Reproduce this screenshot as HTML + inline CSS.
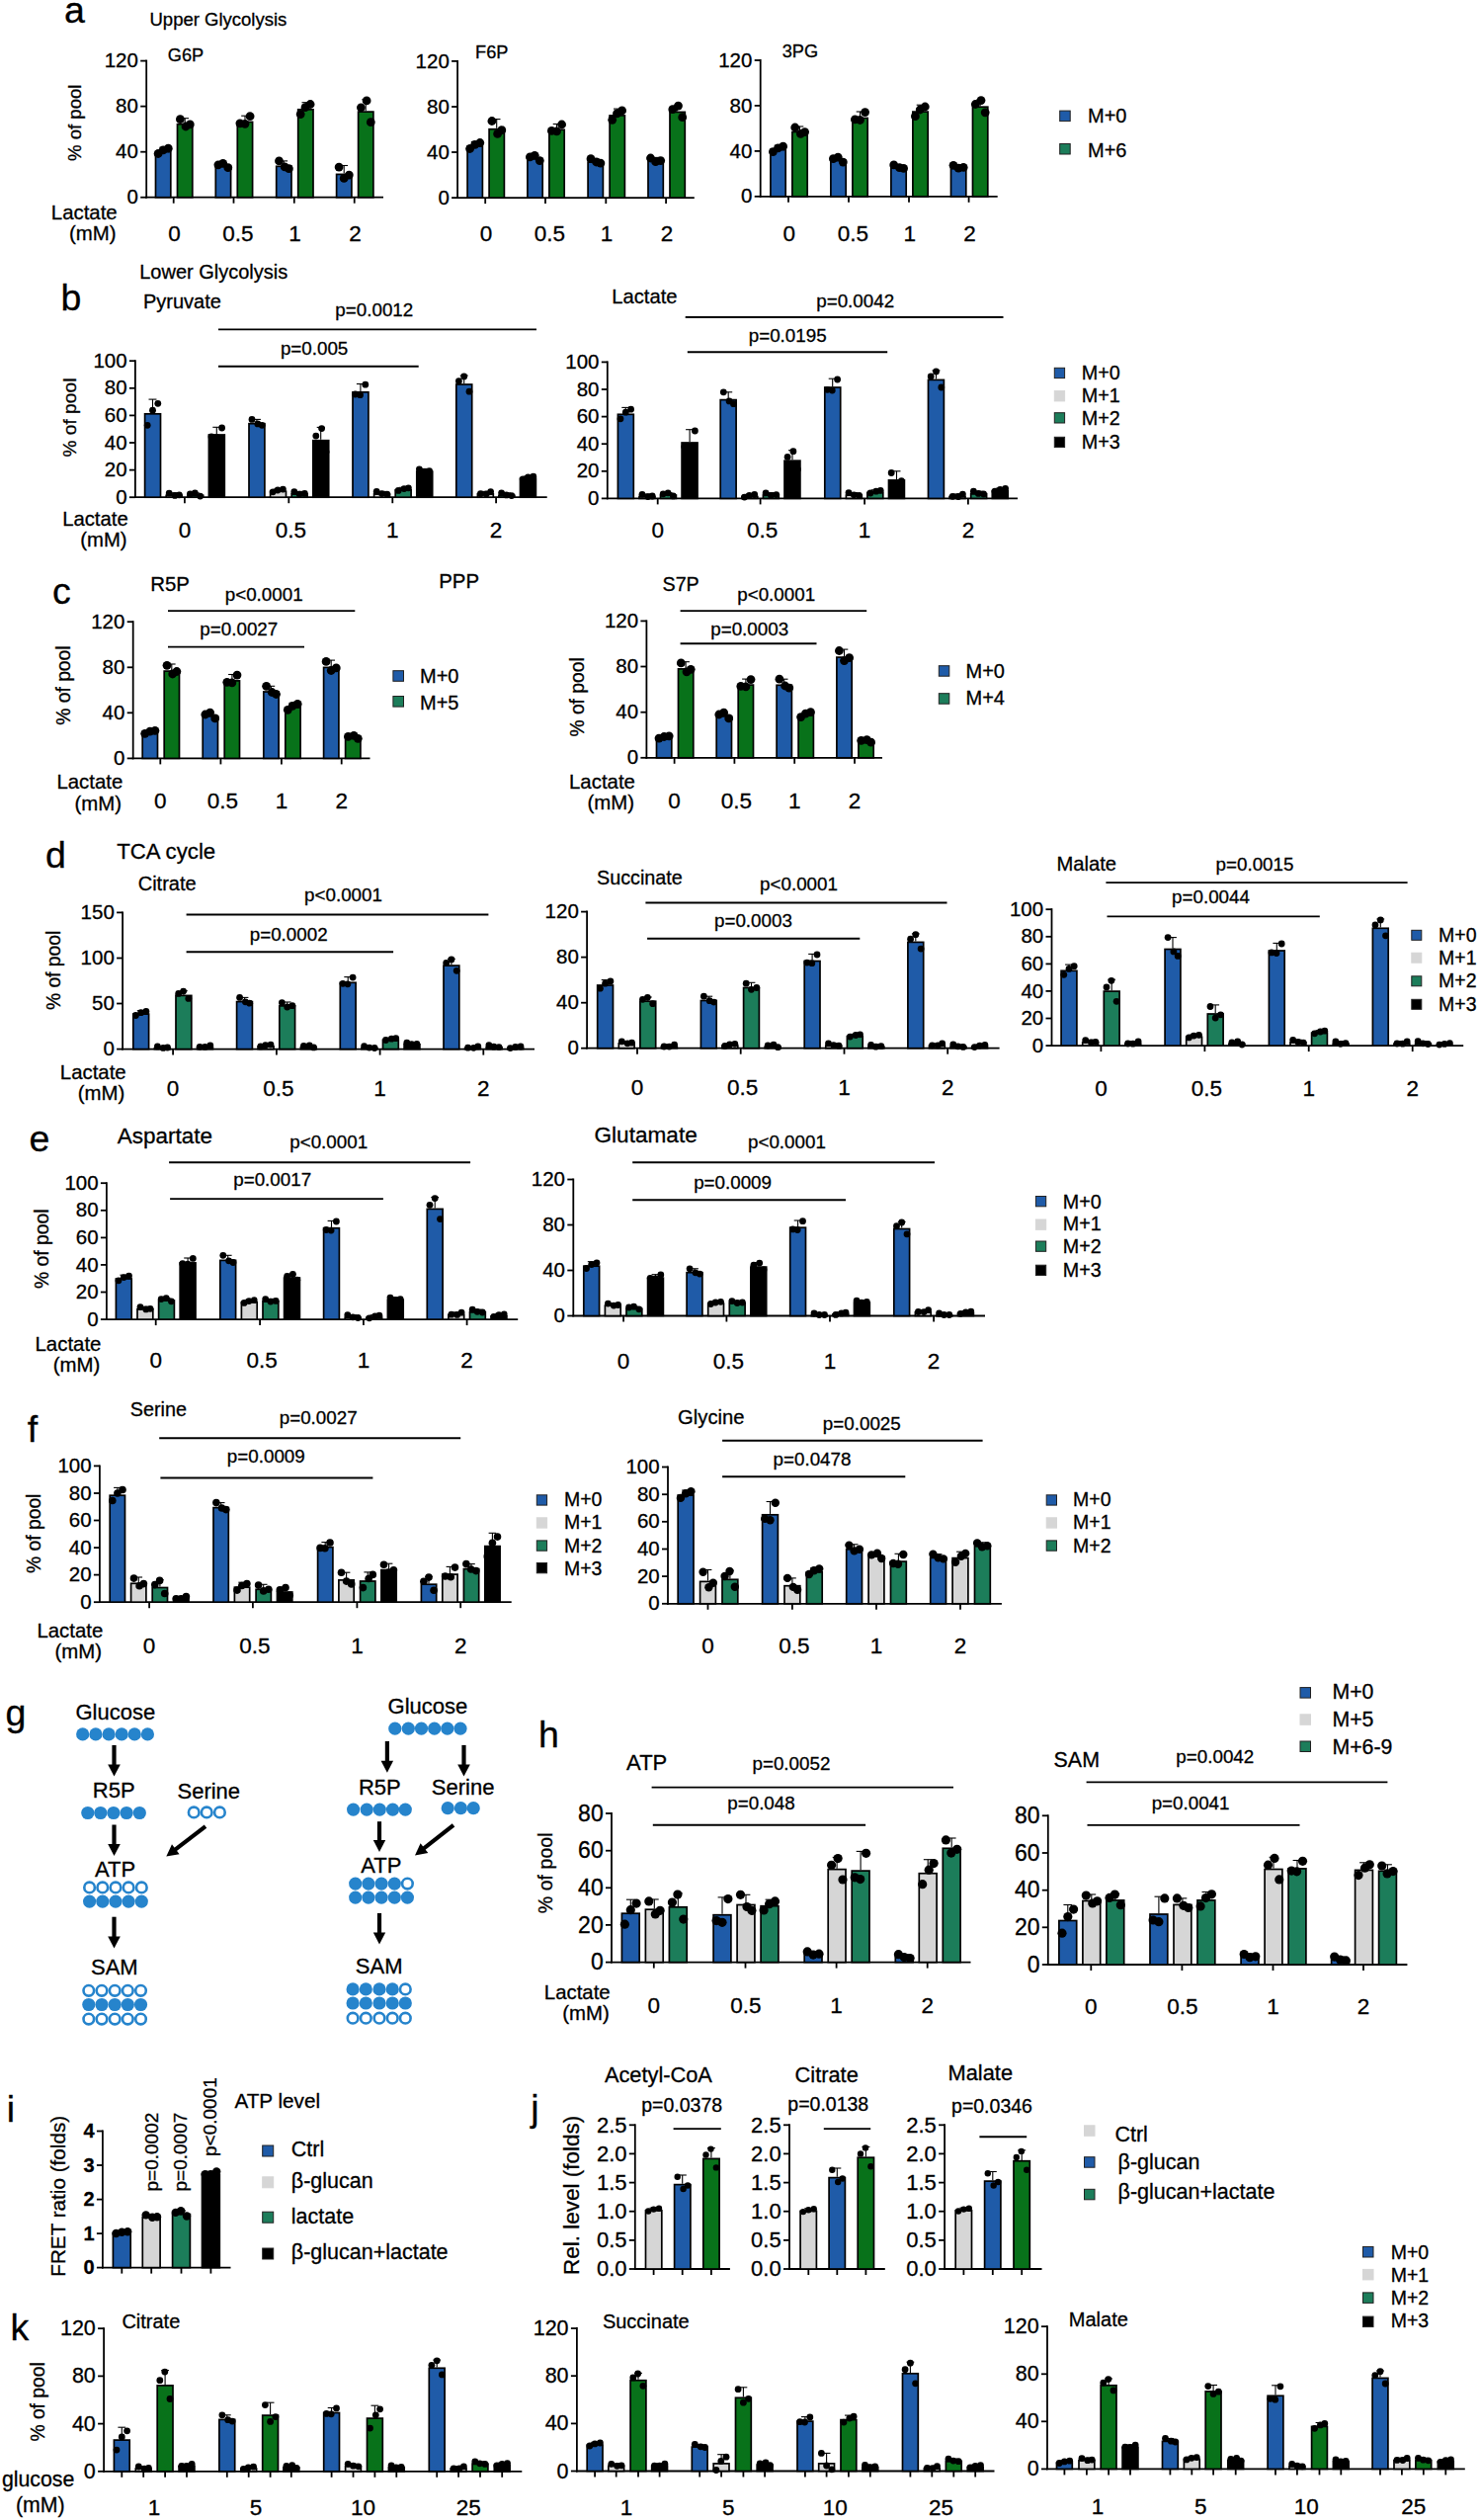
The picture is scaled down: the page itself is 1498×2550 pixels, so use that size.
<!DOCTYPE html>
<html><head><meta charset="utf-8"><style>
html,body{margin:0;padding:0;background:#fff;}
svg{display:block;}
text{font-family:"Liberation Sans", sans-serif;stroke:#000;stroke-width:0.3px;}
</style></head><body>
<svg width="1498" height="2550" viewBox="0 0 1498 2550" font-family='"Liberation Sans", sans-serif'>
<rect width="1498" height="2550" fill="#fff"/>
<text x="64.90" y="22.70" font-size="37.5" text-anchor="start" fill="#000">a</text>
<text x="151.50" y="25.50" font-size="18.5" text-anchor="start" fill="#000">Upper Glycolysis</text>
<line x1="148.2" y1="60.6" x2="148.2" y2="200.6" stroke="#000" stroke-width="1.8"/>
<line x1="142.2" y1="199.7" x2="148.2" y2="199.7" stroke="#000" stroke-width="1.8"/>
<text x="139.90" y="206.38" font-size="20.5" text-anchor="end" fill="#000">0</text>
<line x1="142.2" y1="153.7" x2="148.2" y2="153.7" stroke="#000" stroke-width="1.8"/>
<text x="139.90" y="160.34" font-size="20.5" text-anchor="end" fill="#000">40</text>
<line x1="142.2" y1="107.6" x2="148.2" y2="107.6" stroke="#000" stroke-width="1.8"/>
<text x="139.90" y="114.31" font-size="20.5" text-anchor="end" fill="#000">80</text>
<line x1="142.2" y1="61.6" x2="148.2" y2="61.6" stroke="#000" stroke-width="1.8"/>
<text x="139.90" y="68.27" font-size="20.5" text-anchor="end" fill="#000">120</text>
<line x1="147.3" y1="199.7" x2="388.0" y2="199.7" stroke="#000" stroke-width="1.8"/>
<rect x="157.5" y="153.4" width="15.3" height="46.3" fill="#1f5ba8" stroke="#000" stroke-width="1.7"/>
<line x1="165.2" y1="152.5" x2="165.2" y2="149.2" stroke="#000" stroke-width="1.1"/>
<line x1="161.4" y1="149.2" x2="169.0" y2="149.2" stroke="#000" stroke-width="1.1"/>
<circle cx="160.1" cy="155.5" r="4.4" fill="#000"/>
<circle cx="165.2" cy="151.9" r="4.4" fill="#000"/>
<circle cx="170.3" cy="150.2" r="4.4" fill="#000"/>
<rect x="179.5" y="125.7" width="15.3" height="74.0" fill="#08721a" stroke="#000" stroke-width="1.7"/>
<line x1="187.2" y1="124.9" x2="187.2" y2="119.7" stroke="#000" stroke-width="1.1"/>
<line x1="183.4" y1="119.7" x2="191.0" y2="119.7" stroke="#000" stroke-width="1.1"/>
<circle cx="182.4" cy="120.7" r="4.4" fill="#000"/>
<circle cx="188.0" cy="128.0" r="4.4" fill="#000"/>
<circle cx="192.3" cy="125.9" r="4.4" fill="#000"/>
<rect x="218.3" y="168.3" width="15.3" height="31.4" fill="#1f5ba8" stroke="#000" stroke-width="1.7"/>
<line x1="226.0" y1="167.5" x2="226.0" y2="165.2" stroke="#000" stroke-width="1.1"/>
<line x1="222.2" y1="165.2" x2="229.8" y2="165.2" stroke="#000" stroke-width="1.1"/>
<circle cx="220.9" cy="166.8" r="4.4" fill="#000"/>
<circle cx="225.7" cy="165.4" r="4.4" fill="#000"/>
<circle cx="230.8" cy="169.7" r="4.4" fill="#000"/>
<rect x="240.3" y="123.4" width="15.3" height="76.3" fill="#08721a" stroke="#000" stroke-width="1.7"/>
<line x1="248.0" y1="122.6" x2="248.0" y2="117.2" stroke="#000" stroke-width="1.1"/>
<line x1="244.2" y1="117.2" x2="251.8" y2="117.2" stroke="#000" stroke-width="1.1"/>
<circle cx="242.9" cy="124.8" r="4.4" fill="#000"/>
<circle cx="248.0" cy="125.3" r="4.4" fill="#000"/>
<circle cx="253.1" cy="117.7" r="4.4" fill="#000"/>
<rect x="279.7" y="168.3" width="15.3" height="31.4" fill="#1f5ba8" stroke="#000" stroke-width="1.7"/>
<line x1="287.3" y1="167.5" x2="287.3" y2="162.9" stroke="#000" stroke-width="1.1"/>
<line x1="283.5" y1="162.9" x2="291.1" y2="162.9" stroke="#000" stroke-width="1.1"/>
<circle cx="282.5" cy="162.9" r="4.4" fill="#000"/>
<circle cx="288.2" cy="168.9" r="4.4" fill="#000"/>
<circle cx="292.4" cy="170.7" r="4.4" fill="#000"/>
<rect x="301.7" y="110.8" width="15.3" height="88.9" fill="#08721a" stroke="#000" stroke-width="1.7"/>
<line x1="309.3" y1="109.9" x2="309.3" y2="103.7" stroke="#000" stroke-width="1.1"/>
<line x1="305.5" y1="103.7" x2="313.1" y2="103.7" stroke="#000" stroke-width="1.1"/>
<circle cx="304.2" cy="115.6" r="4.4" fill="#000"/>
<circle cx="309.0" cy="108.7" r="4.4" fill="#000"/>
<circle cx="314.1" cy="105.5" r="4.4" fill="#000"/>
<rect x="340.6" y="176.4" width="15.3" height="23.3" fill="#1f5ba8" stroke="#000" stroke-width="1.7"/>
<line x1="348.2" y1="175.5" x2="348.2" y2="167.5" stroke="#000" stroke-width="1.1"/>
<line x1="344.4" y1="167.5" x2="352.0" y2="167.5" stroke="#000" stroke-width="1.1"/>
<circle cx="343.1" cy="169.1" r="4.4" fill="#000"/>
<circle cx="348.2" cy="180.4" r="4.4" fill="#000"/>
<circle cx="353.3" cy="177.1" r="4.4" fill="#000"/>
<rect x="362.6" y="113.1" width="15.3" height="86.6" fill="#08721a" stroke="#000" stroke-width="1.7"/>
<line x1="370.2" y1="112.2" x2="370.2" y2="100.7" stroke="#000" stroke-width="1.1"/>
<line x1="366.4" y1="100.7" x2="374.0" y2="100.7" stroke="#000" stroke-width="1.1"/>
<circle cx="365.4" cy="108.8" r="4.4" fill="#000"/>
<circle cx="371.1" cy="101.9" r="4.4" fill="#000"/>
<circle cx="375.3" cy="123.7" r="4.4" fill="#000"/>
<line x1="175.7" y1="199.7" x2="175.7" y2="205.7" stroke="#000" stroke-width="1.8"/>
<line x1="236.5" y1="199.7" x2="236.5" y2="205.7" stroke="#000" stroke-width="1.8"/>
<line x1="297.8" y1="199.7" x2="297.8" y2="205.7" stroke="#000" stroke-width="1.8"/>
<line x1="358.7" y1="199.7" x2="358.7" y2="205.7" stroke="#000" stroke-width="1.8"/>
<text x="176.50" y="243.50" font-size="22.5" text-anchor="middle" fill="#000">0</text>
<text x="241.00" y="243.50" font-size="22.5" text-anchor="middle" fill="#000">0.5</text>
<text x="298.60" y="243.50" font-size="22.5" text-anchor="middle" fill="#000">1</text>
<text x="359.50" y="243.50" font-size="22.5" text-anchor="middle" fill="#000">2</text>
<text x="169.80" y="61.80" font-size="18.2" text-anchor="start" fill="#000">G6P</text>
<line x1="463.1" y1="60.9" x2="463.1" y2="201.0" stroke="#000" stroke-width="1.8"/>
<line x1="457.1" y1="200.1" x2="463.1" y2="200.1" stroke="#000" stroke-width="1.8"/>
<text x="454.80" y="206.78" font-size="20.5" text-anchor="end" fill="#000">0</text>
<line x1="457.1" y1="154.0" x2="463.1" y2="154.0" stroke="#000" stroke-width="1.8"/>
<text x="454.80" y="160.71" font-size="20.5" text-anchor="end" fill="#000">40</text>
<line x1="457.1" y1="108.0" x2="463.1" y2="108.0" stroke="#000" stroke-width="1.8"/>
<text x="454.80" y="114.64" font-size="20.5" text-anchor="end" fill="#000">80</text>
<line x1="457.1" y1="61.9" x2="463.1" y2="61.9" stroke="#000" stroke-width="1.8"/>
<text x="454.80" y="68.58" font-size="20.5" text-anchor="end" fill="#000">120</text>
<line x1="462.2" y1="200.1" x2="702.8" y2="200.1" stroke="#000" stroke-width="1.8"/>
<rect x="473.1" y="148.0" width="15.3" height="52.1" fill="#1f5ba8" stroke="#000" stroke-width="1.7"/>
<line x1="480.7" y1="147.1" x2="480.7" y2="143.4" stroke="#000" stroke-width="1.1"/>
<line x1="476.9" y1="143.4" x2="484.5" y2="143.4" stroke="#000" stroke-width="1.1"/>
<circle cx="475.6" cy="150.5" r="4.4" fill="#000"/>
<circle cx="480.7" cy="146.4" r="4.4" fill="#000"/>
<circle cx="485.8" cy="144.5" r="4.4" fill="#000"/>
<rect x="495.1" y="130.7" width="15.3" height="69.4" fill="#08721a" stroke="#000" stroke-width="1.7"/>
<line x1="502.7" y1="129.8" x2="502.7" y2="120.6" stroke="#000" stroke-width="1.1"/>
<line x1="498.9" y1="120.6" x2="506.5" y2="120.6" stroke="#000" stroke-width="1.1"/>
<circle cx="497.9" cy="122.5" r="4.4" fill="#000"/>
<circle cx="503.6" cy="135.4" r="4.4" fill="#000"/>
<circle cx="507.8" cy="131.7" r="4.4" fill="#000"/>
<rect x="533.9" y="160.6" width="15.3" height="39.5" fill="#1f5ba8" stroke="#000" stroke-width="1.7"/>
<line x1="541.5" y1="159.8" x2="541.5" y2="157.0" stroke="#000" stroke-width="1.1"/>
<line x1="537.7" y1="157.0" x2="545.3" y2="157.0" stroke="#000" stroke-width="1.1"/>
<circle cx="536.4" cy="158.9" r="4.4" fill="#000"/>
<circle cx="541.2" cy="157.3" r="4.4" fill="#000"/>
<circle cx="546.3" cy="162.6" r="4.4" fill="#000"/>
<rect x="555.9" y="131.3" width="15.3" height="68.8" fill="#08721a" stroke="#000" stroke-width="1.7"/>
<line x1="563.5" y1="130.4" x2="563.5" y2="125.5" stroke="#000" stroke-width="1.1"/>
<line x1="559.7" y1="125.5" x2="567.3" y2="125.5" stroke="#000" stroke-width="1.1"/>
<circle cx="558.4" cy="132.4" r="4.4" fill="#000"/>
<circle cx="563.5" cy="132.9" r="4.4" fill="#000"/>
<circle cx="568.6" cy="126.0" r="4.4" fill="#000"/>
<rect x="595.1" y="164.1" width="15.3" height="36.0" fill="#1f5ba8" stroke="#000" stroke-width="1.7"/>
<line x1="602.8" y1="163.2" x2="602.8" y2="160.7" stroke="#000" stroke-width="1.1"/>
<line x1="599.0" y1="160.7" x2="606.6" y2="160.7" stroke="#000" stroke-width="1.1"/>
<circle cx="598.0" cy="160.7" r="4.4" fill="#000"/>
<circle cx="603.6" cy="164.0" r="4.4" fill="#000"/>
<circle cx="607.9" cy="165.1" r="4.4" fill="#000"/>
<rect x="617.1" y="116.9" width="15.3" height="83.2" fill="#08721a" stroke="#000" stroke-width="1.7"/>
<line x1="624.8" y1="116.0" x2="624.8" y2="110.1" stroke="#000" stroke-width="1.1"/>
<line x1="621.0" y1="110.1" x2="628.6" y2="110.1" stroke="#000" stroke-width="1.1"/>
<circle cx="619.7" cy="121.3" r="4.4" fill="#000"/>
<circle cx="624.5" cy="114.9" r="4.4" fill="#000"/>
<circle cx="629.6" cy="111.9" r="4.4" fill="#000"/>
<rect x="656.0" y="162.9" width="15.3" height="37.2" fill="#1f5ba8" stroke="#000" stroke-width="1.7"/>
<line x1="663.6" y1="162.1" x2="663.6" y2="159.4" stroke="#000" stroke-width="1.1"/>
<line x1="659.8" y1="159.4" x2="667.4" y2="159.4" stroke="#000" stroke-width="1.1"/>
<circle cx="658.5" cy="160.0" r="4.4" fill="#000"/>
<circle cx="663.6" cy="163.7" r="4.4" fill="#000"/>
<circle cx="668.7" cy="162.6" r="4.4" fill="#000"/>
<rect x="678.0" y="113.4" width="15.3" height="86.7" fill="#08721a" stroke="#000" stroke-width="1.7"/>
<line x1="685.6" y1="112.6" x2="685.6" y2="106.4" stroke="#000" stroke-width="1.1"/>
<line x1="681.8" y1="106.4" x2="689.4" y2="106.4" stroke="#000" stroke-width="1.1"/>
<circle cx="680.8" cy="110.7" r="4.4" fill="#000"/>
<circle cx="686.5" cy="107.1" r="4.4" fill="#000"/>
<circle cx="690.7" cy="118.7" r="4.4" fill="#000"/>
<line x1="491.2" y1="200.1" x2="491.2" y2="206.1" stroke="#000" stroke-width="1.8"/>
<line x1="552.0" y1="200.1" x2="552.0" y2="206.1" stroke="#000" stroke-width="1.8"/>
<line x1="613.3" y1="200.1" x2="613.3" y2="206.1" stroke="#000" stroke-width="1.8"/>
<line x1="674.1" y1="200.1" x2="674.1" y2="206.1" stroke="#000" stroke-width="1.8"/>
<text x="492.00" y="243.50" font-size="22.5" text-anchor="middle" fill="#000">0</text>
<text x="556.50" y="243.50" font-size="22.5" text-anchor="middle" fill="#000">0.5</text>
<text x="614.10" y="243.50" font-size="22.5" text-anchor="middle" fill="#000">1</text>
<text x="674.90" y="243.50" font-size="22.5" text-anchor="middle" fill="#000">2</text>
<text x="481.10" y="58.90" font-size="18.2" text-anchor="start" fill="#000">F6P</text>
<line x1="769.7" y1="60.0" x2="769.7" y2="199.7" stroke="#000" stroke-width="1.8"/>
<line x1="763.7" y1="198.8" x2="769.7" y2="198.8" stroke="#000" stroke-width="1.8"/>
<text x="761.40" y="205.48" font-size="20.5" text-anchor="end" fill="#000">0</text>
<line x1="763.7" y1="152.9" x2="769.7" y2="152.9" stroke="#000" stroke-width="1.8"/>
<text x="761.40" y="159.54" font-size="20.5" text-anchor="end" fill="#000">40</text>
<line x1="763.7" y1="106.9" x2="769.7" y2="106.9" stroke="#000" stroke-width="1.8"/>
<text x="761.40" y="113.61" font-size="20.5" text-anchor="end" fill="#000">80</text>
<line x1="763.7" y1="61.0" x2="769.7" y2="61.0" stroke="#000" stroke-width="1.8"/>
<text x="761.40" y="67.67" font-size="20.5" text-anchor="end" fill="#000">120</text>
<line x1="768.8" y1="198.8" x2="1009.7" y2="198.8" stroke="#000" stroke-width="1.8"/>
<rect x="779.9" y="151.4" width="15.3" height="47.4" fill="#1f5ba8" stroke="#000" stroke-width="1.7"/>
<line x1="787.5" y1="150.6" x2="787.5" y2="147.2" stroke="#000" stroke-width="1.1"/>
<line x1="783.7" y1="147.2" x2="791.3" y2="147.2" stroke="#000" stroke-width="1.1"/>
<circle cx="782.4" cy="153.6" r="4.4" fill="#000"/>
<circle cx="787.5" cy="149.9" r="4.4" fill="#000"/>
<circle cx="792.6" cy="148.2" r="4.4" fill="#000"/>
<rect x="801.9" y="133.5" width="15.3" height="65.3" fill="#08721a" stroke="#000" stroke-width="1.7"/>
<line x1="809.5" y1="132.7" x2="809.5" y2="128.0" stroke="#000" stroke-width="1.1"/>
<line x1="805.7" y1="128.0" x2="813.3" y2="128.0" stroke="#000" stroke-width="1.1"/>
<circle cx="804.7" cy="129.0" r="4.4" fill="#000"/>
<circle cx="810.4" cy="135.4" r="4.4" fill="#000"/>
<circle cx="814.6" cy="133.6" r="4.4" fill="#000"/>
<rect x="840.9" y="162.3" width="15.3" height="36.5" fill="#1f5ba8" stroke="#000" stroke-width="1.7"/>
<line x1="848.5" y1="161.5" x2="848.5" y2="158.9" stroke="#000" stroke-width="1.1"/>
<line x1="844.7" y1="158.9" x2="852.3" y2="158.9" stroke="#000" stroke-width="1.1"/>
<circle cx="843.4" cy="160.7" r="4.4" fill="#000"/>
<circle cx="848.2" cy="159.1" r="4.4" fill="#000"/>
<circle cx="853.3" cy="164.1" r="4.4" fill="#000"/>
<rect x="862.9" y="119.5" width="15.3" height="79.3" fill="#08721a" stroke="#000" stroke-width="1.7"/>
<line x1="870.5" y1="118.6" x2="870.5" y2="113.0" stroke="#000" stroke-width="1.1"/>
<line x1="866.7" y1="113.0" x2="874.3" y2="113.0" stroke="#000" stroke-width="1.1"/>
<circle cx="865.4" cy="120.9" r="4.4" fill="#000"/>
<circle cx="870.5" cy="121.5" r="4.4" fill="#000"/>
<circle cx="875.6" cy="113.6" r="4.4" fill="#000"/>
<rect x="901.9" y="169.8" width="15.3" height="29.0" fill="#1f5ba8" stroke="#000" stroke-width="1.7"/>
<line x1="909.5" y1="168.9" x2="909.5" y2="166.9" stroke="#000" stroke-width="1.1"/>
<line x1="905.7" y1="166.9" x2="913.3" y2="166.9" stroke="#000" stroke-width="1.1"/>
<circle cx="904.7" cy="166.9" r="4.4" fill="#000"/>
<circle cx="910.4" cy="169.6" r="4.4" fill="#000"/>
<circle cx="914.6" cy="170.4" r="4.4" fill="#000"/>
<rect x="923.9" y="113.1" width="15.3" height="85.7" fill="#08721a" stroke="#000" stroke-width="1.7"/>
<line x1="931.5" y1="112.2" x2="931.5" y2="106.2" stroke="#000" stroke-width="1.1"/>
<line x1="927.7" y1="106.2" x2="935.3" y2="106.2" stroke="#000" stroke-width="1.1"/>
<circle cx="926.4" cy="117.7" r="4.4" fill="#000"/>
<circle cx="931.2" cy="111.0" r="4.4" fill="#000"/>
<circle cx="936.3" cy="108.0" r="4.4" fill="#000"/>
<rect x="962.5" y="169.8" width="15.3" height="29.0" fill="#1f5ba8" stroke="#000" stroke-width="1.7"/>
<line x1="970.1" y1="168.9" x2="970.1" y2="166.9" stroke="#000" stroke-width="1.1"/>
<line x1="966.3" y1="166.9" x2="973.9" y2="166.9" stroke="#000" stroke-width="1.1"/>
<circle cx="965.0" cy="167.3" r="4.4" fill="#000"/>
<circle cx="970.1" cy="170.2" r="4.4" fill="#000"/>
<circle cx="975.2" cy="169.4" r="4.4" fill="#000"/>
<rect x="984.5" y="108.2" width="15.3" height="90.6" fill="#08721a" stroke="#000" stroke-width="1.7"/>
<line x1="992.1" y1="107.4" x2="992.1" y2="101.0" stroke="#000" stroke-width="1.1"/>
<line x1="988.3" y1="101.0" x2="995.9" y2="101.0" stroke="#000" stroke-width="1.1"/>
<circle cx="987.3" cy="105.5" r="4.4" fill="#000"/>
<circle cx="993.0" cy="101.6" r="4.4" fill="#000"/>
<circle cx="997.2" cy="113.8" r="4.4" fill="#000"/>
<line x1="798.0" y1="198.8" x2="798.0" y2="204.8" stroke="#000" stroke-width="1.8"/>
<line x1="859.0" y1="198.8" x2="859.0" y2="204.8" stroke="#000" stroke-width="1.8"/>
<line x1="920.0" y1="198.8" x2="920.0" y2="204.8" stroke="#000" stroke-width="1.8"/>
<line x1="980.6" y1="198.8" x2="980.6" y2="204.8" stroke="#000" stroke-width="1.8"/>
<text x="798.80" y="243.50" font-size="22.5" text-anchor="middle" fill="#000">0</text>
<text x="863.50" y="243.50" font-size="22.5" text-anchor="middle" fill="#000">0.5</text>
<text x="920.80" y="243.50" font-size="22.5" text-anchor="middle" fill="#000">1</text>
<text x="981.40" y="243.50" font-size="22.5" text-anchor="middle" fill="#000">2</text>
<text x="791.70" y="58.30" font-size="18.2" text-anchor="start" fill="#000">3PG</text>
<text x="0" y="0" font-size="18.6" text-anchor="middle" dominant-baseline="central" transform="translate(75.2 124.3) rotate(-90)">% of pool</text>
<text x="118.70" y="221.50" font-size="20.4" text-anchor="end" fill="#000">Lactate</text>
<text x="117.50" y="242.90" font-size="20.4" text-anchor="end" fill="#000">(mM)</text>
<rect x="1072.7" y="112.1" width="10.5" height="10.5" fill="#1f5ba8" stroke="#222" stroke-width="1"/>
<rect x="1072.7" y="145.5" width="10.5" height="10.5" fill="#1c7d5a" stroke="#222" stroke-width="1"/>
<text x="1101.00" y="124.30" font-size="20" text-anchor="start" fill="#000">M+0</text>
<text x="1101.00" y="158.50" font-size="20" text-anchor="start" fill="#000">M+6</text>
<text x="141.20" y="281.90" font-size="20" text-anchor="start" fill="#000">Lower Glycolysis</text>
<text x="61.40" y="314.40" font-size="37.5" text-anchor="start" fill="#000">b</text>
<line x1="136.9" y1="364.2" x2="136.9" y2="504.1" stroke="#000" stroke-width="1.8"/>
<line x1="130.9" y1="503.2" x2="136.9" y2="503.2" stroke="#000" stroke-width="1.8"/>
<text x="128.60" y="509.88" font-size="20.5" text-anchor="end" fill="#000">0</text>
<line x1="130.9" y1="475.6" x2="136.9" y2="475.6" stroke="#000" stroke-width="1.8"/>
<text x="128.60" y="482.27" font-size="20.5" text-anchor="end" fill="#000">20</text>
<line x1="130.9" y1="448.0" x2="136.9" y2="448.0" stroke="#000" stroke-width="1.8"/>
<text x="128.60" y="454.68" font-size="20.5" text-anchor="end" fill="#000">40</text>
<line x1="130.9" y1="420.4" x2="136.9" y2="420.4" stroke="#000" stroke-width="1.8"/>
<text x="128.60" y="427.07" font-size="20.5" text-anchor="end" fill="#000">60</text>
<line x1="130.9" y1="392.8" x2="136.9" y2="392.8" stroke="#000" stroke-width="1.8"/>
<text x="128.60" y="399.48" font-size="20.5" text-anchor="end" fill="#000">80</text>
<line x1="130.9" y1="365.2" x2="136.9" y2="365.2" stroke="#000" stroke-width="1.8"/>
<text x="128.60" y="371.88" font-size="20.5" text-anchor="end" fill="#000">100</text>
<line x1="136.0" y1="503.2" x2="553.7" y2="503.2" stroke="#000" stroke-width="1.8"/>
<rect x="146.6" y="418.8" width="15.9" height="84.4" fill="#1f5ba8" stroke="#000" stroke-width="1.7"/>
<line x1="154.5" y1="417.9" x2="154.5" y2="404.1" stroke="#000" stroke-width="1.1"/>
<line x1="150.5" y1="404.1" x2="158.5" y2="404.1" stroke="#000" stroke-width="1.1"/>
<circle cx="149.2" cy="430.3" r="3.4" fill="#000"/>
<circle cx="154.5" cy="415.2" r="3.4" fill="#000"/>
<circle cx="159.8" cy="408.3" r="3.4" fill="#000"/>
<rect x="168.2" y="501.3" width="15.9" height="1.9" fill="#d6d6d6" stroke="#000" stroke-width="1.7"/>
<line x1="176.1" y1="500.4" x2="176.1" y2="498.8" stroke="#000" stroke-width="1.1"/>
<line x1="172.1" y1="498.8" x2="180.1" y2="498.8" stroke="#000" stroke-width="1.1"/>
<circle cx="171.2" cy="499.1" r="3.4" fill="#000"/>
<circle cx="177.0" cy="501.4" r="3.4" fill="#000"/>
<circle cx="181.4" cy="500.8" r="3.4" fill="#000"/>
<rect x="189.8" y="501.3" width="15.9" height="1.9" fill="#1c7d5a" stroke="#000" stroke-width="1.7"/>
<line x1="197.7" y1="500.4" x2="197.7" y2="498.8" stroke="#000" stroke-width="1.1"/>
<line x1="193.7" y1="498.8" x2="201.7" y2="498.8" stroke="#000" stroke-width="1.1"/>
<circle cx="192.4" cy="499.9" r="3.4" fill="#000"/>
<circle cx="197.3" cy="498.9" r="3.4" fill="#000"/>
<circle cx="202.6" cy="502.1" r="3.4" fill="#000"/>
<rect x="211.4" y="440.0" width="15.9" height="63.2" fill="#000" stroke="#000" stroke-width="1.7"/>
<line x1="219.3" y1="439.2" x2="219.3" y2="432.3" stroke="#000" stroke-width="1.1"/>
<line x1="215.3" y1="432.3" x2="223.3" y2="432.3" stroke="#000" stroke-width="1.1"/>
<circle cx="214.0" cy="441.9" r="3.4" fill="#000"/>
<circle cx="219.3" cy="442.6" r="3.4" fill="#000"/>
<circle cx="224.6" cy="433.0" r="3.4" fill="#000"/>
<rect x="252.0" y="428.7" width="15.9" height="74.5" fill="#1f5ba8" stroke="#000" stroke-width="1.7"/>
<line x1="259.9" y1="427.9" x2="259.9" y2="424.4" stroke="#000" stroke-width="1.1"/>
<line x1="255.9" y1="424.4" x2="263.9" y2="424.4" stroke="#000" stroke-width="1.1"/>
<circle cx="255.0" cy="424.4" r="3.4" fill="#000"/>
<circle cx="260.8" cy="428.9" r="3.4" fill="#000"/>
<circle cx="265.2" cy="430.3" r="3.4" fill="#000"/>
<rect x="273.6" y="497.2" width="15.9" height="6.0" fill="#d6d6d6" stroke="#000" stroke-width="1.7"/>
<line x1="281.5" y1="496.3" x2="281.5" y2="494.6" stroke="#000" stroke-width="1.1"/>
<line x1="277.5" y1="494.6" x2="285.5" y2="494.6" stroke="#000" stroke-width="1.1"/>
<circle cx="276.2" cy="497.8" r="3.4" fill="#000"/>
<circle cx="281.1" cy="496.0" r="3.4" fill="#000"/>
<circle cx="286.4" cy="495.1" r="3.4" fill="#000"/>
<rect x="295.2" y="499.9" width="15.9" height="3.3" fill="#1c7d5a" stroke="#000" stroke-width="1.7"/>
<line x1="303.1" y1="499.1" x2="303.1" y2="497.4" stroke="#000" stroke-width="1.1"/>
<line x1="299.1" y1="497.4" x2="307.1" y2="497.4" stroke="#000" stroke-width="1.1"/>
<circle cx="297.8" cy="497.7" r="3.4" fill="#000"/>
<circle cx="303.1" cy="500.1" r="3.4" fill="#000"/>
<circle cx="308.4" cy="499.4" r="3.4" fill="#000"/>
<rect x="316.8" y="445.7" width="15.9" height="57.5" fill="#000" stroke="#000" stroke-width="1.7"/>
<line x1="324.7" y1="444.8" x2="324.7" y2="432.4" stroke="#000" stroke-width="1.1"/>
<line x1="320.7" y1="432.4" x2="328.7" y2="432.4" stroke="#000" stroke-width="1.1"/>
<circle cx="319.8" cy="441.1" r="3.4" fill="#000"/>
<circle cx="325.6" cy="433.6" r="3.4" fill="#000"/>
<circle cx="330.0" cy="457.2" r="3.4" fill="#000"/>
<rect x="357.0" y="396.8" width="15.9" height="106.4" fill="#1f5ba8" stroke="#000" stroke-width="1.7"/>
<line x1="364.9" y1="396.0" x2="364.9" y2="388.5" stroke="#000" stroke-width="1.1"/>
<line x1="360.9" y1="388.5" x2="368.9" y2="388.5" stroke="#000" stroke-width="1.1"/>
<circle cx="359.6" cy="399.0" r="3.4" fill="#000"/>
<circle cx="364.5" cy="399.7" r="3.4" fill="#000"/>
<circle cx="369.8" cy="389.2" r="3.4" fill="#000"/>
<rect x="378.6" y="499.9" width="15.9" height="3.3" fill="#d6d6d6" stroke="#000" stroke-width="1.7"/>
<line x1="386.5" y1="499.1" x2="386.5" y2="497.4" stroke="#000" stroke-width="1.1"/>
<line x1="382.5" y1="497.4" x2="390.5" y2="497.4" stroke="#000" stroke-width="1.1"/>
<circle cx="381.2" cy="497.4" r="3.4" fill="#000"/>
<circle cx="386.5" cy="499.6" r="3.4" fill="#000"/>
<circle cx="391.8" cy="500.2" r="3.4" fill="#000"/>
<rect x="400.2" y="495.8" width="15.9" height="7.4" fill="#1c7d5a" stroke="#000" stroke-width="1.7"/>
<line x1="408.1" y1="494.9" x2="408.1" y2="493.3" stroke="#000" stroke-width="1.1"/>
<line x1="404.1" y1="493.3" x2="412.1" y2="493.3" stroke="#000" stroke-width="1.1"/>
<circle cx="403.2" cy="496.4" r="3.4" fill="#000"/>
<circle cx="409.0" cy="494.6" r="3.4" fill="#000"/>
<circle cx="413.4" cy="493.8" r="3.4" fill="#000"/>
<rect x="421.8" y="477.1" width="15.9" height="26.1" fill="#000" stroke="#000" stroke-width="1.7"/>
<line x1="429.7" y1="476.3" x2="429.7" y2="474.4" stroke="#000" stroke-width="1.1"/>
<line x1="425.7" y1="474.4" x2="433.7" y2="474.4" stroke="#000" stroke-width="1.1"/>
<circle cx="424.4" cy="474.8" r="3.4" fill="#000"/>
<circle cx="429.3" cy="477.4" r="3.4" fill="#000"/>
<circle cx="434.6" cy="476.7" r="3.4" fill="#000"/>
<rect x="461.8" y="389.0" width="15.9" height="114.2" fill="#1f5ba8" stroke="#000" stroke-width="1.7"/>
<line x1="469.7" y1="388.1" x2="469.7" y2="380.1" stroke="#000" stroke-width="1.1"/>
<line x1="465.7" y1="380.1" x2="473.7" y2="380.1" stroke="#000" stroke-width="1.1"/>
<circle cx="464.4" cy="385.7" r="3.4" fill="#000"/>
<circle cx="469.7" cy="380.9" r="3.4" fill="#000"/>
<circle cx="475.0" cy="396.2" r="3.4" fill="#000"/>
<rect x="483.4" y="499.9" width="15.9" height="3.3" fill="#d6d6d6" stroke="#000" stroke-width="1.7"/>
<line x1="491.3" y1="499.1" x2="491.3" y2="497.4" stroke="#000" stroke-width="1.1"/>
<line x1="487.3" y1="497.4" x2="495.3" y2="497.4" stroke="#000" stroke-width="1.1"/>
<circle cx="486.4" cy="499.7" r="3.4" fill="#000"/>
<circle cx="492.2" cy="499.9" r="3.4" fill="#000"/>
<circle cx="496.6" cy="497.6" r="3.4" fill="#000"/>
<rect x="504.9" y="501.3" width="15.9" height="1.9" fill="#1c7d5a" stroke="#000" stroke-width="1.7"/>
<line x1="512.9" y1="500.4" x2="512.9" y2="498.8" stroke="#000" stroke-width="1.1"/>
<line x1="508.9" y1="498.8" x2="516.9" y2="498.8" stroke="#000" stroke-width="1.1"/>
<circle cx="507.6" cy="498.8" r="3.4" fill="#000"/>
<circle cx="512.5" cy="500.9" r="3.4" fill="#000"/>
<circle cx="517.8" cy="501.6" r="3.4" fill="#000"/>
<rect x="526.5" y="484.2" width="15.9" height="19.0" fill="#000" stroke="#000" stroke-width="1.7"/>
<line x1="534.5" y1="483.3" x2="534.5" y2="481.7" stroke="#000" stroke-width="1.1"/>
<line x1="530.5" y1="481.7" x2="538.5" y2="481.7" stroke="#000" stroke-width="1.1"/>
<circle cx="529.2" cy="484.8" r="3.4" fill="#000"/>
<circle cx="534.5" cy="483.0" r="3.4" fill="#000"/>
<circle cx="539.8" cy="482.2" r="3.4" fill="#000"/>
<line x1="186.9" y1="503.2" x2="186.9" y2="509.2" stroke="#000" stroke-width="1.8"/>
<line x1="292.3" y1="503.2" x2="292.3" y2="509.2" stroke="#000" stroke-width="1.8"/>
<line x1="397.3" y1="503.2" x2="397.3" y2="509.2" stroke="#000" stroke-width="1.8"/>
<line x1="502.1" y1="503.2" x2="502.1" y2="509.2" stroke="#000" stroke-width="1.8"/>
<text x="186.90" y="544.20" font-size="22.5" text-anchor="middle" fill="#000">0</text>
<text x="294.30" y="544.20" font-size="22.5" text-anchor="middle" fill="#000">0.5</text>
<text x="397.30" y="544.20" font-size="22.5" text-anchor="middle" fill="#000">1</text>
<text x="502.10" y="544.20" font-size="22.5" text-anchor="middle" fill="#000">2</text>
<line x1="221.0" y1="333.4" x2="543.0" y2="333.4" stroke="#000" stroke-width="1.9"/>
<text x="378.80" y="319.70" font-size="18.8" text-anchor="middle" fill="#000">p=0.0012</text>
<line x1="221.0" y1="370.7" x2="423.7" y2="370.7" stroke="#000" stroke-width="1.9"/>
<text x="318.10" y="359.00" font-size="18.8" text-anchor="middle" fill="#000">p=0.005</text>
<text x="144.90" y="311.90" font-size="20" text-anchor="start" fill="#000">Pyruvate</text>
<text x="0" y="0" font-size="19.2" text-anchor="middle" dominant-baseline="central" transform="translate(70.7 422.6) rotate(-90)">% of pool</text>
<text x="129.70" y="531.70" font-size="20.3" text-anchor="end" fill="#000">Lactate</text>
<text x="128.60" y="552.90" font-size="20.3" text-anchor="end" fill="#000">(mM)</text>
<line x1="614.8" y1="365.4" x2="614.8" y2="505.3" stroke="#000" stroke-width="1.8"/>
<line x1="608.8" y1="504.4" x2="614.8" y2="504.4" stroke="#000" stroke-width="1.8"/>
<text x="606.50" y="511.07" font-size="20.5" text-anchor="end" fill="#000">0</text>
<line x1="608.8" y1="476.8" x2="614.8" y2="476.8" stroke="#000" stroke-width="1.8"/>
<text x="606.50" y="483.47" font-size="20.5" text-anchor="end" fill="#000">20</text>
<line x1="608.8" y1="449.2" x2="614.8" y2="449.2" stroke="#000" stroke-width="1.8"/>
<text x="606.50" y="455.88" font-size="20.5" text-anchor="end" fill="#000">40</text>
<line x1="608.8" y1="421.6" x2="614.8" y2="421.6" stroke="#000" stroke-width="1.8"/>
<text x="606.50" y="428.27" font-size="20.5" text-anchor="end" fill="#000">60</text>
<line x1="608.8" y1="394.0" x2="614.8" y2="394.0" stroke="#000" stroke-width="1.8"/>
<text x="606.50" y="400.68" font-size="20.5" text-anchor="end" fill="#000">80</text>
<line x1="608.8" y1="366.4" x2="614.8" y2="366.4" stroke="#000" stroke-width="1.8"/>
<text x="606.50" y="373.07" font-size="20.5" text-anchor="end" fill="#000">100</text>
<line x1="613.9" y1="504.4" x2="1030.0" y2="504.4" stroke="#000" stroke-width="1.8"/>
<rect x="625.4" y="419.3" width="15.9" height="85.1" fill="#1f5ba8" stroke="#000" stroke-width="1.7"/>
<line x1="633.3" y1="418.4" x2="633.3" y2="412.4" stroke="#000" stroke-width="1.1"/>
<line x1="629.3" y1="412.4" x2="637.3" y2="412.4" stroke="#000" stroke-width="1.1"/>
<circle cx="628.0" cy="423.8" r="3.4" fill="#000"/>
<circle cx="633.3" cy="417.2" r="3.4" fill="#000"/>
<circle cx="638.6" cy="414.2" r="3.4" fill="#000"/>
<rect x="647.0" y="502.5" width="15.9" height="1.9" fill="#d6d6d6" stroke="#000" stroke-width="1.7"/>
<line x1="654.9" y1="501.6" x2="654.9" y2="500.0" stroke="#000" stroke-width="1.1"/>
<line x1="650.9" y1="500.0" x2="658.9" y2="500.0" stroke="#000" stroke-width="1.1"/>
<circle cx="650.0" cy="500.3" r="3.4" fill="#000"/>
<circle cx="655.8" cy="502.6" r="3.4" fill="#000"/>
<circle cx="660.2" cy="502.0" r="3.4" fill="#000"/>
<rect x="668.5" y="501.1" width="15.9" height="3.3" fill="#1c7d5a" stroke="#000" stroke-width="1.7"/>
<line x1="676.5" y1="500.3" x2="676.5" y2="498.6" stroke="#000" stroke-width="1.1"/>
<line x1="672.5" y1="498.6" x2="680.5" y2="498.6" stroke="#000" stroke-width="1.1"/>
<circle cx="671.2" cy="499.8" r="3.4" fill="#000"/>
<circle cx="676.1" cy="498.8" r="3.4" fill="#000"/>
<circle cx="681.4" cy="501.9" r="3.4" fill="#000"/>
<rect x="690.1" y="448.0" width="15.9" height="56.4" fill="#000" stroke="#000" stroke-width="1.7"/>
<line x1="698.1" y1="447.1" x2="698.1" y2="434.7" stroke="#000" stroke-width="1.1"/>
<line x1="694.1" y1="434.7" x2="702.1" y2="434.7" stroke="#000" stroke-width="1.1"/>
<circle cx="692.8" cy="452.1" r="3.4" fill="#000"/>
<circle cx="698.1" cy="453.3" r="3.4" fill="#000"/>
<circle cx="703.4" cy="436.0" r="3.4" fill="#000"/>
<rect x="729.2" y="404.6" width="15.9" height="99.8" fill="#1f5ba8" stroke="#000" stroke-width="1.7"/>
<line x1="737.2" y1="403.8" x2="737.2" y2="396.8" stroke="#000" stroke-width="1.1"/>
<line x1="733.2" y1="396.8" x2="741.2" y2="396.8" stroke="#000" stroke-width="1.1"/>
<circle cx="732.3" cy="396.8" r="3.4" fill="#000"/>
<circle cx="738.1" cy="405.9" r="3.4" fill="#000"/>
<circle cx="742.5" cy="408.7" r="3.4" fill="#000"/>
<rect x="750.9" y="502.5" width="15.9" height="1.9" fill="#d6d6d6" stroke="#000" stroke-width="1.7"/>
<line x1="758.8" y1="501.6" x2="758.8" y2="500.0" stroke="#000" stroke-width="1.1"/>
<line x1="754.8" y1="500.0" x2="762.8" y2="500.0" stroke="#000" stroke-width="1.1"/>
<circle cx="753.5" cy="503.1" r="3.4" fill="#000"/>
<circle cx="758.4" cy="501.3" r="3.4" fill="#000"/>
<circle cx="763.7" cy="500.5" r="3.4" fill="#000"/>
<rect x="772.4" y="501.1" width="15.9" height="3.3" fill="#1c7d5a" stroke="#000" stroke-width="1.7"/>
<line x1="780.4" y1="500.3" x2="780.4" y2="498.6" stroke="#000" stroke-width="1.1"/>
<line x1="776.4" y1="498.6" x2="784.4" y2="498.6" stroke="#000" stroke-width="1.1"/>
<circle cx="775.1" cy="498.9" r="3.4" fill="#000"/>
<circle cx="780.4" cy="501.3" r="3.4" fill="#000"/>
<circle cx="785.7" cy="500.6" r="3.4" fill="#000"/>
<rect x="794.0" y="466.2" width="15.9" height="38.2" fill="#000" stroke="#000" stroke-width="1.7"/>
<line x1="802.0" y1="465.3" x2="802.0" y2="455.7" stroke="#000" stroke-width="1.1"/>
<line x1="798.0" y1="455.7" x2="806.0" y2="455.7" stroke="#000" stroke-width="1.1"/>
<circle cx="797.1" cy="462.4" r="3.4" fill="#000"/>
<circle cx="802.9" cy="456.7" r="3.4" fill="#000"/>
<circle cx="807.3" cy="475.0" r="3.4" fill="#000"/>
<rect x="834.8" y="392.0" width="15.9" height="112.4" fill="#1f5ba8" stroke="#000" stroke-width="1.7"/>
<line x1="842.7" y1="391.1" x2="842.7" y2="383.2" stroke="#000" stroke-width="1.1"/>
<line x1="838.7" y1="383.2" x2="846.7" y2="383.2" stroke="#000" stroke-width="1.1"/>
<circle cx="837.4" cy="394.3" r="3.4" fill="#000"/>
<circle cx="842.3" cy="395.1" r="3.4" fill="#000"/>
<circle cx="847.6" cy="384.0" r="3.4" fill="#000"/>
<rect x="856.4" y="501.1" width="15.9" height="3.3" fill="#d6d6d6" stroke="#000" stroke-width="1.7"/>
<line x1="864.3" y1="500.3" x2="864.3" y2="498.6" stroke="#000" stroke-width="1.1"/>
<line x1="860.3" y1="498.6" x2="868.3" y2="498.6" stroke="#000" stroke-width="1.1"/>
<circle cx="859.0" cy="498.6" r="3.4" fill="#000"/>
<circle cx="864.3" cy="500.8" r="3.4" fill="#000"/>
<circle cx="869.6" cy="501.4" r="3.4" fill="#000"/>
<rect x="877.9" y="498.4" width="15.9" height="6.0" fill="#1c7d5a" stroke="#000" stroke-width="1.7"/>
<line x1="885.9" y1="497.5" x2="885.9" y2="495.8" stroke="#000" stroke-width="1.1"/>
<line x1="881.9" y1="495.8" x2="889.9" y2="495.8" stroke="#000" stroke-width="1.1"/>
<circle cx="881.0" cy="499.0" r="3.4" fill="#000"/>
<circle cx="886.8" cy="497.2" r="3.4" fill="#000"/>
<circle cx="891.2" cy="496.3" r="3.4" fill="#000"/>
<rect x="899.5" y="485.9" width="15.9" height="18.5" fill="#000" stroke="#000" stroke-width="1.7"/>
<line x1="907.5" y1="485.1" x2="907.5" y2="476.8" stroke="#000" stroke-width="1.1"/>
<line x1="903.5" y1="476.8" x2="911.5" y2="476.8" stroke="#000" stroke-width="1.1"/>
<circle cx="902.2" cy="478.5" r="3.4" fill="#000"/>
<circle cx="907.1" cy="490.0" r="3.4" fill="#000"/>
<circle cx="912.4" cy="486.7" r="3.4" fill="#000"/>
<rect x="939.5" y="384.4" width="15.9" height="120.0" fill="#1f5ba8" stroke="#000" stroke-width="1.7"/>
<line x1="947.5" y1="383.5" x2="947.5" y2="375.0" stroke="#000" stroke-width="1.1"/>
<line x1="943.5" y1="375.0" x2="951.5" y2="375.0" stroke="#000" stroke-width="1.1"/>
<circle cx="942.2" cy="381.0" r="3.4" fill="#000"/>
<circle cx="947.5" cy="375.9" r="3.4" fill="#000"/>
<circle cx="952.8" cy="392.0" r="3.4" fill="#000"/>
<rect x="961.1" y="502.5" width="15.9" height="1.9" fill="#d6d6d6" stroke="#000" stroke-width="1.7"/>
<line x1="969.1" y1="501.6" x2="969.1" y2="500.0" stroke="#000" stroke-width="1.1"/>
<line x1="965.1" y1="500.0" x2="973.1" y2="500.0" stroke="#000" stroke-width="1.1"/>
<circle cx="964.2" cy="502.3" r="3.4" fill="#000"/>
<circle cx="970.0" cy="502.5" r="3.4" fill="#000"/>
<circle cx="974.4" cy="500.1" r="3.4" fill="#000"/>
<rect x="982.7" y="499.7" width="15.9" height="4.7" fill="#1c7d5a" stroke="#000" stroke-width="1.7"/>
<line x1="990.7" y1="498.9" x2="990.7" y2="497.2" stroke="#000" stroke-width="1.1"/>
<line x1="986.7" y1="497.2" x2="994.7" y2="497.2" stroke="#000" stroke-width="1.1"/>
<circle cx="985.4" cy="497.2" r="3.4" fill="#000"/>
<circle cx="990.3" cy="499.4" r="3.4" fill="#000"/>
<circle cx="995.6" cy="500.0" r="3.4" fill="#000"/>
<rect x="1004.3" y="496.6" width="15.9" height="7.8" fill="#000" stroke="#000" stroke-width="1.7"/>
<line x1="1012.3" y1="495.7" x2="1012.3" y2="494.0" stroke="#000" stroke-width="1.1"/>
<line x1="1008.3" y1="494.0" x2="1016.3" y2="494.0" stroke="#000" stroke-width="1.1"/>
<circle cx="1007.0" cy="497.2" r="3.4" fill="#000"/>
<circle cx="1012.3" cy="495.4" r="3.4" fill="#000"/>
<circle cx="1017.6" cy="494.5" r="3.4" fill="#000"/>
<line x1="665.7" y1="504.4" x2="665.7" y2="510.4" stroke="#000" stroke-width="1.8"/>
<line x1="769.6" y1="504.4" x2="769.6" y2="510.4" stroke="#000" stroke-width="1.8"/>
<line x1="875.1" y1="504.4" x2="875.1" y2="510.4" stroke="#000" stroke-width="1.8"/>
<line x1="979.9" y1="504.4" x2="979.9" y2="510.4" stroke="#000" stroke-width="1.8"/>
<text x="665.70" y="544.00" font-size="22.5" text-anchor="middle" fill="#000">0</text>
<text x="771.60" y="544.00" font-size="22.5" text-anchor="middle" fill="#000">0.5</text>
<text x="875.10" y="544.00" font-size="22.5" text-anchor="middle" fill="#000">1</text>
<text x="979.90" y="544.00" font-size="22.5" text-anchor="middle" fill="#000">2</text>
<line x1="693.7" y1="321.0" x2="1015.5" y2="321.0" stroke="#000" stroke-width="1.9"/>
<text x="865.70" y="310.60" font-size="18.8" text-anchor="middle" fill="#000">p=0.0042</text>
<line x1="695.8" y1="356.2" x2="898.2" y2="356.2" stroke="#000" stroke-width="1.9"/>
<text x="797.20" y="345.80" font-size="18.8" text-anchor="middle" fill="#000">p=0.0195</text>
<text x="619.30" y="306.50" font-size="20.2" text-anchor="start" fill="#000">Lactate</text>
<rect x="1067.3" y="372.3" width="10.3" height="10.3" fill="#1f5ba8" stroke="#222" stroke-width="1"/>
<rect x="1067.3" y="395.6" width="10.3" height="10.3" fill="#d6d6d6" stroke="#d6d6d6" stroke-width="1"/>
<rect x="1067.3" y="417.7" width="10.3" height="10.3" fill="#1c7d5a" stroke="#222" stroke-width="1"/>
<rect x="1067.3" y="442.3" width="10.3" height="10.3" fill="#000" stroke="#222" stroke-width="1"/>
<text x="1094.70" y="384.40" font-size="19.8" text-anchor="start" fill="#000">M+0</text>
<text x="1094.70" y="406.60" font-size="19.8" text-anchor="start" fill="#000">M+1</text>
<text x="1094.70" y="430.30" font-size="19.8" text-anchor="start" fill="#000">M+2</text>
<text x="1094.70" y="454.00" font-size="19.8" text-anchor="start" fill="#000">M+3</text>
<text x="53.10" y="611.40" font-size="37.5" text-anchor="start" fill="#000">c</text>
<line x1="134.7" y1="628.2" x2="134.7" y2="768.3" stroke="#000" stroke-width="1.8"/>
<line x1="128.7" y1="767.4" x2="134.7" y2="767.4" stroke="#000" stroke-width="1.8"/>
<text x="126.40" y="774.07" font-size="20.5" text-anchor="end" fill="#000">0</text>
<line x1="128.7" y1="721.3" x2="134.7" y2="721.3" stroke="#000" stroke-width="1.8"/>
<text x="126.40" y="728.01" font-size="20.5" text-anchor="end" fill="#000">40</text>
<line x1="128.7" y1="675.3" x2="134.7" y2="675.3" stroke="#000" stroke-width="1.8"/>
<text x="126.40" y="681.94" font-size="20.5" text-anchor="end" fill="#000">80</text>
<line x1="128.7" y1="629.2" x2="134.7" y2="629.2" stroke="#000" stroke-width="1.8"/>
<text x="126.40" y="635.88" font-size="20.5" text-anchor="end" fill="#000">120</text>
<line x1="133.8" y1="767.4" x2="374.5" y2="767.4" stroke="#000" stroke-width="1.8"/>
<rect x="144.2" y="741.4" width="15.3" height="26.0" fill="#1f5ba8" stroke="#000" stroke-width="1.7"/>
<line x1="151.8" y1="740.6" x2="151.8" y2="738.7" stroke="#000" stroke-width="1.1"/>
<line x1="148.0" y1="738.7" x2="155.6" y2="738.7" stroke="#000" stroke-width="1.1"/>
<circle cx="146.7" cy="742.3" r="4.4" fill="#000"/>
<circle cx="151.8" cy="740.2" r="4.4" fill="#000"/>
<circle cx="156.9" cy="739.3" r="4.4" fill="#000"/>
<rect x="166.2" y="679.1" width="15.3" height="88.3" fill="#08721a" stroke="#000" stroke-width="1.7"/>
<line x1="173.8" y1="678.3" x2="173.8" y2="672.0" stroke="#000" stroke-width="1.1"/>
<line x1="170.0" y1="672.0" x2="177.6" y2="672.0" stroke="#000" stroke-width="1.1"/>
<circle cx="169.0" cy="673.3" r="4.4" fill="#000"/>
<circle cx="174.7" cy="682.0" r="4.4" fill="#000"/>
<circle cx="178.9" cy="679.5" r="4.4" fill="#000"/>
<rect x="205.2" y="724.7" width="15.3" height="42.7" fill="#1f5ba8" stroke="#000" stroke-width="1.7"/>
<line x1="212.9" y1="723.9" x2="212.9" y2="720.8" stroke="#000" stroke-width="1.1"/>
<line x1="209.1" y1="720.8" x2="216.7" y2="720.8" stroke="#000" stroke-width="1.1"/>
<circle cx="207.8" cy="723.0" r="4.4" fill="#000"/>
<circle cx="212.6" cy="721.1" r="4.4" fill="#000"/>
<circle cx="217.7" cy="726.9" r="4.4" fill="#000"/>
<rect x="227.2" y="688.9" width="15.3" height="78.5" fill="#08721a" stroke="#000" stroke-width="1.7"/>
<line x1="234.9" y1="688.1" x2="234.9" y2="682.5" stroke="#000" stroke-width="1.1"/>
<line x1="231.1" y1="682.5" x2="238.7" y2="682.5" stroke="#000" stroke-width="1.1"/>
<circle cx="229.8" cy="690.3" r="4.4" fill="#000"/>
<circle cx="234.9" cy="690.8" r="4.4" fill="#000"/>
<circle cx="240.0" cy="683.1" r="4.4" fill="#000"/>
<rect x="266.8" y="700.0" width="15.3" height="67.4" fill="#1f5ba8" stroke="#000" stroke-width="1.7"/>
<line x1="274.4" y1="699.1" x2="274.4" y2="694.3" stroke="#000" stroke-width="1.1"/>
<line x1="270.6" y1="694.3" x2="278.2" y2="694.3" stroke="#000" stroke-width="1.1"/>
<circle cx="269.6" cy="694.3" r="4.4" fill="#000"/>
<circle cx="275.2" cy="700.5" r="4.4" fill="#000"/>
<circle cx="279.5" cy="702.5" r="4.4" fill="#000"/>
<rect x="288.8" y="715.8" width="15.3" height="51.6" fill="#08721a" stroke="#000" stroke-width="1.7"/>
<line x1="296.4" y1="715.0" x2="296.4" y2="711.3" stroke="#000" stroke-width="1.1"/>
<line x1="292.6" y1="711.3" x2="300.2" y2="711.3" stroke="#000" stroke-width="1.1"/>
<circle cx="291.3" cy="718.3" r="4.4" fill="#000"/>
<circle cx="296.1" cy="714.3" r="4.4" fill="#000"/>
<circle cx="301.2" cy="712.4" r="4.4" fill="#000"/>
<rect x="327.6" y="675.4" width="15.3" height="92.0" fill="#1f5ba8" stroke="#000" stroke-width="1.7"/>
<line x1="335.2" y1="674.6" x2="335.2" y2="668.1" stroke="#000" stroke-width="1.1"/>
<line x1="331.4" y1="668.1" x2="339.0" y2="668.1" stroke="#000" stroke-width="1.1"/>
<circle cx="330.1" cy="669.4" r="4.4" fill="#000"/>
<circle cx="335.2" cy="678.5" r="4.4" fill="#000"/>
<circle cx="340.3" cy="675.9" r="4.4" fill="#000"/>
<rect x="349.6" y="746.6" width="15.3" height="20.8" fill="#08721a" stroke="#000" stroke-width="1.7"/>
<line x1="357.2" y1="745.7" x2="357.2" y2="744.2" stroke="#000" stroke-width="1.1"/>
<line x1="353.4" y1="744.2" x2="361.0" y2="744.2" stroke="#000" stroke-width="1.1"/>
<circle cx="352.4" cy="745.3" r="4.4" fill="#000"/>
<circle cx="358.1" cy="744.4" r="4.4" fill="#000"/>
<circle cx="362.3" cy="747.3" r="4.4" fill="#000"/>
<line x1="162.3" y1="767.4" x2="162.3" y2="773.4" stroke="#000" stroke-width="1.8"/>
<line x1="223.4" y1="767.4" x2="223.4" y2="773.4" stroke="#000" stroke-width="1.8"/>
<line x1="284.9" y1="767.4" x2="284.9" y2="773.4" stroke="#000" stroke-width="1.8"/>
<line x1="345.7" y1="767.4" x2="345.7" y2="773.4" stroke="#000" stroke-width="1.8"/>
<text x="162.30" y="818.40" font-size="22.5" text-anchor="middle" fill="#000">0</text>
<text x="225.40" y="818.40" font-size="22.5" text-anchor="middle" fill="#000">0.5</text>
<text x="284.90" y="818.40" font-size="22.5" text-anchor="middle" fill="#000">1</text>
<text x="345.70" y="818.40" font-size="22.5" text-anchor="middle" fill="#000">2</text>
<line x1="170.0" y1="618.1" x2="359.3" y2="618.1" stroke="#000" stroke-width="1.9"/>
<text x="267.20" y="608.30" font-size="18.8" text-anchor="middle" fill="#000">p&lt;0.0001</text>
<line x1="170.0" y1="654.6" x2="308.0" y2="654.6" stroke="#000" stroke-width="1.9"/>
<text x="241.80" y="642.80" font-size="18.8" text-anchor="middle" fill="#000">p=0.0027</text>
<text x="152.30" y="597.90" font-size="20.4" text-anchor="start" fill="#000">R5P</text>
<text x="444.20" y="594.80" font-size="20.4" text-anchor="start" fill="#000">PPP</text>
<rect x="397.9" y="678.7" width="10.6" height="10.6" fill="#1f5ba8" stroke="#222" stroke-width="1"/>
<rect x="397.9" y="704.5" width="10.6" height="10.6" fill="#1c7d5a" stroke="#222" stroke-width="1"/>
<text x="425.00" y="691.00" font-size="20" text-anchor="start" fill="#000">M+0</text>
<text x="425.00" y="718.00" font-size="20" text-anchor="start" fill="#000">M+5</text>
<text x="124.30" y="797.80" font-size="20.4" text-anchor="end" fill="#000">Lactate</text>
<text x="123.10" y="819.50" font-size="20.4" text-anchor="end" fill="#000">(mM)</text>
<text x="0" y="0" font-size="19.3" text-anchor="middle" dominant-baseline="central" transform="translate(64.8 693.6) rotate(-90)">% of pool</text>
<line x1="654.4" y1="627.4" x2="654.4" y2="767.7" stroke="#000" stroke-width="1.8"/>
<line x1="648.4" y1="766.8" x2="654.4" y2="766.8" stroke="#000" stroke-width="1.8"/>
<text x="646.10" y="773.47" font-size="20.5" text-anchor="end" fill="#000">0</text>
<line x1="648.4" y1="720.7" x2="654.4" y2="720.7" stroke="#000" stroke-width="1.8"/>
<text x="646.10" y="727.34" font-size="20.5" text-anchor="end" fill="#000">40</text>
<line x1="648.4" y1="674.5" x2="654.4" y2="674.5" stroke="#000" stroke-width="1.8"/>
<text x="646.10" y="681.21" font-size="20.5" text-anchor="end" fill="#000">80</text>
<line x1="648.4" y1="628.4" x2="654.4" y2="628.4" stroke="#000" stroke-width="1.8"/>
<text x="646.10" y="635.07" font-size="20.5" text-anchor="end" fill="#000">120</text>
<line x1="653.5" y1="766.8" x2="893.0" y2="766.8" stroke="#000" stroke-width="1.8"/>
<rect x="664.5" y="746.7" width="15.3" height="20.1" fill="#1f5ba8" stroke="#000" stroke-width="1.7"/>
<line x1="672.1" y1="745.8" x2="672.1" y2="744.3" stroke="#000" stroke-width="1.1"/>
<line x1="668.3" y1="744.3" x2="675.9" y2="744.3" stroke="#000" stroke-width="1.1"/>
<circle cx="667.0" cy="747.1" r="4.4" fill="#000"/>
<circle cx="672.1" cy="745.5" r="4.4" fill="#000"/>
<circle cx="677.2" cy="744.8" r="4.4" fill="#000"/>
<rect x="686.5" y="676.9" width="15.3" height="89.9" fill="#08721a" stroke="#000" stroke-width="1.7"/>
<line x1="694.1" y1="676.0" x2="694.1" y2="669.7" stroke="#000" stroke-width="1.1"/>
<line x1="690.3" y1="669.7" x2="697.9" y2="669.7" stroke="#000" stroke-width="1.1"/>
<circle cx="689.3" cy="670.9" r="4.4" fill="#000"/>
<circle cx="695.0" cy="679.8" r="4.4" fill="#000"/>
<circle cx="699.2" cy="677.3" r="4.4" fill="#000"/>
<rect x="725.2" y="724.7" width="15.3" height="42.1" fill="#1f5ba8" stroke="#000" stroke-width="1.7"/>
<line x1="732.9" y1="723.9" x2="732.9" y2="720.9" stroke="#000" stroke-width="1.1"/>
<line x1="729.1" y1="720.9" x2="736.7" y2="720.9" stroke="#000" stroke-width="1.1"/>
<circle cx="727.8" cy="723.0" r="4.4" fill="#000"/>
<circle cx="732.6" cy="721.2" r="4.4" fill="#000"/>
<circle cx="737.7" cy="726.9" r="4.4" fill="#000"/>
<rect x="747.2" y="693.1" width="15.3" height="73.7" fill="#08721a" stroke="#000" stroke-width="1.7"/>
<line x1="754.9" y1="692.3" x2="754.9" y2="687.1" stroke="#000" stroke-width="1.1"/>
<line x1="751.1" y1="687.1" x2="758.7" y2="687.1" stroke="#000" stroke-width="1.1"/>
<circle cx="749.8" cy="694.4" r="4.4" fill="#000"/>
<circle cx="754.9" cy="694.9" r="4.4" fill="#000"/>
<circle cx="760.0" cy="687.6" r="4.4" fill="#000"/>
<rect x="786.1" y="693.3" width="15.3" height="73.5" fill="#1f5ba8" stroke="#000" stroke-width="1.7"/>
<line x1="793.7" y1="692.4" x2="793.7" y2="687.2" stroke="#000" stroke-width="1.1"/>
<line x1="789.9" y1="687.2" x2="797.5" y2="687.2" stroke="#000" stroke-width="1.1"/>
<circle cx="788.9" cy="687.2" r="4.4" fill="#000"/>
<circle cx="794.6" cy="694.0" r="4.4" fill="#000"/>
<circle cx="798.8" cy="696.1" r="4.4" fill="#000"/>
<rect x="808.1" y="723.7" width="15.3" height="43.1" fill="#08721a" stroke="#000" stroke-width="1.7"/>
<line x1="815.7" y1="722.9" x2="815.7" y2="719.8" stroke="#000" stroke-width="1.1"/>
<line x1="811.9" y1="719.8" x2="819.5" y2="719.8" stroke="#000" stroke-width="1.1"/>
<circle cx="810.6" cy="725.6" r="4.4" fill="#000"/>
<circle cx="815.4" cy="722.2" r="4.4" fill="#000"/>
<circle cx="820.5" cy="720.7" r="4.4" fill="#000"/>
<rect x="846.9" y="665.1" width="15.3" height="101.7" fill="#1f5ba8" stroke="#000" stroke-width="1.7"/>
<line x1="854.5" y1="664.3" x2="854.5" y2="657.1" stroke="#000" stroke-width="1.1"/>
<line x1="850.7" y1="657.1" x2="858.3" y2="657.1" stroke="#000" stroke-width="1.1"/>
<circle cx="849.4" cy="658.5" r="4.4" fill="#000"/>
<circle cx="854.5" cy="668.6" r="4.4" fill="#000"/>
<circle cx="859.6" cy="665.7" r="4.4" fill="#000"/>
<rect x="868.9" y="750.7" width="15.3" height="16.1" fill="#08721a" stroke="#000" stroke-width="1.7"/>
<line x1="876.5" y1="749.8" x2="876.5" y2="748.5" stroke="#000" stroke-width="1.1"/>
<line x1="872.7" y1="748.5" x2="880.3" y2="748.5" stroke="#000" stroke-width="1.1"/>
<circle cx="871.7" cy="749.4" r="4.4" fill="#000"/>
<circle cx="877.4" cy="748.6" r="4.4" fill="#000"/>
<circle cx="881.6" cy="751.2" r="4.4" fill="#000"/>
<line x1="682.6" y1="766.8" x2="682.6" y2="772.8" stroke="#000" stroke-width="1.8"/>
<line x1="743.4" y1="766.8" x2="743.4" y2="772.8" stroke="#000" stroke-width="1.8"/>
<line x1="804.2" y1="766.8" x2="804.2" y2="772.8" stroke="#000" stroke-width="1.8"/>
<line x1="865.0" y1="766.8" x2="865.0" y2="772.8" stroke="#000" stroke-width="1.8"/>
<text x="682.60" y="817.80" font-size="22.5" text-anchor="middle" fill="#000">0</text>
<text x="745.40" y="817.80" font-size="22.5" text-anchor="middle" fill="#000">0.5</text>
<text x="804.20" y="817.80" font-size="22.5" text-anchor="middle" fill="#000">1</text>
<text x="865.00" y="817.80" font-size="22.5" text-anchor="middle" fill="#000">2</text>
<line x1="688.6" y1="618.1" x2="877.2" y2="618.1" stroke="#000" stroke-width="1.9"/>
<text x="785.70" y="608.30" font-size="18.8" text-anchor="middle" fill="#000">p&lt;0.0001</text>
<line x1="688.6" y1="651.2" x2="826.5" y2="651.2" stroke="#000" stroke-width="1.9"/>
<text x="758.70" y="642.80" font-size="18.8" text-anchor="middle" fill="#000">p=0.0003</text>
<text x="670.50" y="598.20" font-size="19.7" text-anchor="start" fill="#000">S7P</text>
<rect x="950.3" y="673.7" width="10.5" height="10.5" fill="#1f5ba8" stroke="#222" stroke-width="1"/>
<rect x="950.3" y="701.7" width="10.5" height="10.5" fill="#1c7d5a" stroke="#222" stroke-width="1"/>
<text x="977.50" y="685.70" font-size="20" text-anchor="start" fill="#000">M+0</text>
<text x="977.50" y="712.70" font-size="20" text-anchor="start" fill="#000">M+4</text>
<text x="642.90" y="797.80" font-size="20.4" text-anchor="end" fill="#000">Lactate</text>
<text x="642.00" y="819.40" font-size="20.4" text-anchor="end" fill="#000">(mM)</text>
<text x="0" y="0" font-size="19.3" text-anchor="middle" dominant-baseline="central" transform="translate(584.5 705.4) rotate(-90)">% of pool</text>
<text x="46.10" y="878.00" font-size="37.5" text-anchor="start" fill="#000">d</text>
<text x="118.30" y="868.70" font-size="22.2" text-anchor="start" fill="#000">TCA cycle</text>
<line x1="124.1" y1="922.4" x2="124.1" y2="1062.5" stroke="#000" stroke-width="1.8"/>
<line x1="118.1" y1="1061.6" x2="124.1" y2="1061.6" stroke="#000" stroke-width="1.8"/>
<text x="115.80" y="1068.27" font-size="20.5" text-anchor="end" fill="#000">0</text>
<line x1="118.1" y1="1015.5" x2="124.1" y2="1015.5" stroke="#000" stroke-width="1.8"/>
<text x="115.80" y="1022.21" font-size="20.5" text-anchor="end" fill="#000">50</text>
<line x1="118.1" y1="969.5" x2="124.1" y2="969.5" stroke="#000" stroke-width="1.8"/>
<text x="115.80" y="976.14" font-size="20.5" text-anchor="end" fill="#000">100</text>
<line x1="118.1" y1="923.4" x2="124.1" y2="923.4" stroke="#000" stroke-width="1.8"/>
<text x="115.80" y="930.07" font-size="20.5" text-anchor="end" fill="#000">150</text>
<line x1="123.2" y1="1061.6" x2="541.0" y2="1061.6" stroke="#000" stroke-width="1.8"/>
<rect x="134.8" y="1026.1" width="15.8" height="35.5" fill="#1f5ba8" stroke="#000" stroke-width="1.7"/>
<line x1="142.7" y1="1025.2" x2="142.7" y2="1022.7" stroke="#000" stroke-width="1.1"/>
<line x1="138.8" y1="1022.7" x2="146.6" y2="1022.7" stroke="#000" stroke-width="1.1"/>
<circle cx="137.4" cy="1027.5" r="3.4" fill="#000"/>
<circle cx="142.7" cy="1024.7" r="3.4" fill="#000"/>
<circle cx="147.9" cy="1023.4" r="3.4" fill="#000"/>
<rect x="156.4" y="1060.6" width="15.8" height="1.0" fill="#d6d6d6" stroke="#000" stroke-width="1.7"/>
<line x1="164.3" y1="1059.8" x2="164.3" y2="1058.7" stroke="#000" stroke-width="1.1"/>
<line x1="160.4" y1="1058.7" x2="168.2" y2="1058.7" stroke="#000" stroke-width="1.1"/>
<circle cx="159.4" cy="1058.9" r="3.4" fill="#000"/>
<circle cx="165.2" cy="1060.4" r="3.4" fill="#000"/>
<circle cx="169.5" cy="1060.0" r="3.4" fill="#000"/>
<rect x="178.0" y="1007.4" width="15.8" height="54.2" fill="#1c7d5a" stroke="#000" stroke-width="1.7"/>
<line x1="185.9" y1="1006.6" x2="185.9" y2="1002.7" stroke="#000" stroke-width="1.1"/>
<line x1="182.0" y1="1002.7" x2="189.8" y2="1002.7" stroke="#000" stroke-width="1.1"/>
<circle cx="180.7" cy="1005.4" r="3.4" fill="#000"/>
<circle cx="185.6" cy="1003.1" r="3.4" fill="#000"/>
<circle cx="190.8" cy="1010.4" r="3.4" fill="#000"/>
<rect x="199.6" y="1059.7" width="15.8" height="1.9" fill="#000" stroke="#000" stroke-width="1.7"/>
<line x1="207.5" y1="1058.8" x2="207.5" y2="1057.7" stroke="#000" stroke-width="1.1"/>
<line x1="203.6" y1="1057.7" x2="211.4" y2="1057.7" stroke="#000" stroke-width="1.1"/>
<circle cx="202.2" cy="1059.3" r="3.4" fill="#000"/>
<circle cx="207.5" cy="1059.4" r="3.4" fill="#000"/>
<circle cx="212.8" cy="1057.8" r="3.4" fill="#000"/>
<rect x="239.6" y="1013.6" width="15.8" height="48.0" fill="#1f5ba8" stroke="#000" stroke-width="1.7"/>
<line x1="247.5" y1="1012.8" x2="247.5" y2="1009.4" stroke="#000" stroke-width="1.1"/>
<line x1="243.6" y1="1009.4" x2="251.4" y2="1009.4" stroke="#000" stroke-width="1.1"/>
<circle cx="242.6" cy="1009.4" r="3.4" fill="#000"/>
<circle cx="248.4" cy="1013.8" r="3.4" fill="#000"/>
<circle cx="252.7" cy="1015.2" r="3.4" fill="#000"/>
<rect x="261.2" y="1058.8" width="15.8" height="2.8" fill="#d6d6d6" stroke="#000" stroke-width="1.7"/>
<line x1="269.1" y1="1057.9" x2="269.1" y2="1056.8" stroke="#000" stroke-width="1.1"/>
<line x1="265.2" y1="1056.8" x2="273.0" y2="1056.8" stroke="#000" stroke-width="1.1"/>
<circle cx="263.8" cy="1058.9" r="3.4" fill="#000"/>
<circle cx="268.7" cy="1057.7" r="3.4" fill="#000"/>
<circle cx="274.0" cy="1057.1" r="3.4" fill="#000"/>
<rect x="282.8" y="1017.9" width="15.8" height="43.7" fill="#1c7d5a" stroke="#000" stroke-width="1.7"/>
<line x1="290.7" y1="1017.1" x2="290.7" y2="1014.0" stroke="#000" stroke-width="1.1"/>
<line x1="286.8" y1="1014.0" x2="294.6" y2="1014.0" stroke="#000" stroke-width="1.1"/>
<circle cx="285.4" cy="1014.6" r="3.4" fill="#000"/>
<circle cx="290.7" cy="1019.0" r="3.4" fill="#000"/>
<circle cx="295.9" cy="1017.7" r="3.4" fill="#000"/>
<rect x="304.4" y="1059.7" width="15.8" height="1.9" fill="#000" stroke="#000" stroke-width="1.7"/>
<line x1="312.3" y1="1058.8" x2="312.3" y2="1057.7" stroke="#000" stroke-width="1.1"/>
<line x1="308.4" y1="1057.7" x2="316.2" y2="1057.7" stroke="#000" stroke-width="1.1"/>
<circle cx="307.4" cy="1058.5" r="3.4" fill="#000"/>
<circle cx="313.2" cy="1057.8" r="3.4" fill="#000"/>
<circle cx="317.5" cy="1059.9" r="3.4" fill="#000"/>
<rect x="344.3" y="994.3" width="15.8" height="67.3" fill="#1f5ba8" stroke="#000" stroke-width="1.7"/>
<line x1="352.2" y1="993.4" x2="352.2" y2="988.6" stroke="#000" stroke-width="1.1"/>
<line x1="348.3" y1="988.6" x2="356.1" y2="988.6" stroke="#000" stroke-width="1.1"/>
<circle cx="347.0" cy="995.3" r="3.4" fill="#000"/>
<circle cx="351.9" cy="995.8" r="3.4" fill="#000"/>
<circle cx="357.1" cy="989.1" r="3.4" fill="#000"/>
<rect x="365.9" y="1060.6" width="15.8" height="1.0" fill="#d6d6d6" stroke="#000" stroke-width="1.7"/>
<line x1="373.8" y1="1059.8" x2="373.8" y2="1058.7" stroke="#000" stroke-width="1.1"/>
<line x1="369.9" y1="1058.7" x2="377.7" y2="1058.7" stroke="#000" stroke-width="1.1"/>
<circle cx="368.6" cy="1058.7" r="3.4" fill="#000"/>
<circle cx="373.8" cy="1060.1" r="3.4" fill="#000"/>
<circle cx="379.1" cy="1060.5" r="3.4" fill="#000"/>
<rect x="387.5" y="1052.3" width="15.8" height="9.3" fill="#1c7d5a" stroke="#000" stroke-width="1.7"/>
<line x1="395.4" y1="1051.5" x2="395.4" y2="1050.4" stroke="#000" stroke-width="1.1"/>
<line x1="391.5" y1="1050.4" x2="399.3" y2="1050.4" stroke="#000" stroke-width="1.1"/>
<circle cx="390.5" cy="1052.5" r="3.4" fill="#000"/>
<circle cx="396.3" cy="1051.2" r="3.4" fill="#000"/>
<circle cx="400.7" cy="1050.7" r="3.4" fill="#000"/>
<rect x="409.1" y="1056.9" width="15.8" height="4.7" fill="#000" stroke="#000" stroke-width="1.7"/>
<line x1="417.0" y1="1056.1" x2="417.0" y2="1055.0" stroke="#000" stroke-width="1.1"/>
<line x1="413.1" y1="1055.0" x2="420.9" y2="1055.0" stroke="#000" stroke-width="1.1"/>
<circle cx="411.8" cy="1055.2" r="3.4" fill="#000"/>
<circle cx="416.6" cy="1056.7" r="3.4" fill="#000"/>
<circle cx="421.9" cy="1056.3" r="3.4" fill="#000"/>
<rect x="449.0" y="977.1" width="15.8" height="84.5" fill="#1f5ba8" stroke="#000" stroke-width="1.7"/>
<line x1="456.9" y1="976.3" x2="456.9" y2="970.3" stroke="#000" stroke-width="1.1"/>
<line x1="453.0" y1="970.3" x2="460.8" y2="970.3" stroke="#000" stroke-width="1.1"/>
<circle cx="451.7" cy="974.5" r="3.4" fill="#000"/>
<circle cx="456.9" cy="970.9" r="3.4" fill="#000"/>
<circle cx="462.2" cy="982.3" r="3.4" fill="#000"/>
<rect x="470.6" y="1060.6" width="15.8" height="1.0" fill="#d6d6d6" stroke="#000" stroke-width="1.7"/>
<line x1="478.5" y1="1059.8" x2="478.5" y2="1058.7" stroke="#000" stroke-width="1.1"/>
<line x1="474.6" y1="1058.7" x2="482.4" y2="1058.7" stroke="#000" stroke-width="1.1"/>
<circle cx="473.6" cy="1060.2" r="3.4" fill="#000"/>
<circle cx="479.4" cy="1060.3" r="3.4" fill="#000"/>
<circle cx="483.8" cy="1058.8" r="3.4" fill="#000"/>
<rect x="492.2" y="1059.7" width="15.8" height="1.9" fill="#1c7d5a" stroke="#000" stroke-width="1.7"/>
<line x1="500.1" y1="1058.8" x2="500.1" y2="1057.7" stroke="#000" stroke-width="1.1"/>
<line x1="496.2" y1="1057.7" x2="504.0" y2="1057.7" stroke="#000" stroke-width="1.1"/>
<circle cx="494.9" cy="1057.7" r="3.4" fill="#000"/>
<circle cx="499.8" cy="1059.2" r="3.4" fill="#000"/>
<circle cx="505.0" cy="1059.6" r="3.4" fill="#000"/>
<rect x="513.8" y="1060.6" width="15.8" height="1.0" fill="#000" stroke="#000" stroke-width="1.7"/>
<line x1="521.7" y1="1059.8" x2="521.7" y2="1058.7" stroke="#000" stroke-width="1.1"/>
<line x1="517.8" y1="1058.7" x2="525.6" y2="1058.7" stroke="#000" stroke-width="1.1"/>
<circle cx="516.5" cy="1060.6" r="3.4" fill="#000"/>
<circle cx="521.7" cy="1059.5" r="3.4" fill="#000"/>
<circle cx="527.0" cy="1059.0" r="3.4" fill="#000"/>
<line x1="175.1" y1="1061.6" x2="175.1" y2="1067.6" stroke="#000" stroke-width="1.8"/>
<line x1="279.9" y1="1061.6" x2="279.9" y2="1067.6" stroke="#000" stroke-width="1.8"/>
<line x1="384.6" y1="1061.6" x2="384.6" y2="1067.6" stroke="#000" stroke-width="1.8"/>
<line x1="489.3" y1="1061.6" x2="489.3" y2="1067.6" stroke="#000" stroke-width="1.8"/>
<text x="175.10" y="1108.60" font-size="22.5" text-anchor="middle" fill="#000">0</text>
<text x="281.90" y="1108.60" font-size="22.5" text-anchor="middle" fill="#000">0.5</text>
<text x="384.60" y="1108.60" font-size="22.5" text-anchor="middle" fill="#000">1</text>
<text x="489.30" y="1108.60" font-size="22.5" text-anchor="middle" fill="#000">2</text>
<line x1="188.6" y1="925.5" x2="494.4" y2="925.5" stroke="#000" stroke-width="1.9"/>
<text x="347.50" y="911.60" font-size="18.8" text-anchor="middle" fill="#000">p&lt;0.0001</text>
<line x1="188.6" y1="963.3" x2="398.1" y2="963.3" stroke="#000" stroke-width="1.9"/>
<text x="292.20" y="951.50" font-size="18.8" text-anchor="middle" fill="#000">p=0.0002</text>
<text x="139.70" y="900.80" font-size="20" text-anchor="start" fill="#000">Citrate</text>
<text x="127.70" y="1091.80" font-size="20.4" text-anchor="end" fill="#000">Lactate</text>
<text x="126.40" y="1113.30" font-size="20.4" text-anchor="end" fill="#000">(mM)</text>
<text x="0" y="0" font-size="19.3" text-anchor="middle" dominant-baseline="central" transform="translate(54.3 981.9) rotate(-90)">% of pool</text>
<line x1="594.1" y1="921.6" x2="594.1" y2="1061.6" stroke="#000" stroke-width="1.8"/>
<line x1="588.1" y1="1060.7" x2="594.1" y2="1060.7" stroke="#000" stroke-width="1.8"/>
<text x="585.80" y="1067.38" font-size="20.5" text-anchor="end" fill="#000">0</text>
<line x1="588.1" y1="1014.7" x2="594.1" y2="1014.7" stroke="#000" stroke-width="1.8"/>
<text x="585.80" y="1021.34" font-size="20.5" text-anchor="end" fill="#000">40</text>
<line x1="588.1" y1="968.6" x2="594.1" y2="968.6" stroke="#000" stroke-width="1.8"/>
<text x="585.80" y="975.31" font-size="20.5" text-anchor="end" fill="#000">80</text>
<line x1="588.1" y1="922.6" x2="594.1" y2="922.6" stroke="#000" stroke-width="1.8"/>
<text x="585.80" y="929.27" font-size="20.5" text-anchor="end" fill="#000">120</text>
<line x1="593.2" y1="1060.7" x2="1011.6" y2="1060.7" stroke="#000" stroke-width="1.8"/>
<rect x="604.7" y="997.0" width="15.8" height="63.7" fill="#1f5ba8" stroke="#000" stroke-width="1.7"/>
<line x1="612.6" y1="996.1" x2="612.6" y2="991.6" stroke="#000" stroke-width="1.1"/>
<line x1="608.7" y1="991.6" x2="616.5" y2="991.6" stroke="#000" stroke-width="1.1"/>
<circle cx="607.4" cy="1000.2" r="3.4" fill="#000"/>
<circle cx="612.6" cy="995.2" r="3.4" fill="#000"/>
<circle cx="617.9" cy="993.0" r="3.4" fill="#000"/>
<rect x="626.3" y="1055.8" width="15.8" height="4.9" fill="#d6d6d6" stroke="#000" stroke-width="1.7"/>
<line x1="634.2" y1="1054.9" x2="634.2" y2="1053.6" stroke="#000" stroke-width="1.1"/>
<line x1="630.3" y1="1053.6" x2="638.1" y2="1053.6" stroke="#000" stroke-width="1.1"/>
<circle cx="629.3" cy="1053.8" r="3.4" fill="#000"/>
<circle cx="635.1" cy="1055.8" r="3.4" fill="#000"/>
<circle cx="639.5" cy="1055.2" r="3.4" fill="#000"/>
<rect x="647.9" y="1013.2" width="15.8" height="47.5" fill="#1c7d5a" stroke="#000" stroke-width="1.7"/>
<line x1="655.8" y1="1012.4" x2="655.8" y2="1009.0" stroke="#000" stroke-width="1.1"/>
<line x1="651.9" y1="1009.0" x2="659.7" y2="1009.0" stroke="#000" stroke-width="1.1"/>
<circle cx="650.5" cy="1011.3" r="3.4" fill="#000"/>
<circle cx="655.4" cy="1009.3" r="3.4" fill="#000"/>
<circle cx="660.7" cy="1015.7" r="3.4" fill="#000"/>
<rect x="669.5" y="1059.2" width="15.8" height="1.5" fill="#000" stroke="#000" stroke-width="1.7"/>
<line x1="677.4" y1="1058.4" x2="677.4" y2="1057.0" stroke="#000" stroke-width="1.1"/>
<line x1="673.5" y1="1057.0" x2="681.3" y2="1057.0" stroke="#000" stroke-width="1.1"/>
<circle cx="672.1" cy="1059.0" r="3.4" fill="#000"/>
<circle cx="677.4" cy="1059.1" r="3.4" fill="#000"/>
<circle cx="682.6" cy="1057.2" r="3.4" fill="#000"/>
<rect x="709.4" y="1012.5" width="15.8" height="48.2" fill="#1f5ba8" stroke="#000" stroke-width="1.7"/>
<line x1="717.3" y1="1011.7" x2="717.3" y2="1008.2" stroke="#000" stroke-width="1.1"/>
<line x1="713.4" y1="1008.2" x2="721.2" y2="1008.2" stroke="#000" stroke-width="1.1"/>
<circle cx="712.4" cy="1008.2" r="3.4" fill="#000"/>
<circle cx="718.2" cy="1012.7" r="3.4" fill="#000"/>
<circle cx="722.6" cy="1014.1" r="3.4" fill="#000"/>
<rect x="731.0" y="1058.1" width="15.8" height="2.6" fill="#d6d6d6" stroke="#000" stroke-width="1.7"/>
<line x1="738.9" y1="1057.2" x2="738.9" y2="1055.9" stroke="#000" stroke-width="1.1"/>
<line x1="735.0" y1="1055.9" x2="742.8" y2="1055.9" stroke="#000" stroke-width="1.1"/>
<circle cx="733.7" cy="1058.5" r="3.4" fill="#000"/>
<circle cx="738.6" cy="1057.0" r="3.4" fill="#000"/>
<circle cx="743.8" cy="1056.3" r="3.4" fill="#000"/>
<rect x="752.6" y="999.5" width="15.8" height="61.2" fill="#1c7d5a" stroke="#000" stroke-width="1.7"/>
<line x1="760.5" y1="998.7" x2="760.5" y2="994.3" stroke="#000" stroke-width="1.1"/>
<line x1="756.6" y1="994.3" x2="764.4" y2="994.3" stroke="#000" stroke-width="1.1"/>
<circle cx="755.2" cy="995.2" r="3.4" fill="#000"/>
<circle cx="760.5" cy="1001.3" r="3.4" fill="#000"/>
<circle cx="765.8" cy="999.5" r="3.4" fill="#000"/>
<rect x="774.2" y="1059.2" width="15.8" height="1.5" fill="#000" stroke="#000" stroke-width="1.7"/>
<line x1="782.1" y1="1058.4" x2="782.1" y2="1057.0" stroke="#000" stroke-width="1.1"/>
<line x1="778.2" y1="1057.0" x2="786.0" y2="1057.0" stroke="#000" stroke-width="1.1"/>
<circle cx="777.2" cy="1058.0" r="3.4" fill="#000"/>
<circle cx="783.0" cy="1057.2" r="3.4" fill="#000"/>
<circle cx="787.4" cy="1059.7" r="3.4" fill="#000"/>
<rect x="814.2" y="972.5" width="15.8" height="88.2" fill="#1f5ba8" stroke="#000" stroke-width="1.7"/>
<line x1="822.1" y1="971.6" x2="822.1" y2="965.4" stroke="#000" stroke-width="1.1"/>
<line x1="818.2" y1="965.4" x2="826.0" y2="965.4" stroke="#000" stroke-width="1.1"/>
<circle cx="816.9" cy="974.1" r="3.4" fill="#000"/>
<circle cx="821.8" cy="974.7" r="3.4" fill="#000"/>
<circle cx="827.0" cy="966.0" r="3.4" fill="#000"/>
<rect x="835.8" y="1058.1" width="15.8" height="2.6" fill="#d6d6d6" stroke="#000" stroke-width="1.7"/>
<line x1="843.7" y1="1057.2" x2="843.7" y2="1055.9" stroke="#000" stroke-width="1.1"/>
<line x1="839.8" y1="1055.9" x2="847.6" y2="1055.9" stroke="#000" stroke-width="1.1"/>
<circle cx="838.5" cy="1055.9" r="3.4" fill="#000"/>
<circle cx="843.7" cy="1057.7" r="3.4" fill="#000"/>
<circle cx="849.0" cy="1058.2" r="3.4" fill="#000"/>
<rect x="857.4" y="1048.7" width="15.8" height="12.0" fill="#1c7d5a" stroke="#000" stroke-width="1.7"/>
<line x1="865.3" y1="1047.8" x2="865.3" y2="1046.4" stroke="#000" stroke-width="1.1"/>
<line x1="861.4" y1="1046.4" x2="869.2" y2="1046.4" stroke="#000" stroke-width="1.1"/>
<circle cx="860.4" cy="1049.1" r="3.4" fill="#000"/>
<circle cx="866.2" cy="1047.5" r="3.4" fill="#000"/>
<circle cx="870.5" cy="1046.8" r="3.4" fill="#000"/>
<rect x="879.0" y="1059.2" width="15.8" height="1.5" fill="#000" stroke="#000" stroke-width="1.7"/>
<line x1="886.9" y1="1058.4" x2="886.9" y2="1057.0" stroke="#000" stroke-width="1.1"/>
<line x1="883.0" y1="1057.0" x2="890.8" y2="1057.0" stroke="#000" stroke-width="1.1"/>
<circle cx="881.6" cy="1057.3" r="3.4" fill="#000"/>
<circle cx="886.5" cy="1059.2" r="3.4" fill="#000"/>
<circle cx="891.8" cy="1058.7" r="3.4" fill="#000"/>
<rect x="918.9" y="953.4" width="15.8" height="107.3" fill="#1f5ba8" stroke="#000" stroke-width="1.7"/>
<line x1="926.8" y1="952.5" x2="926.8" y2="944.9" stroke="#000" stroke-width="1.1"/>
<line x1="922.9" y1="944.9" x2="930.7" y2="944.9" stroke="#000" stroke-width="1.1"/>
<circle cx="921.6" cy="950.2" r="3.4" fill="#000"/>
<circle cx="926.8" cy="945.7" r="3.4" fill="#000"/>
<circle cx="932.1" cy="960.1" r="3.4" fill="#000"/>
<rect x="940.5" y="1058.1" width="15.8" height="2.6" fill="#d6d6d6" stroke="#000" stroke-width="1.7"/>
<line x1="948.4" y1="1057.2" x2="948.4" y2="1055.9" stroke="#000" stroke-width="1.1"/>
<line x1="944.5" y1="1055.9" x2="952.3" y2="1055.9" stroke="#000" stroke-width="1.1"/>
<circle cx="943.5" cy="1057.8" r="3.4" fill="#000"/>
<circle cx="949.3" cy="1057.9" r="3.4" fill="#000"/>
<circle cx="953.7" cy="1056.0" r="3.4" fill="#000"/>
<rect x="962.1" y="1059.2" width="15.8" height="1.5" fill="#1c7d5a" stroke="#000" stroke-width="1.7"/>
<line x1="970.0" y1="1058.4" x2="970.0" y2="1057.0" stroke="#000" stroke-width="1.1"/>
<line x1="966.1" y1="1057.0" x2="973.9" y2="1057.0" stroke="#000" stroke-width="1.1"/>
<circle cx="964.8" cy="1057.0" r="3.4" fill="#000"/>
<circle cx="969.6" cy="1058.8" r="3.4" fill="#000"/>
<circle cx="974.9" cy="1059.4" r="3.4" fill="#000"/>
<rect x="983.7" y="1059.2" width="15.8" height="1.5" fill="#000" stroke="#000" stroke-width="1.7"/>
<line x1="991.6" y1="1058.4" x2="991.6" y2="1057.0" stroke="#000" stroke-width="1.1"/>
<line x1="987.7" y1="1057.0" x2="995.5" y2="1057.0" stroke="#000" stroke-width="1.1"/>
<circle cx="986.4" cy="1059.6" r="3.4" fill="#000"/>
<circle cx="991.6" cy="1058.1" r="3.4" fill="#000"/>
<circle cx="996.9" cy="1057.4" r="3.4" fill="#000"/>
<line x1="645.0" y1="1060.7" x2="645.0" y2="1066.7" stroke="#000" stroke-width="1.8"/>
<line x1="749.7" y1="1060.7" x2="749.7" y2="1066.7" stroke="#000" stroke-width="1.8"/>
<line x1="854.5" y1="1060.7" x2="854.5" y2="1066.7" stroke="#000" stroke-width="1.8"/>
<line x1="959.2" y1="1060.7" x2="959.2" y2="1066.7" stroke="#000" stroke-width="1.8"/>
<text x="645.00" y="1108.40" font-size="22.5" text-anchor="middle" fill="#000">0</text>
<text x="751.70" y="1108.40" font-size="22.5" text-anchor="middle" fill="#000">0.5</text>
<text x="854.50" y="1108.40" font-size="22.5" text-anchor="middle" fill="#000">1</text>
<text x="959.20" y="1108.40" font-size="22.5" text-anchor="middle" fill="#000">2</text>
<line x1="653.4" y1="913.5" x2="958.5" y2="913.5" stroke="#000" stroke-width="1.9"/>
<text x="808.50" y="900.70" font-size="18.8" text-anchor="middle" fill="#000">p&lt;0.0001</text>
<line x1="655.1" y1="949.7" x2="870.3" y2="949.7" stroke="#000" stroke-width="1.9"/>
<text x="762.40" y="937.80" font-size="18.8" text-anchor="middle" fill="#000">p=0.0003</text>
<text x="604.00" y="894.60" font-size="19.8" text-anchor="start" fill="#000">Succinate</text>
<line x1="1064.5" y1="919.2" x2="1064.5" y2="1059.0" stroke="#000" stroke-width="1.8"/>
<line x1="1058.5" y1="1058.1" x2="1064.5" y2="1058.1" stroke="#000" stroke-width="1.8"/>
<text x="1056.20" y="1064.77" font-size="20.5" text-anchor="end" fill="#000">0</text>
<line x1="1058.5" y1="1030.5" x2="1064.5" y2="1030.5" stroke="#000" stroke-width="1.8"/>
<text x="1056.20" y="1037.19" font-size="20.5" text-anchor="end" fill="#000">20</text>
<line x1="1058.5" y1="1002.9" x2="1064.5" y2="1002.9" stroke="#000" stroke-width="1.8"/>
<text x="1056.20" y="1009.61" font-size="20.5" text-anchor="end" fill="#000">40</text>
<line x1="1058.5" y1="975.4" x2="1064.5" y2="975.4" stroke="#000" stroke-width="1.8"/>
<text x="1056.20" y="982.03" font-size="20.5" text-anchor="end" fill="#000">60</text>
<line x1="1058.5" y1="947.8" x2="1064.5" y2="947.8" stroke="#000" stroke-width="1.8"/>
<text x="1056.20" y="954.45" font-size="20.5" text-anchor="end" fill="#000">80</text>
<line x1="1058.5" y1="920.2" x2="1064.5" y2="920.2" stroke="#000" stroke-width="1.8"/>
<text x="1056.20" y="926.88" font-size="20.5" text-anchor="end" fill="#000">100</text>
<line x1="1063.6" y1="1058.1" x2="1481.2" y2="1058.1" stroke="#000" stroke-width="1.8"/>
<rect x="1074.1" y="982.3" width="15.8" height="75.8" fill="#1f5ba8" stroke="#000" stroke-width="1.7"/>
<line x1="1082.0" y1="981.4" x2="1082.0" y2="976.1" stroke="#000" stroke-width="1.1"/>
<line x1="1078.1" y1="976.1" x2="1085.9" y2="976.1" stroke="#000" stroke-width="1.1"/>
<circle cx="1076.8" cy="986.3" r="3.4" fill="#000"/>
<circle cx="1082.0" cy="980.4" r="3.4" fill="#000"/>
<circle cx="1087.2" cy="977.7" r="3.4" fill="#000"/>
<rect x="1095.7" y="1054.8" width="15.8" height="3.3" fill="#d6d6d6" stroke="#000" stroke-width="1.7"/>
<line x1="1103.6" y1="1054.0" x2="1103.6" y2="1052.3" stroke="#000" stroke-width="1.1"/>
<line x1="1099.7" y1="1052.3" x2="1107.5" y2="1052.3" stroke="#000" stroke-width="1.1"/>
<circle cx="1098.7" cy="1052.6" r="3.4" fill="#000"/>
<circle cx="1104.5" cy="1055.0" r="3.4" fill="#000"/>
<circle cx="1108.9" cy="1054.3" r="3.4" fill="#000"/>
<rect x="1117.3" y="1003.1" width="15.8" height="55.0" fill="#1c7d5a" stroke="#000" stroke-width="1.7"/>
<line x1="1125.2" y1="1002.3" x2="1125.2" y2="991.2" stroke="#000" stroke-width="1.1"/>
<line x1="1121.3" y1="991.2" x2="1129.1" y2="991.2" stroke="#000" stroke-width="1.1"/>
<circle cx="1120.0" cy="998.9" r="3.4" fill="#000"/>
<circle cx="1124.9" cy="992.3" r="3.4" fill="#000"/>
<circle cx="1130.1" cy="1013.3" r="3.4" fill="#000"/>
<rect x="1138.9" y="1056.2" width="15.8" height="1.9" fill="#000" stroke="#000" stroke-width="1.7"/>
<line x1="1146.8" y1="1055.3" x2="1146.8" y2="1053.7" stroke="#000" stroke-width="1.1"/>
<line x1="1142.9" y1="1053.7" x2="1150.7" y2="1053.7" stroke="#000" stroke-width="1.1"/>
<circle cx="1141.6" cy="1056.0" r="3.4" fill="#000"/>
<circle cx="1146.8" cy="1056.2" r="3.4" fill="#000"/>
<circle cx="1152.1" cy="1053.9" r="3.4" fill="#000"/>
<rect x="1179.1" y="960.5" width="15.8" height="97.6" fill="#1f5ba8" stroke="#000" stroke-width="1.7"/>
<line x1="1187.0" y1="959.6" x2="1187.0" y2="948.6" stroke="#000" stroke-width="1.1"/>
<line x1="1183.1" y1="948.6" x2="1190.9" y2="948.6" stroke="#000" stroke-width="1.1"/>
<circle cx="1182.1" cy="948.6" r="3.4" fill="#000"/>
<circle cx="1187.9" cy="962.9" r="3.4" fill="#000"/>
<circle cx="1192.2" cy="967.4" r="3.4" fill="#000"/>
<rect x="1200.7" y="1049.3" width="15.8" height="8.8" fill="#d6d6d6" stroke="#000" stroke-width="1.7"/>
<line x1="1208.6" y1="1048.4" x2="1208.6" y2="1046.8" stroke="#000" stroke-width="1.1"/>
<line x1="1204.7" y1="1046.8" x2="1212.5" y2="1046.8" stroke="#000" stroke-width="1.1"/>
<circle cx="1203.4" cy="1049.9" r="3.4" fill="#000"/>
<circle cx="1208.3" cy="1048.1" r="3.4" fill="#000"/>
<circle cx="1213.5" cy="1047.3" r="3.4" fill="#000"/>
<rect x="1222.3" y="1026.0" width="15.8" height="32.1" fill="#1c7d5a" stroke="#000" stroke-width="1.7"/>
<line x1="1230.2" y1="1025.1" x2="1230.2" y2="1016.9" stroke="#000" stroke-width="1.1"/>
<line x1="1226.3" y1="1016.9" x2="1234.1" y2="1016.9" stroke="#000" stroke-width="1.1"/>
<circle cx="1225.0" cy="1018.5" r="3.4" fill="#000"/>
<circle cx="1230.2" cy="1030.1" r="3.4" fill="#000"/>
<circle cx="1235.5" cy="1026.8" r="3.4" fill="#000"/>
<rect x="1243.9" y="1056.2" width="15.8" height="1.9" fill="#000" stroke="#000" stroke-width="1.7"/>
<line x1="1251.8" y1="1055.3" x2="1251.8" y2="1053.7" stroke="#000" stroke-width="1.1"/>
<line x1="1247.9" y1="1053.7" x2="1255.7" y2="1053.7" stroke="#000" stroke-width="1.1"/>
<circle cx="1246.9" cy="1054.8" r="3.4" fill="#000"/>
<circle cx="1252.7" cy="1053.9" r="3.4" fill="#000"/>
<circle cx="1257.1" cy="1057.0" r="3.4" fill="#000"/>
<rect x="1284.4" y="962.0" width="15.8" height="96.1" fill="#1f5ba8" stroke="#000" stroke-width="1.7"/>
<line x1="1292.3" y1="961.2" x2="1292.3" y2="954.4" stroke="#000" stroke-width="1.1"/>
<line x1="1288.4" y1="954.4" x2="1296.2" y2="954.4" stroke="#000" stroke-width="1.1"/>
<circle cx="1287.0" cy="963.9" r="3.4" fill="#000"/>
<circle cx="1292.0" cy="964.5" r="3.4" fill="#000"/>
<circle cx="1297.2" cy="955.0" r="3.4" fill="#000"/>
<rect x="1306.0" y="1054.8" width="15.8" height="3.3" fill="#d6d6d6" stroke="#000" stroke-width="1.7"/>
<line x1="1313.9" y1="1054.0" x2="1313.9" y2="1052.3" stroke="#000" stroke-width="1.1"/>
<line x1="1310.0" y1="1052.3" x2="1317.8" y2="1052.3" stroke="#000" stroke-width="1.1"/>
<circle cx="1308.7" cy="1052.3" r="3.4" fill="#000"/>
<circle cx="1313.9" cy="1054.5" r="3.4" fill="#000"/>
<circle cx="1319.2" cy="1055.1" r="3.4" fill="#000"/>
<rect x="1327.6" y="1045.2" width="15.8" height="12.9" fill="#1c7d5a" stroke="#000" stroke-width="1.7"/>
<line x1="1335.5" y1="1044.3" x2="1335.5" y2="1042.7" stroke="#000" stroke-width="1.1"/>
<line x1="1331.6" y1="1042.7" x2="1339.4" y2="1042.7" stroke="#000" stroke-width="1.1"/>
<circle cx="1330.6" cy="1045.8" r="3.4" fill="#000"/>
<circle cx="1336.4" cy="1044.0" r="3.4" fill="#000"/>
<circle cx="1340.8" cy="1043.2" r="3.4" fill="#000"/>
<rect x="1349.2" y="1056.2" width="15.8" height="1.9" fill="#000" stroke="#000" stroke-width="1.7"/>
<line x1="1357.1" y1="1055.3" x2="1357.1" y2="1053.7" stroke="#000" stroke-width="1.1"/>
<line x1="1353.2" y1="1053.7" x2="1361.0" y2="1053.7" stroke="#000" stroke-width="1.1"/>
<circle cx="1351.9" cy="1054.0" r="3.4" fill="#000"/>
<circle cx="1356.8" cy="1056.3" r="3.4" fill="#000"/>
<circle cx="1362.0" cy="1055.7" r="3.4" fill="#000"/>
<rect x="1389.4" y="939.3" width="15.8" height="118.8" fill="#1f5ba8" stroke="#000" stroke-width="1.7"/>
<line x1="1397.3" y1="938.4" x2="1397.3" y2="930.0" stroke="#000" stroke-width="1.1"/>
<line x1="1393.4" y1="930.0" x2="1401.2" y2="930.0" stroke="#000" stroke-width="1.1"/>
<circle cx="1392.0" cy="935.9" r="3.4" fill="#000"/>
<circle cx="1397.3" cy="930.9" r="3.4" fill="#000"/>
<circle cx="1402.5" cy="946.8" r="3.4" fill="#000"/>
<rect x="1411.0" y="1056.2" width="15.8" height="1.9" fill="#d6d6d6" stroke="#000" stroke-width="1.7"/>
<line x1="1418.9" y1="1055.3" x2="1418.9" y2="1053.7" stroke="#000" stroke-width="1.1"/>
<line x1="1415.0" y1="1053.7" x2="1422.8" y2="1053.7" stroke="#000" stroke-width="1.1"/>
<circle cx="1414.0" cy="1056.0" r="3.4" fill="#000"/>
<circle cx="1419.8" cy="1056.2" r="3.4" fill="#000"/>
<circle cx="1424.2" cy="1053.9" r="3.4" fill="#000"/>
<rect x="1432.6" y="1056.2" width="15.8" height="1.9" fill="#1c7d5a" stroke="#000" stroke-width="1.7"/>
<line x1="1440.5" y1="1055.3" x2="1440.5" y2="1053.7" stroke="#000" stroke-width="1.1"/>
<line x1="1436.6" y1="1053.7" x2="1444.4" y2="1053.7" stroke="#000" stroke-width="1.1"/>
<circle cx="1435.2" cy="1053.7" r="3.4" fill="#000"/>
<circle cx="1440.2" cy="1055.8" r="3.4" fill="#000"/>
<circle cx="1445.4" cy="1056.5" r="3.4" fill="#000"/>
<rect x="1454.2" y="1057.6" width="15.8" height="0.5" fill="#000" stroke="#000" stroke-width="1.7"/>
<line x1="1462.1" y1="1056.7" x2="1462.1" y2="1055.1" stroke="#000" stroke-width="1.1"/>
<line x1="1458.2" y1="1055.1" x2="1466.0" y2="1055.1" stroke="#000" stroke-width="1.1"/>
<circle cx="1456.9" cy="1057.1" r="3.4" fill="#000"/>
<circle cx="1462.1" cy="1056.4" r="3.4" fill="#000"/>
<circle cx="1467.4" cy="1055.6" r="3.4" fill="#000"/>
<line x1="1114.4" y1="1058.1" x2="1114.4" y2="1064.1" stroke="#000" stroke-width="1.8"/>
<line x1="1219.4" y1="1058.1" x2="1219.4" y2="1064.1" stroke="#000" stroke-width="1.8"/>
<line x1="1324.7" y1="1058.1" x2="1324.7" y2="1064.1" stroke="#000" stroke-width="1.8"/>
<line x1="1429.7" y1="1058.1" x2="1429.7" y2="1064.1" stroke="#000" stroke-width="1.8"/>
<text x="1114.40" y="1109.00" font-size="22.5" text-anchor="middle" fill="#000">0</text>
<text x="1221.40" y="1109.00" font-size="22.5" text-anchor="middle" fill="#000">0.5</text>
<text x="1324.70" y="1109.00" font-size="22.5" text-anchor="middle" fill="#000">1</text>
<text x="1429.70" y="1109.00" font-size="22.5" text-anchor="middle" fill="#000">2</text>
<line x1="1119.4" y1="893.1" x2="1424.6" y2="893.1" stroke="#000" stroke-width="1.9"/>
<text x="1270.00" y="881.30" font-size="18.8" text-anchor="middle" fill="#000">p=0.0015</text>
<line x1="1120.5" y1="927.4" x2="1335.8" y2="927.4" stroke="#000" stroke-width="1.9"/>
<text x="1225.50" y="913.90" font-size="18.8" text-anchor="middle" fill="#000">p=0.0044</text>
<text x="1069.50" y="881.00" font-size="20.2" text-anchor="start" fill="#000">Malate</text>
<rect x="1428.8" y="941.3" width="10.0" height="10.0" fill="#1f5ba8" stroke="#222" stroke-width="1"/>
<rect x="1428.8" y="964.2" width="10.0" height="10.0" fill="#d6d6d6" stroke="#d6d6d6" stroke-width="1"/>
<rect x="1428.8" y="987.8" width="10.0" height="10.0" fill="#1c7d5a" stroke="#222" stroke-width="1"/>
<rect x="1428.8" y="1011.3" width="10.0" height="10.0" fill="#000" stroke="#222" stroke-width="1"/>
<text x="1456.00" y="952.60" font-size="19.5" text-anchor="start" fill="#000">M+0</text>
<text x="1456.00" y="975.90" font-size="19.5" text-anchor="start" fill="#000">M+1</text>
<text x="1456.00" y="999.30" font-size="19.5" text-anchor="start" fill="#000">M+2</text>
<text x="1456.00" y="1022.70" font-size="19.5" text-anchor="start" fill="#000">M+3</text>
<text x="29.60" y="1165.30" font-size="37.5" text-anchor="start" fill="#000">e</text>
<line x1="107.9" y1="1196.2" x2="107.9" y2="1336.0" stroke="#000" stroke-width="1.8"/>
<line x1="101.9" y1="1335.1" x2="107.9" y2="1335.1" stroke="#000" stroke-width="1.8"/>
<text x="99.60" y="1341.77" font-size="20.5" text-anchor="end" fill="#000">0</text>
<line x1="101.9" y1="1307.5" x2="107.9" y2="1307.5" stroke="#000" stroke-width="1.8"/>
<text x="99.60" y="1314.19" font-size="20.5" text-anchor="end" fill="#000">20</text>
<line x1="101.9" y1="1279.9" x2="107.9" y2="1279.9" stroke="#000" stroke-width="1.8"/>
<text x="99.60" y="1286.62" font-size="20.5" text-anchor="end" fill="#000">40</text>
<line x1="101.9" y1="1252.4" x2="107.9" y2="1252.4" stroke="#000" stroke-width="1.8"/>
<text x="99.60" y="1259.03" font-size="20.5" text-anchor="end" fill="#000">60</text>
<line x1="101.9" y1="1224.8" x2="107.9" y2="1224.8" stroke="#000" stroke-width="1.8"/>
<text x="99.60" y="1231.45" font-size="20.5" text-anchor="end" fill="#000">80</text>
<line x1="101.9" y1="1197.2" x2="107.9" y2="1197.2" stroke="#000" stroke-width="1.8"/>
<text x="99.60" y="1203.88" font-size="20.5" text-anchor="end" fill="#000">100</text>
<line x1="107.0" y1="1335.1" x2="524.2" y2="1335.1" stroke="#000" stroke-width="1.8"/>
<rect x="117.4" y="1294.0" width="15.8" height="41.1" fill="#1f5ba8" stroke="#000" stroke-width="1.7"/>
<line x1="125.3" y1="1293.2" x2="125.3" y2="1290.2" stroke="#000" stroke-width="1.1"/>
<line x1="121.4" y1="1290.2" x2="129.2" y2="1290.2" stroke="#000" stroke-width="1.1"/>
<circle cx="120.0" cy="1295.8" r="3.4" fill="#000"/>
<circle cx="125.3" cy="1292.6" r="3.4" fill="#000"/>
<circle cx="130.5" cy="1291.1" r="3.4" fill="#000"/>
<rect x="139.0" y="1324.8" width="15.8" height="10.3" fill="#d6d6d6" stroke="#000" stroke-width="1.7"/>
<line x1="146.9" y1="1323.9" x2="146.9" y2="1322.3" stroke="#000" stroke-width="1.1"/>
<line x1="143.0" y1="1322.3" x2="150.8" y2="1322.3" stroke="#000" stroke-width="1.1"/>
<circle cx="142.0" cy="1322.6" r="3.4" fill="#000"/>
<circle cx="147.8" cy="1324.9" r="3.4" fill="#000"/>
<circle cx="152.1" cy="1324.3" r="3.4" fill="#000"/>
<rect x="160.6" y="1316.0" width="15.8" height="19.1" fill="#1c7d5a" stroke="#000" stroke-width="1.7"/>
<line x1="168.5" y1="1315.1" x2="168.5" y2="1313.4" stroke="#000" stroke-width="1.1"/>
<line x1="164.6" y1="1313.4" x2="172.4" y2="1313.4" stroke="#000" stroke-width="1.1"/>
<circle cx="163.2" cy="1314.6" r="3.4" fill="#000"/>
<circle cx="168.2" cy="1313.6" r="3.4" fill="#000"/>
<circle cx="173.4" cy="1316.8" r="3.4" fill="#000"/>
<rect x="182.2" y="1277.9" width="15.8" height="57.2" fill="#000" stroke="#000" stroke-width="1.7"/>
<line x1="190.1" y1="1277.0" x2="190.1" y2="1273.0" stroke="#000" stroke-width="1.1"/>
<line x1="186.2" y1="1273.0" x2="194.0" y2="1273.0" stroke="#000" stroke-width="1.1"/>
<circle cx="184.8" cy="1278.7" r="3.4" fill="#000"/>
<circle cx="190.1" cy="1279.1" r="3.4" fill="#000"/>
<circle cx="195.3" cy="1273.4" r="3.4" fill="#000"/>
<rect x="222.8" y="1275.4" width="15.8" height="59.7" fill="#1f5ba8" stroke="#000" stroke-width="1.7"/>
<line x1="230.7" y1="1274.6" x2="230.7" y2="1270.3" stroke="#000" stroke-width="1.1"/>
<line x1="226.8" y1="1270.3" x2="234.6" y2="1270.3" stroke="#000" stroke-width="1.1"/>
<circle cx="225.8" cy="1270.3" r="3.4" fill="#000"/>
<circle cx="231.6" cy="1275.8" r="3.4" fill="#000"/>
<circle cx="236.0" cy="1277.5" r="3.4" fill="#000"/>
<rect x="244.4" y="1317.7" width="15.8" height="17.4" fill="#d6d6d6" stroke="#000" stroke-width="1.7"/>
<line x1="252.3" y1="1316.9" x2="252.3" y2="1315.2" stroke="#000" stroke-width="1.1"/>
<line x1="248.4" y1="1315.2" x2="256.2" y2="1315.2" stroke="#000" stroke-width="1.1"/>
<circle cx="247.1" cy="1318.4" r="3.4" fill="#000"/>
<circle cx="252.0" cy="1316.6" r="3.4" fill="#000"/>
<circle cx="257.2" cy="1315.7" r="3.4" fill="#000"/>
<rect x="266.0" y="1316.9" width="15.8" height="18.2" fill="#1c7d5a" stroke="#000" stroke-width="1.7"/>
<line x1="273.9" y1="1316.1" x2="273.9" y2="1314.4" stroke="#000" stroke-width="1.1"/>
<line x1="270.0" y1="1314.4" x2="277.8" y2="1314.4" stroke="#000" stroke-width="1.1"/>
<circle cx="268.7" cy="1314.7" r="3.4" fill="#000"/>
<circle cx="273.9" cy="1317.1" r="3.4" fill="#000"/>
<circle cx="279.2" cy="1316.4" r="3.4" fill="#000"/>
<rect x="287.6" y="1293.1" width="15.8" height="42.0" fill="#000" stroke="#000" stroke-width="1.7"/>
<line x1="295.5" y1="1292.2" x2="295.5" y2="1289.2" stroke="#000" stroke-width="1.1"/>
<line x1="291.6" y1="1289.2" x2="299.4" y2="1289.2" stroke="#000" stroke-width="1.1"/>
<circle cx="290.6" cy="1291.3" r="3.4" fill="#000"/>
<circle cx="296.4" cy="1289.5" r="3.4" fill="#000"/>
<circle cx="300.8" cy="1295.2" r="3.4" fill="#000"/>
<rect x="327.6" y="1242.7" width="15.8" height="92.4" fill="#1f5ba8" stroke="#000" stroke-width="1.7"/>
<line x1="335.5" y1="1241.9" x2="335.5" y2="1235.4" stroke="#000" stroke-width="1.1"/>
<line x1="331.6" y1="1235.4" x2="339.4" y2="1235.4" stroke="#000" stroke-width="1.1"/>
<circle cx="330.2" cy="1244.5" r="3.4" fill="#000"/>
<circle cx="335.1" cy="1245.1" r="3.4" fill="#000"/>
<circle cx="340.4" cy="1236.0" r="3.4" fill="#000"/>
<rect x="349.2" y="1333.2" width="15.8" height="1.9" fill="#d6d6d6" stroke="#000" stroke-width="1.7"/>
<line x1="357.1" y1="1332.3" x2="357.1" y2="1330.7" stroke="#000" stroke-width="1.1"/>
<line x1="353.2" y1="1330.7" x2="361.0" y2="1330.7" stroke="#000" stroke-width="1.1"/>
<circle cx="351.8" cy="1330.7" r="3.4" fill="#000"/>
<circle cx="357.1" cy="1332.8" r="3.4" fill="#000"/>
<circle cx="362.3" cy="1333.5" r="3.4" fill="#000"/>
<rect x="370.8" y="1333.2" width="15.8" height="1.9" fill="#1c7d5a" stroke="#000" stroke-width="1.7"/>
<line x1="378.7" y1="1332.3" x2="378.7" y2="1330.7" stroke="#000" stroke-width="1.1"/>
<line x1="374.8" y1="1330.7" x2="382.6" y2="1330.7" stroke="#000" stroke-width="1.1"/>
<circle cx="373.8" cy="1333.8" r="3.4" fill="#000"/>
<circle cx="379.6" cy="1332.0" r="3.4" fill="#000"/>
<circle cx="383.9" cy="1331.2" r="3.4" fill="#000"/>
<rect x="392.4" y="1315.3" width="15.8" height="19.8" fill="#000" stroke="#000" stroke-width="1.7"/>
<line x1="400.3" y1="1314.4" x2="400.3" y2="1312.8" stroke="#000" stroke-width="1.1"/>
<line x1="396.4" y1="1312.8" x2="404.2" y2="1312.8" stroke="#000" stroke-width="1.1"/>
<circle cx="395.0" cy="1313.1" r="3.4" fill="#000"/>
<circle cx="399.9" cy="1315.4" r="3.4" fill="#000"/>
<circle cx="405.2" cy="1314.7" r="3.4" fill="#000"/>
<rect x="432.3" y="1223.4" width="15.8" height="111.7" fill="#1f5ba8" stroke="#000" stroke-width="1.7"/>
<line x1="440.2" y1="1222.6" x2="440.2" y2="1211.5" stroke="#000" stroke-width="1.1"/>
<line x1="436.3" y1="1211.5" x2="444.1" y2="1211.5" stroke="#000" stroke-width="1.1"/>
<circle cx="435.0" cy="1219.3" r="3.4" fill="#000"/>
<circle cx="440.2" cy="1212.6" r="3.4" fill="#000"/>
<circle cx="445.5" cy="1233.6" r="3.4" fill="#000"/>
<rect x="453.9" y="1330.4" width="15.8" height="4.7" fill="#d6d6d6" stroke="#000" stroke-width="1.7"/>
<line x1="461.8" y1="1329.6" x2="461.8" y2="1327.9" stroke="#000" stroke-width="1.1"/>
<line x1="457.9" y1="1327.9" x2="465.7" y2="1327.9" stroke="#000" stroke-width="1.1"/>
<circle cx="456.9" cy="1330.2" r="3.4" fill="#000"/>
<circle cx="462.7" cy="1330.4" r="3.4" fill="#000"/>
<circle cx="467.1" cy="1328.1" r="3.4" fill="#000"/>
<rect x="475.5" y="1327.7" width="15.8" height="7.4" fill="#1c7d5a" stroke="#000" stroke-width="1.7"/>
<line x1="483.4" y1="1326.8" x2="483.4" y2="1325.2" stroke="#000" stroke-width="1.1"/>
<line x1="479.5" y1="1325.2" x2="487.3" y2="1325.2" stroke="#000" stroke-width="1.1"/>
<circle cx="478.2" cy="1325.2" r="3.4" fill="#000"/>
<circle cx="483.1" cy="1327.3" r="3.4" fill="#000"/>
<circle cx="488.3" cy="1328.0" r="3.4" fill="#000"/>
<rect x="497.1" y="1331.8" width="15.8" height="3.3" fill="#000" stroke="#000" stroke-width="1.7"/>
<line x1="505.0" y1="1331.0" x2="505.0" y2="1329.3" stroke="#000" stroke-width="1.1"/>
<line x1="501.1" y1="1329.3" x2="508.9" y2="1329.3" stroke="#000" stroke-width="1.1"/>
<circle cx="499.8" cy="1332.5" r="3.4" fill="#000"/>
<circle cx="505.0" cy="1330.6" r="3.4" fill="#000"/>
<circle cx="510.2" cy="1329.8" r="3.4" fill="#000"/>
<line x1="157.7" y1="1335.1" x2="157.7" y2="1341.1" stroke="#000" stroke-width="1.8"/>
<line x1="263.1" y1="1335.1" x2="263.1" y2="1341.1" stroke="#000" stroke-width="1.8"/>
<line x1="367.9" y1="1335.1" x2="367.9" y2="1341.1" stroke="#000" stroke-width="1.8"/>
<line x1="472.6" y1="1335.1" x2="472.6" y2="1341.1" stroke="#000" stroke-width="1.8"/>
<text x="157.70" y="1383.50" font-size="22.5" text-anchor="middle" fill="#000">0</text>
<text x="265.10" y="1383.50" font-size="22.5" text-anchor="middle" fill="#000">0.5</text>
<text x="367.90" y="1383.50" font-size="22.5" text-anchor="middle" fill="#000">1</text>
<text x="472.60" y="1383.50" font-size="22.5" text-anchor="middle" fill="#000">2</text>
<line x1="171.1" y1="1176.2" x2="476.1" y2="1176.2" stroke="#000" stroke-width="1.9"/>
<text x="332.70" y="1161.50" font-size="18.8" text-anchor="middle" fill="#000">p&lt;0.0001</text>
<line x1="172.1" y1="1213.1" x2="387.9" y2="1213.1" stroke="#000" stroke-width="1.9"/>
<text x="275.70" y="1200.10" font-size="18.8" text-anchor="middle" fill="#000">p=0.0017</text>
<text x="118.70" y="1156.90" font-size="22.5" text-anchor="start" fill="#000">Aspartate</text>
<text x="102.40" y="1366.80" font-size="20.4" text-anchor="end" fill="#000">Lactate</text>
<text x="101.20" y="1388.30" font-size="20.4" text-anchor="end" fill="#000">(mM)</text>
<text x="0" y="0" font-size="19.3" text-anchor="middle" dominant-baseline="central" transform="translate(42.1 1263.7) rotate(-90)">% of pool</text>
<line x1="580.3" y1="1192.5" x2="580.3" y2="1332.4" stroke="#000" stroke-width="1.8"/>
<line x1="574.3" y1="1331.5" x2="580.3" y2="1331.5" stroke="#000" stroke-width="1.8"/>
<text x="572.00" y="1338.17" font-size="20.5" text-anchor="end" fill="#000">0</text>
<line x1="574.3" y1="1285.5" x2="580.3" y2="1285.5" stroke="#000" stroke-width="1.8"/>
<text x="572.00" y="1292.17" font-size="20.5" text-anchor="end" fill="#000">40</text>
<line x1="574.3" y1="1239.5" x2="580.3" y2="1239.5" stroke="#000" stroke-width="1.8"/>
<text x="572.00" y="1246.17" font-size="20.5" text-anchor="end" fill="#000">80</text>
<line x1="574.3" y1="1193.5" x2="580.3" y2="1193.5" stroke="#000" stroke-width="1.8"/>
<text x="572.00" y="1200.17" font-size="20.5" text-anchor="end" fill="#000">120</text>
<line x1="579.4" y1="1331.5" x2="997.0" y2="1331.5" stroke="#000" stroke-width="1.8"/>
<rect x="590.8" y="1281.2" width="15.8" height="50.3" fill="#1f5ba8" stroke="#000" stroke-width="1.7"/>
<line x1="598.7" y1="1280.3" x2="598.7" y2="1276.7" stroke="#000" stroke-width="1.1"/>
<line x1="594.8" y1="1276.7" x2="602.6" y2="1276.7" stroke="#000" stroke-width="1.1"/>
<circle cx="593.5" cy="1283.5" r="3.4" fill="#000"/>
<circle cx="598.7" cy="1279.6" r="3.4" fill="#000"/>
<circle cx="604.0" cy="1277.8" r="3.4" fill="#000"/>
<rect x="612.4" y="1321.1" width="15.8" height="10.4" fill="#d6d6d6" stroke="#000" stroke-width="1.7"/>
<line x1="620.3" y1="1320.2" x2="620.3" y2="1318.8" stroke="#000" stroke-width="1.1"/>
<line x1="616.4" y1="1318.8" x2="624.2" y2="1318.8" stroke="#000" stroke-width="1.1"/>
<circle cx="615.4" cy="1319.1" r="3.4" fill="#000"/>
<circle cx="621.2" cy="1321.1" r="3.4" fill="#000"/>
<circle cx="625.6" cy="1320.5" r="3.4" fill="#000"/>
<rect x="634.0" y="1324.3" width="15.8" height="7.2" fill="#1c7d5a" stroke="#000" stroke-width="1.7"/>
<line x1="641.9" y1="1323.5" x2="641.9" y2="1322.1" stroke="#000" stroke-width="1.1"/>
<line x1="638.0" y1="1322.1" x2="645.8" y2="1322.1" stroke="#000" stroke-width="1.1"/>
<circle cx="636.6" cy="1323.0" r="3.4" fill="#000"/>
<circle cx="641.5" cy="1322.2" r="3.4" fill="#000"/>
<circle cx="646.8" cy="1324.8" r="3.4" fill="#000"/>
<rect x="655.6" y="1293.2" width="15.8" height="38.2" fill="#000" stroke="#000" stroke-width="1.7"/>
<line x1="663.5" y1="1292.4" x2="663.5" y2="1289.7" stroke="#000" stroke-width="1.1"/>
<line x1="659.6" y1="1289.7" x2="667.4" y2="1289.7" stroke="#000" stroke-width="1.1"/>
<circle cx="658.2" cy="1293.5" r="3.4" fill="#000"/>
<circle cx="663.5" cy="1293.8" r="3.4" fill="#000"/>
<circle cx="668.8" cy="1289.9" r="3.4" fill="#000"/>
<rect x="695.1" y="1287.7" width="15.8" height="43.8" fill="#1f5ba8" stroke="#000" stroke-width="1.7"/>
<line x1="703.0" y1="1286.9" x2="703.0" y2="1283.8" stroke="#000" stroke-width="1.1"/>
<line x1="699.1" y1="1283.8" x2="706.9" y2="1283.8" stroke="#000" stroke-width="1.1"/>
<circle cx="698.1" cy="1283.8" r="3.4" fill="#000"/>
<circle cx="703.9" cy="1287.8" r="3.4" fill="#000"/>
<circle cx="708.2" cy="1289.1" r="3.4" fill="#000"/>
<rect x="716.7" y="1319.1" width="15.8" height="12.4" fill="#d6d6d6" stroke="#000" stroke-width="1.7"/>
<line x1="724.6" y1="1318.3" x2="724.6" y2="1316.9" stroke="#000" stroke-width="1.1"/>
<line x1="720.7" y1="1316.9" x2="728.5" y2="1316.9" stroke="#000" stroke-width="1.1"/>
<circle cx="719.4" cy="1319.5" r="3.4" fill="#000"/>
<circle cx="724.2" cy="1318.0" r="3.4" fill="#000"/>
<circle cx="729.5" cy="1317.3" r="3.4" fill="#000"/>
<rect x="738.3" y="1318.5" width="15.8" height="12.9" fill="#1c7d5a" stroke="#000" stroke-width="1.7"/>
<line x1="746.2" y1="1317.7" x2="746.2" y2="1316.3" stroke="#000" stroke-width="1.1"/>
<line x1="742.3" y1="1316.3" x2="750.1" y2="1316.3" stroke="#000" stroke-width="1.1"/>
<circle cx="740.9" cy="1316.6" r="3.4" fill="#000"/>
<circle cx="746.2" cy="1318.5" r="3.4" fill="#000"/>
<circle cx="751.4" cy="1318.0" r="3.4" fill="#000"/>
<rect x="759.9" y="1282.1" width="15.8" height="49.4" fill="#000" stroke="#000" stroke-width="1.7"/>
<line x1="767.8" y1="1281.2" x2="767.8" y2="1277.7" stroke="#000" stroke-width="1.1"/>
<line x1="763.9" y1="1277.7" x2="771.7" y2="1277.7" stroke="#000" stroke-width="1.1"/>
<circle cx="762.9" cy="1280.2" r="3.4" fill="#000"/>
<circle cx="768.7" cy="1278.1" r="3.4" fill="#000"/>
<circle cx="773.0" cy="1284.8" r="3.4" fill="#000"/>
<rect x="799.7" y="1242.2" width="15.8" height="89.3" fill="#1f5ba8" stroke="#000" stroke-width="1.7"/>
<line x1="807.6" y1="1241.3" x2="807.6" y2="1235.0" stroke="#000" stroke-width="1.1"/>
<line x1="803.7" y1="1235.0" x2="811.5" y2="1235.0" stroke="#000" stroke-width="1.1"/>
<circle cx="802.4" cy="1243.9" r="3.4" fill="#000"/>
<circle cx="807.2" cy="1244.5" r="3.4" fill="#000"/>
<circle cx="812.5" cy="1235.7" r="3.4" fill="#000"/>
<rect x="821.3" y="1331.2" width="15.8" height="0.5" fill="#d6d6d6" stroke="#000" stroke-width="1.7"/>
<line x1="829.2" y1="1330.3" x2="829.2" y2="1329.0" stroke="#000" stroke-width="1.1"/>
<line x1="825.3" y1="1329.0" x2="833.1" y2="1329.0" stroke="#000" stroke-width="1.1"/>
<circle cx="824.0" cy="1329.0" r="3.4" fill="#000"/>
<circle cx="829.2" cy="1330.5" r="3.4" fill="#000"/>
<circle cx="834.5" cy="1330.5" r="3.4" fill="#000"/>
<rect x="842.9" y="1330.0" width="15.8" height="1.4" fill="#1c7d5a" stroke="#000" stroke-width="1.7"/>
<line x1="850.8" y1="1329.2" x2="850.8" y2="1327.8" stroke="#000" stroke-width="1.1"/>
<line x1="846.9" y1="1327.8" x2="854.7" y2="1327.8" stroke="#000" stroke-width="1.1"/>
<circle cx="845.9" cy="1330.4" r="3.4" fill="#000"/>
<circle cx="851.7" cy="1328.9" r="3.4" fill="#000"/>
<circle cx="856.0" cy="1328.2" r="3.4" fill="#000"/>
<rect x="864.5" y="1318.1" width="15.8" height="13.4" fill="#000" stroke="#000" stroke-width="1.7"/>
<line x1="872.4" y1="1317.2" x2="872.4" y2="1315.9" stroke="#000" stroke-width="1.1"/>
<line x1="868.5" y1="1315.9" x2="876.3" y2="1315.9" stroke="#000" stroke-width="1.1"/>
<circle cx="867.1" cy="1316.1" r="3.4" fill="#000"/>
<circle cx="872.0" cy="1318.1" r="3.4" fill="#000"/>
<circle cx="877.3" cy="1317.5" r="3.4" fill="#000"/>
<rect x="904.8" y="1243.5" width="15.8" height="88.0" fill="#1f5ba8" stroke="#000" stroke-width="1.7"/>
<line x1="912.7" y1="1242.6" x2="912.7" y2="1236.4" stroke="#000" stroke-width="1.1"/>
<line x1="908.8" y1="1236.4" x2="916.6" y2="1236.4" stroke="#000" stroke-width="1.1"/>
<circle cx="907.5" cy="1240.7" r="3.4" fill="#000"/>
<circle cx="912.7" cy="1237.0" r="3.4" fill="#000"/>
<circle cx="918.0" cy="1248.8" r="3.4" fill="#000"/>
<rect x="926.4" y="1327.8" width="15.8" height="3.7" fill="#d6d6d6" stroke="#000" stroke-width="1.7"/>
<line x1="934.3" y1="1326.9" x2="934.3" y2="1325.5" stroke="#000" stroke-width="1.1"/>
<line x1="930.4" y1="1325.5" x2="938.2" y2="1325.5" stroke="#000" stroke-width="1.1"/>
<circle cx="929.4" cy="1327.5" r="3.4" fill="#000"/>
<circle cx="935.2" cy="1327.6" r="3.4" fill="#000"/>
<circle cx="939.6" cy="1325.7" r="3.4" fill="#000"/>
<rect x="948.0" y="1331.2" width="15.8" height="0.5" fill="#1c7d5a" stroke="#000" stroke-width="1.7"/>
<line x1="955.9" y1="1330.3" x2="955.9" y2="1329.0" stroke="#000" stroke-width="1.1"/>
<line x1="952.0" y1="1329.0" x2="959.8" y2="1329.0" stroke="#000" stroke-width="1.1"/>
<circle cx="950.6" cy="1329.0" r="3.4" fill="#000"/>
<circle cx="955.5" cy="1330.5" r="3.4" fill="#000"/>
<circle cx="960.8" cy="1330.5" r="3.4" fill="#000"/>
<rect x="969.6" y="1328.9" width="15.8" height="2.6" fill="#000" stroke="#000" stroke-width="1.7"/>
<line x1="977.5" y1="1328.0" x2="977.5" y2="1326.7" stroke="#000" stroke-width="1.1"/>
<line x1="973.6" y1="1326.7" x2="981.4" y2="1326.7" stroke="#000" stroke-width="1.1"/>
<circle cx="972.2" cy="1329.3" r="3.4" fill="#000"/>
<circle cx="977.5" cy="1327.8" r="3.4" fill="#000"/>
<circle cx="982.8" cy="1327.1" r="3.4" fill="#000"/>
<line x1="631.1" y1="1331.5" x2="631.1" y2="1337.5" stroke="#000" stroke-width="1.8"/>
<line x1="735.4" y1="1331.5" x2="735.4" y2="1337.5" stroke="#000" stroke-width="1.8"/>
<line x1="840.0" y1="1331.5" x2="840.0" y2="1337.5" stroke="#000" stroke-width="1.8"/>
<line x1="945.1" y1="1331.5" x2="945.1" y2="1337.5" stroke="#000" stroke-width="1.8"/>
<text x="631.10" y="1384.60" font-size="22.5" text-anchor="middle" fill="#000">0</text>
<text x="737.40" y="1384.60" font-size="22.5" text-anchor="middle" fill="#000">0.5</text>
<text x="840.00" y="1384.60" font-size="22.5" text-anchor="middle" fill="#000">1</text>
<text x="945.10" y="1384.60" font-size="22.5" text-anchor="middle" fill="#000">2</text>
<line x1="640.2" y1="1176.2" x2="946.0" y2="1176.2" stroke="#000" stroke-width="1.9"/>
<text x="796.40" y="1162.00" font-size="18.8" text-anchor="middle" fill="#000">p&lt;0.0001</text>
<line x1="640.2" y1="1214.3" x2="856.0" y2="1214.3" stroke="#000" stroke-width="1.9"/>
<text x="741.60" y="1203.00" font-size="18.8" text-anchor="middle" fill="#000">p=0.0009</text>
<text x="601.50" y="1155.90" font-size="22.6" text-anchor="start" fill="#000">Glutamate</text>
<rect x="1048.4" y="1210.5" width="10.3" height="10.3" fill="#1f5ba8" stroke="#222" stroke-width="1"/>
<rect x="1048.4" y="1234.0" width="10.3" height="10.3" fill="#d6d6d6" stroke="#d6d6d6" stroke-width="1"/>
<rect x="1048.4" y="1256.0" width="10.3" height="10.3" fill="#1c7d5a" stroke="#222" stroke-width="1"/>
<rect x="1048.4" y="1280.2" width="10.3" height="10.3" fill="#000" stroke="#222" stroke-width="1"/>
<text x="1075.80" y="1222.60" font-size="19.7" text-anchor="start" fill="#000">M+0</text>
<text x="1075.80" y="1245.10" font-size="19.7" text-anchor="start" fill="#000">M+1</text>
<text x="1075.80" y="1268.30" font-size="19.7" text-anchor="start" fill="#000">M+2</text>
<text x="1075.80" y="1292.40" font-size="19.7" text-anchor="start" fill="#000">M+3</text>
<text x="27.80" y="1458.70" font-size="37.5" text-anchor="start" fill="#000">f</text>
<line x1="100.9" y1="1482.4" x2="100.9" y2="1622.1" stroke="#000" stroke-width="1.8"/>
<line x1="94.9" y1="1621.2" x2="100.9" y2="1621.2" stroke="#000" stroke-width="1.8"/>
<text x="92.60" y="1627.88" font-size="20.5" text-anchor="end" fill="#000">0</text>
<line x1="94.9" y1="1593.6" x2="100.9" y2="1593.6" stroke="#000" stroke-width="1.8"/>
<text x="92.60" y="1600.32" font-size="20.5" text-anchor="end" fill="#000">20</text>
<line x1="94.9" y1="1566.1" x2="100.9" y2="1566.1" stroke="#000" stroke-width="1.8"/>
<text x="92.60" y="1572.76" font-size="20.5" text-anchor="end" fill="#000">40</text>
<line x1="94.9" y1="1538.5" x2="100.9" y2="1538.5" stroke="#000" stroke-width="1.8"/>
<text x="92.60" y="1545.19" font-size="20.5" text-anchor="end" fill="#000">60</text>
<line x1="94.9" y1="1511.0" x2="100.9" y2="1511.0" stroke="#000" stroke-width="1.8"/>
<text x="92.60" y="1517.63" font-size="20.5" text-anchor="end" fill="#000">80</text>
<line x1="94.9" y1="1483.4" x2="100.9" y2="1483.4" stroke="#000" stroke-width="1.8"/>
<text x="92.60" y="1490.08" font-size="20.5" text-anchor="end" fill="#000">100</text>
<line x1="100.0" y1="1621.2" x2="517.7" y2="1621.2" stroke="#000" stroke-width="1.8"/>
<rect x="111.2" y="1513.2" width="15.3" height="108.0" fill="#1f5ba8" stroke="#000" stroke-width="1.7"/>
<line x1="118.9" y1="1512.3" x2="118.9" y2="1505.4" stroke="#000" stroke-width="1.1"/>
<line x1="115.1" y1="1505.4" x2="122.7" y2="1505.4" stroke="#000" stroke-width="1.1"/>
<circle cx="113.8" cy="1518.5" r="3.8" fill="#000"/>
<circle cx="118.9" cy="1511.0" r="3.8" fill="#000"/>
<circle cx="124.0" cy="1507.5" r="3.8" fill="#000"/>
<rect x="132.6" y="1602.3" width="15.3" height="18.9" fill="#d6d6d6" stroke="#000" stroke-width="1.7"/>
<line x1="140.3" y1="1601.5" x2="140.3" y2="1596.0" stroke="#000" stroke-width="1.1"/>
<line x1="136.5" y1="1596.0" x2="144.1" y2="1596.0" stroke="#000" stroke-width="1.1"/>
<circle cx="135.5" cy="1597.1" r="3.8" fill="#000"/>
<circle cx="141.1" cy="1604.8" r="3.8" fill="#000"/>
<circle cx="145.4" cy="1602.6" r="3.8" fill="#000"/>
<rect x="154.2" y="1606.5" width="15.3" height="14.7" fill="#1c7d5a" stroke="#000" stroke-width="1.7"/>
<line x1="161.9" y1="1605.6" x2="161.9" y2="1598.7" stroke="#000" stroke-width="1.1"/>
<line x1="158.1" y1="1598.7" x2="165.7" y2="1598.7" stroke="#000" stroke-width="1.1"/>
<circle cx="156.8" cy="1603.6" r="3.8" fill="#000"/>
<circle cx="161.6" cy="1599.4" r="3.8" fill="#000"/>
<circle cx="166.7" cy="1612.5" r="3.8" fill="#000"/>
<rect x="175.7" y="1617.9" width="15.3" height="3.3" fill="#000" stroke="#000" stroke-width="1.7"/>
<line x1="183.3" y1="1617.1" x2="183.3" y2="1615.4" stroke="#000" stroke-width="1.1"/>
<line x1="179.5" y1="1615.4" x2="187.1" y2="1615.4" stroke="#000" stroke-width="1.1"/>
<circle cx="178.2" cy="1617.7" r="3.8" fill="#000"/>
<circle cx="183.3" cy="1617.9" r="3.8" fill="#000"/>
<circle cx="188.4" cy="1615.6" r="3.8" fill="#000"/>
<rect x="216.0" y="1525.6" width="15.3" height="95.6" fill="#1f5ba8" stroke="#000" stroke-width="1.7"/>
<line x1="223.7" y1="1524.7" x2="223.7" y2="1520.6" stroke="#000" stroke-width="1.1"/>
<line x1="219.9" y1="1520.6" x2="227.5" y2="1520.6" stroke="#000" stroke-width="1.1"/>
<circle cx="218.9" cy="1520.6" r="3.8" fill="#000"/>
<circle cx="224.5" cy="1526.0" r="3.8" fill="#000"/>
<circle cx="228.8" cy="1527.6" r="3.8" fill="#000"/>
<rect x="237.4" y="1606.2" width="15.3" height="15.0" fill="#d6d6d6" stroke="#000" stroke-width="1.7"/>
<line x1="245.1" y1="1605.4" x2="245.1" y2="1601.2" stroke="#000" stroke-width="1.1"/>
<line x1="241.3" y1="1601.2" x2="248.9" y2="1601.2" stroke="#000" stroke-width="1.1"/>
<circle cx="240.0" cy="1609.1" r="3.8" fill="#000"/>
<circle cx="244.8" cy="1604.5" r="3.8" fill="#000"/>
<circle cx="249.9" cy="1602.5" r="3.8" fill="#000"/>
<rect x="259.1" y="1608.3" width="15.3" height="12.9" fill="#1c7d5a" stroke="#000" stroke-width="1.7"/>
<line x1="266.7" y1="1607.4" x2="266.7" y2="1603.3" stroke="#000" stroke-width="1.1"/>
<line x1="262.9" y1="1603.3" x2="270.5" y2="1603.3" stroke="#000" stroke-width="1.1"/>
<circle cx="261.6" cy="1604.1" r="3.8" fill="#000"/>
<circle cx="266.7" cy="1609.9" r="3.8" fill="#000"/>
<circle cx="271.8" cy="1608.2" r="3.8" fill="#000"/>
<rect x="280.5" y="1611.0" width="15.3" height="10.2" fill="#000" stroke="#000" stroke-width="1.7"/>
<line x1="288.1" y1="1610.2" x2="288.1" y2="1606.0" stroke="#000" stroke-width="1.1"/>
<line x1="284.3" y1="1606.0" x2="291.9" y2="1606.0" stroke="#000" stroke-width="1.1"/>
<circle cx="283.3" cy="1608.9" r="3.8" fill="#000"/>
<circle cx="289.0" cy="1606.5" r="3.8" fill="#000"/>
<circle cx="293.2" cy="1614.3" r="3.8" fill="#000"/>
<rect x="321.6" y="1565.6" width="15.3" height="55.6" fill="#1f5ba8" stroke="#000" stroke-width="1.7"/>
<line x1="329.2" y1="1564.7" x2="329.2" y2="1560.6" stroke="#000" stroke-width="1.1"/>
<line x1="325.4" y1="1560.6" x2="333.0" y2="1560.6" stroke="#000" stroke-width="1.1"/>
<circle cx="324.1" cy="1566.4" r="3.8" fill="#000"/>
<circle cx="328.9" cy="1566.8" r="3.8" fill="#000"/>
<circle cx="334.0" cy="1561.0" r="3.8" fill="#000"/>
<rect x="342.9" y="1598.9" width="15.3" height="22.3" fill="#d6d6d6" stroke="#000" stroke-width="1.7"/>
<line x1="350.6" y1="1598.0" x2="350.6" y2="1591.2" stroke="#000" stroke-width="1.1"/>
<line x1="346.8" y1="1591.2" x2="354.4" y2="1591.2" stroke="#000" stroke-width="1.1"/>
<circle cx="345.5" cy="1591.2" r="3.8" fill="#000"/>
<circle cx="350.6" cy="1600.1" r="3.8" fill="#000"/>
<circle cx="355.7" cy="1602.9" r="3.8" fill="#000"/>
<rect x="364.6" y="1600.0" width="15.3" height="21.2" fill="#1c7d5a" stroke="#000" stroke-width="1.7"/>
<line x1="372.2" y1="1599.2" x2="372.2" y2="1590.9" stroke="#000" stroke-width="1.1"/>
<line x1="368.4" y1="1590.9" x2="376.0" y2="1590.9" stroke="#000" stroke-width="1.1"/>
<circle cx="367.4" cy="1606.6" r="3.8" fill="#000"/>
<circle cx="373.1" cy="1597.5" r="3.8" fill="#000"/>
<circle cx="377.3" cy="1593.4" r="3.8" fill="#000"/>
<rect x="385.9" y="1588.6" width="15.3" height="32.6" fill="#000" stroke="#000" stroke-width="1.7"/>
<line x1="393.6" y1="1587.7" x2="393.6" y2="1582.2" stroke="#000" stroke-width="1.1"/>
<line x1="389.8" y1="1582.2" x2="397.4" y2="1582.2" stroke="#000" stroke-width="1.1"/>
<circle cx="388.5" cy="1583.3" r="3.8" fill="#000"/>
<circle cx="393.3" cy="1591.0" r="3.8" fill="#000"/>
<circle cx="398.4" cy="1588.8" r="3.8" fill="#000"/>
<rect x="426.4" y="1603.2" width="15.3" height="18.0" fill="#1f5ba8" stroke="#000" stroke-width="1.7"/>
<line x1="434.0" y1="1602.3" x2="434.0" y2="1595.4" stroke="#000" stroke-width="1.1"/>
<line x1="430.2" y1="1595.4" x2="437.8" y2="1595.4" stroke="#000" stroke-width="1.1"/>
<circle cx="428.9" cy="1600.3" r="3.8" fill="#000"/>
<circle cx="434.0" cy="1596.1" r="3.8" fill="#000"/>
<circle cx="439.1" cy="1609.2" r="3.8" fill="#000"/>
<rect x="447.8" y="1593.1" width="15.3" height="28.1" fill="#d6d6d6" stroke="#000" stroke-width="1.7"/>
<line x1="455.4" y1="1592.3" x2="455.4" y2="1585.4" stroke="#000" stroke-width="1.1"/>
<line x1="451.6" y1="1585.4" x2="459.2" y2="1585.4" stroke="#000" stroke-width="1.1"/>
<circle cx="450.6" cy="1595.0" r="3.8" fill="#000"/>
<circle cx="456.2" cy="1595.7" r="3.8" fill="#000"/>
<circle cx="460.5" cy="1586.1" r="3.8" fill="#000"/>
<rect x="469.4" y="1587.6" width="15.3" height="33.6" fill="#1c7d5a" stroke="#000" stroke-width="1.7"/>
<line x1="477.0" y1="1586.8" x2="477.0" y2="1582.6" stroke="#000" stroke-width="1.1"/>
<line x1="473.2" y1="1582.6" x2="480.8" y2="1582.6" stroke="#000" stroke-width="1.1"/>
<circle cx="471.9" cy="1582.6" r="3.8" fill="#000"/>
<circle cx="476.7" cy="1588.0" r="3.8" fill="#000"/>
<circle cx="481.8" cy="1589.6" r="3.8" fill="#000"/>
<rect x="490.8" y="1564.6" width="15.3" height="56.6" fill="#000" stroke="#000" stroke-width="1.7"/>
<line x1="498.4" y1="1563.7" x2="498.4" y2="1551.3" stroke="#000" stroke-width="1.1"/>
<line x1="494.6" y1="1551.3" x2="502.2" y2="1551.3" stroke="#000" stroke-width="1.1"/>
<circle cx="493.3" cy="1574.9" r="3.8" fill="#000"/>
<circle cx="498.4" cy="1561.3" r="3.8" fill="#000"/>
<circle cx="503.5" cy="1555.1" r="3.8" fill="#000"/>
<line x1="151.1" y1="1621.2" x2="151.1" y2="1627.2" stroke="#000" stroke-width="1.8"/>
<line x1="255.9" y1="1621.2" x2="255.9" y2="1627.2" stroke="#000" stroke-width="1.8"/>
<line x1="361.4" y1="1621.2" x2="361.4" y2="1627.2" stroke="#000" stroke-width="1.8"/>
<line x1="466.2" y1="1621.2" x2="466.2" y2="1627.2" stroke="#000" stroke-width="1.8"/>
<text x="151.10" y="1673.10" font-size="22.5" text-anchor="middle" fill="#000">0</text>
<text x="257.90" y="1673.10" font-size="22.5" text-anchor="middle" fill="#000">0.5</text>
<text x="361.40" y="1673.10" font-size="22.5" text-anchor="middle" fill="#000">1</text>
<text x="466.20" y="1673.10" font-size="22.5" text-anchor="middle" fill="#000">2</text>
<line x1="161.2" y1="1455.3" x2="466.2" y2="1455.3" stroke="#000" stroke-width="1.9"/>
<text x="322.20" y="1440.60" font-size="18.8" text-anchor="middle" fill="#000">p=0.0027</text>
<line x1="162.4" y1="1495.5" x2="377.4" y2="1495.5" stroke="#000" stroke-width="1.9"/>
<text x="269.30" y="1480.40" font-size="18.8" text-anchor="middle" fill="#000">p=0.0009</text>
<text x="131.80" y="1432.70" font-size="19.8" text-anchor="start" fill="#000">Serine</text>
<rect x="543.3" y="1512.8" width="10.3" height="10.3" fill="#1f5ba8" stroke="#222" stroke-width="1"/>
<rect x="543.3" y="1535.8" width="10.3" height="10.3" fill="#d6d6d6" stroke="#d6d6d6" stroke-width="1"/>
<rect x="543.3" y="1558.9" width="10.3" height="10.3" fill="#1c7d5a" stroke="#222" stroke-width="1"/>
<rect x="543.3" y="1581.5" width="10.3" height="10.3" fill="#000" stroke="#222" stroke-width="1"/>
<text x="570.90" y="1524.40" font-size="19.5" text-anchor="start" fill="#000">M+0</text>
<text x="570.90" y="1547.40" font-size="19.5" text-anchor="start" fill="#000">M+1</text>
<text x="570.90" y="1570.50" font-size="19.5" text-anchor="start" fill="#000">M+2</text>
<text x="570.90" y="1593.50" font-size="19.5" text-anchor="start" fill="#000">M+3</text>
<text x="104.30" y="1656.80" font-size="20.4" text-anchor="end" fill="#000">Lactate</text>
<text x="103.10" y="1678.30" font-size="20.4" text-anchor="end" fill="#000">(mM)</text>
<text x="0" y="0" font-size="19.3" text-anchor="middle" dominant-baseline="central" transform="translate(34.7 1551.8) rotate(-90)">% of pool</text>
<line x1="676.0" y1="1483.5" x2="676.0" y2="1623.7" stroke="#000" stroke-width="1.8"/>
<line x1="670.0" y1="1622.8" x2="676.0" y2="1622.8" stroke="#000" stroke-width="1.8"/>
<text x="667.70" y="1629.47" font-size="20.5" text-anchor="end" fill="#000">0</text>
<line x1="670.0" y1="1595.1" x2="676.0" y2="1595.1" stroke="#000" stroke-width="1.8"/>
<text x="667.70" y="1601.81" font-size="20.5" text-anchor="end" fill="#000">20</text>
<line x1="670.0" y1="1567.5" x2="676.0" y2="1567.5" stroke="#000" stroke-width="1.8"/>
<text x="667.70" y="1574.15" font-size="20.5" text-anchor="end" fill="#000">40</text>
<line x1="670.0" y1="1539.8" x2="676.0" y2="1539.8" stroke="#000" stroke-width="1.8"/>
<text x="667.70" y="1546.49" font-size="20.5" text-anchor="end" fill="#000">60</text>
<line x1="670.0" y1="1512.2" x2="676.0" y2="1512.2" stroke="#000" stroke-width="1.8"/>
<text x="667.70" y="1518.84" font-size="20.5" text-anchor="end" fill="#000">80</text>
<line x1="670.0" y1="1484.5" x2="676.0" y2="1484.5" stroke="#000" stroke-width="1.8"/>
<text x="667.70" y="1491.17" font-size="20.5" text-anchor="end" fill="#000">100</text>
<line x1="675.1" y1="1622.8" x2="1013.9" y2="1622.8" stroke="#000" stroke-width="1.8"/>
<rect x="686.2" y="1513.0" width="15.8" height="109.8" fill="#1f5ba8" stroke="#000" stroke-width="1.7"/>
<line x1="694.1" y1="1512.2" x2="694.1" y2="1508.0" stroke="#000" stroke-width="1.1"/>
<line x1="690.2" y1="1508.0" x2="698.0" y2="1508.0" stroke="#000" stroke-width="1.1"/>
<circle cx="688.9" cy="1515.9" r="4.2" fill="#000"/>
<circle cx="694.1" cy="1511.3" r="4.2" fill="#000"/>
<circle cx="699.4" cy="1509.3" r="4.2" fill="#000"/>
<rect x="708.6" y="1600.4" width="15.8" height="22.4" fill="#d6d6d6" stroke="#000" stroke-width="1.7"/>
<line x1="716.5" y1="1599.6" x2="716.5" y2="1588.5" stroke="#000" stroke-width="1.1"/>
<line x1="712.6" y1="1588.5" x2="720.4" y2="1588.5" stroke="#000" stroke-width="1.1"/>
<circle cx="711.6" cy="1590.7" r="4.2" fill="#000"/>
<circle cx="717.4" cy="1606.2" r="4.2" fill="#000"/>
<circle cx="721.8" cy="1601.8" r="4.2" fill="#000"/>
<rect x="731.0" y="1598.3" width="15.8" height="24.5" fill="#1c7d5a" stroke="#000" stroke-width="1.7"/>
<line x1="738.9" y1="1597.5" x2="738.9" y2="1589.2" stroke="#000" stroke-width="1.1"/>
<line x1="735.0" y1="1589.2" x2="742.8" y2="1589.2" stroke="#000" stroke-width="1.1"/>
<circle cx="733.6" cy="1595.0" r="4.2" fill="#000"/>
<circle cx="738.5" cy="1590.0" r="4.2" fill="#000"/>
<circle cx="743.8" cy="1605.8" r="4.2" fill="#000"/>
<rect x="771.6" y="1532.8" width="15.8" height="90.0" fill="#1f5ba8" stroke="#000" stroke-width="1.7"/>
<line x1="779.5" y1="1531.9" x2="779.5" y2="1519.5" stroke="#000" stroke-width="1.1"/>
<line x1="775.6" y1="1519.5" x2="783.4" y2="1519.5" stroke="#000" stroke-width="1.1"/>
<circle cx="774.2" cy="1536.9" r="4.2" fill="#000"/>
<circle cx="779.5" cy="1538.2" r="4.2" fill="#000"/>
<circle cx="784.8" cy="1520.7" r="4.2" fill="#000"/>
<rect x="794.0" y="1604.7" width="15.8" height="18.1" fill="#d6d6d6" stroke="#000" stroke-width="1.7"/>
<line x1="801.9" y1="1603.9" x2="801.9" y2="1596.9" stroke="#000" stroke-width="1.1"/>
<line x1="798.0" y1="1596.9" x2="805.8" y2="1596.9" stroke="#000" stroke-width="1.1"/>
<circle cx="797.0" cy="1596.9" r="4.2" fill="#000"/>
<circle cx="802.8" cy="1605.9" r="4.2" fill="#000"/>
<circle cx="807.1" cy="1608.7" r="4.2" fill="#000"/>
<rect x="816.4" y="1590.7" width="15.8" height="32.1" fill="#1c7d5a" stroke="#000" stroke-width="1.7"/>
<line x1="824.3" y1="1589.9" x2="824.3" y2="1586.4" stroke="#000" stroke-width="1.1"/>
<line x1="820.4" y1="1586.4" x2="828.2" y2="1586.4" stroke="#000" stroke-width="1.1"/>
<circle cx="819.0" cy="1593.0" r="4.2" fill="#000"/>
<circle cx="823.9" cy="1589.2" r="4.2" fill="#000"/>
<circle cx="829.2" cy="1587.5" r="4.2" fill="#000"/>
<rect x="856.7" y="1567.8" width="15.8" height="55.0" fill="#1f5ba8" stroke="#000" stroke-width="1.7"/>
<line x1="864.6" y1="1566.9" x2="864.6" y2="1562.8" stroke="#000" stroke-width="1.1"/>
<line x1="860.7" y1="1562.8" x2="868.5" y2="1562.8" stroke="#000" stroke-width="1.1"/>
<circle cx="859.4" cy="1563.6" r="4.2" fill="#000"/>
<circle cx="864.6" cy="1569.4" r="4.2" fill="#000"/>
<circle cx="869.9" cy="1567.8" r="4.2" fill="#000"/>
<rect x="879.1" y="1575.1" width="15.8" height="47.7" fill="#d6d6d6" stroke="#000" stroke-width="1.7"/>
<line x1="887.0" y1="1574.3" x2="887.0" y2="1571.5" stroke="#000" stroke-width="1.1"/>
<line x1="883.1" y1="1571.5" x2="890.9" y2="1571.5" stroke="#000" stroke-width="1.1"/>
<circle cx="882.1" cy="1573.4" r="4.2" fill="#000"/>
<circle cx="887.9" cy="1571.8" r="4.2" fill="#000"/>
<circle cx="892.2" cy="1577.0" r="4.2" fill="#000"/>
<rect x="901.5" y="1580.1" width="15.8" height="42.7" fill="#1c7d5a" stroke="#000" stroke-width="1.7"/>
<line x1="909.4" y1="1579.2" x2="909.4" y2="1572.3" stroke="#000" stroke-width="1.1"/>
<line x1="905.5" y1="1572.3" x2="913.3" y2="1572.3" stroke="#000" stroke-width="1.1"/>
<circle cx="904.1" cy="1582.0" r="4.2" fill="#000"/>
<circle cx="909.0" cy="1582.7" r="4.2" fill="#000"/>
<circle cx="914.3" cy="1573.0" r="4.2" fill="#000"/>
<rect x="941.7" y="1576.4" width="15.8" height="46.4" fill="#1f5ba8" stroke="#000" stroke-width="1.7"/>
<line x1="949.6" y1="1575.5" x2="949.6" y2="1572.7" stroke="#000" stroke-width="1.1"/>
<line x1="945.7" y1="1572.7" x2="953.5" y2="1572.7" stroke="#000" stroke-width="1.1"/>
<circle cx="944.4" cy="1572.7" r="4.2" fill="#000"/>
<circle cx="949.6" cy="1576.3" r="4.2" fill="#000"/>
<circle cx="954.9" cy="1577.4" r="4.2" fill="#000"/>
<rect x="964.1" y="1576.6" width="15.8" height="46.2" fill="#d6d6d6" stroke="#000" stroke-width="1.7"/>
<line x1="972.0" y1="1575.8" x2="972.0" y2="1570.2" stroke="#000" stroke-width="1.1"/>
<line x1="968.1" y1="1570.2" x2="975.9" y2="1570.2" stroke="#000" stroke-width="1.1"/>
<circle cx="967.1" cy="1580.8" r="4.2" fill="#000"/>
<circle cx="972.9" cy="1574.7" r="4.2" fill="#000"/>
<circle cx="977.2" cy="1571.9" r="4.2" fill="#000"/>
<rect x="986.5" y="1564.5" width="15.8" height="58.3" fill="#1c7d5a" stroke="#000" stroke-width="1.7"/>
<line x1="994.4" y1="1563.6" x2="994.4" y2="1560.8" stroke="#000" stroke-width="1.1"/>
<line x1="990.5" y1="1560.8" x2="998.3" y2="1560.8" stroke="#000" stroke-width="1.1"/>
<circle cx="989.1" cy="1561.4" r="4.2" fill="#000"/>
<circle cx="994.0" cy="1565.3" r="4.2" fill="#000"/>
<circle cx="999.3" cy="1564.2" r="4.2" fill="#000"/>
<line x1="716.5" y1="1622.8" x2="716.5" y2="1628.8" stroke="#000" stroke-width="1.8"/>
<line x1="801.9" y1="1622.8" x2="801.9" y2="1628.8" stroke="#000" stroke-width="1.8"/>
<line x1="887.0" y1="1622.8" x2="887.0" y2="1628.8" stroke="#000" stroke-width="1.8"/>
<line x1="972.0" y1="1622.8" x2="972.0" y2="1628.8" stroke="#000" stroke-width="1.8"/>
<text x="716.50" y="1673.10" font-size="22.5" text-anchor="middle" fill="#000">0</text>
<text x="803.90" y="1673.10" font-size="22.5" text-anchor="middle" fill="#000">0.5</text>
<text x="887.00" y="1673.10" font-size="22.5" text-anchor="middle" fill="#000">1</text>
<text x="972.00" y="1673.10" font-size="22.5" text-anchor="middle" fill="#000">2</text>
<line x1="731.1" y1="1457.8" x2="994.6" y2="1457.8" stroke="#000" stroke-width="1.9"/>
<text x="872.30" y="1446.90" font-size="18.8" text-anchor="middle" fill="#000">p=0.0025</text>
<line x1="731.1" y1="1494.3" x2="916.3" y2="1494.3" stroke="#000" stroke-width="1.9"/>
<text x="822.00" y="1483.00" font-size="18.8" text-anchor="middle" fill="#000">p=0.0478</text>
<text x="686.10" y="1440.60" font-size="20.2" text-anchor="start" fill="#000">Glycine</text>
<rect x="1059.2" y="1512.8" width="10.3" height="10.3" fill="#1f5ba8" stroke="#222" stroke-width="1"/>
<rect x="1059.2" y="1535.8" width="10.3" height="10.3" fill="#d6d6d6" stroke="#d6d6d6" stroke-width="1"/>
<rect x="1059.2" y="1558.9" width="10.3" height="10.3" fill="#1c7d5a" stroke="#222" stroke-width="1"/>
<text x="1086.00" y="1524.40" font-size="19.5" text-anchor="start" fill="#000">M+0</text>
<text x="1086.00" y="1547.40" font-size="19.5" text-anchor="start" fill="#000">M+1</text>
<text x="1086.00" y="1570.50" font-size="19.5" text-anchor="start" fill="#000">M+2</text>
<text x="5.60" y="1746.00" font-size="37.5" text-anchor="start" fill="#000">g</text>
<text x="116.80" y="1740.00" font-size="22" text-anchor="middle" fill="#000">Glucose</text>
<circle cx="83.7" cy="1754.9" r="6.6" fill="#2684cc"/>
<circle cx="96.9" cy="1754.9" r="6.6" fill="#2684cc"/>
<circle cx="110.1" cy="1754.9" r="6.6" fill="#2684cc"/>
<circle cx="123.2" cy="1754.9" r="6.6" fill="#2684cc"/>
<circle cx="136.2" cy="1754.9" r="6.6" fill="#2684cc"/>
<circle cx="149.4" cy="1754.9" r="6.6" fill="#2684cc"/>
<line x1="115.5" y1="1766.0" x2="115.5" y2="1786.4" stroke="#000" stroke-width="4.2"/>
<polygon points="115.5,1797.4 109.2,1785.4 121.8,1785.4" fill="#000"/>
<text x="115.20" y="1819.30" font-size="22" text-anchor="middle" fill="#000">R5P</text>
<circle cx="88.8" cy="1834.5" r="6.6" fill="#2684cc"/>
<circle cx="101.8" cy="1834.5" r="6.6" fill="#2684cc"/>
<circle cx="114.9" cy="1834.5" r="6.6" fill="#2684cc"/>
<circle cx="128.1" cy="1834.5" r="6.6" fill="#2684cc"/>
<circle cx="141.3" cy="1834.5" r="6.6" fill="#2684cc"/>
<text x="211.30" y="1819.70" font-size="22" text-anchor="middle" fill="#000">Serine</text>
<circle cx="196.2" cy="1833.9" r="5.3" fill="#fff" stroke="#2684cc" stroke-width="2.6"/>
<circle cx="209.2" cy="1833.9" r="5.3" fill="#fff" stroke="#2684cc" stroke-width="2.6"/>
<circle cx="222.4" cy="1833.9" r="5.3" fill="#fff" stroke="#2684cc" stroke-width="2.6"/>
<line x1="115.5" y1="1846.5" x2="115.5" y2="1867.1" stroke="#000" stroke-width="4.2"/>
<polygon points="115.5,1878.1 109.2,1866.1 121.8,1866.1" fill="#000"/>
<line x1="208.0" y1="1848.1" x2="177.0" y2="1871.8" stroke="#000" stroke-width="4.2"/>
<polygon points="168.3,1878.5 174.0,1866.2 181.6,1876.2" fill="#000"/>
<text x="116.60" y="1898.80" font-size="22" text-anchor="middle" fill="#000">ATP</text>
<circle cx="90.6" cy="1909.9" r="5.3" fill="#fff" stroke="#2684cc" stroke-width="2.6"/>
<circle cx="103.8" cy="1909.9" r="5.3" fill="#fff" stroke="#2684cc" stroke-width="2.6"/>
<circle cx="117.0" cy="1909.9" r="5.3" fill="#fff" stroke="#2684cc" stroke-width="2.6"/>
<circle cx="130.1" cy="1909.9" r="5.3" fill="#fff" stroke="#2684cc" stroke-width="2.6"/>
<circle cx="143.3" cy="1909.9" r="5.3" fill="#fff" stroke="#2684cc" stroke-width="2.6"/>
<circle cx="90.6" cy="1924.1" r="6.6" fill="#2684cc"/>
<circle cx="103.8" cy="1924.1" r="6.6" fill="#2684cc"/>
<circle cx="117.0" cy="1924.1" r="6.6" fill="#2684cc"/>
<circle cx="130.1" cy="1924.1" r="6.6" fill="#2684cc"/>
<circle cx="143.3" cy="1924.1" r="6.6" fill="#2684cc"/>
<line x1="115.5" y1="1939.7" x2="115.5" y2="1960.4" stroke="#000" stroke-width="4.2"/>
<polygon points="115.5,1971.4 109.2,1959.4 121.8,1959.4" fill="#000"/>
<text x="115.80" y="1998.10" font-size="22" text-anchor="middle" fill="#000">SAM</text>
<circle cx="89.8" cy="2014.3" r="5.3" fill="#fff" stroke="#2684cc" stroke-width="2.6"/>
<circle cx="103.0" cy="2014.3" r="5.3" fill="#fff" stroke="#2684cc" stroke-width="2.6"/>
<circle cx="116.2" cy="2014.3" r="5.3" fill="#fff" stroke="#2684cc" stroke-width="2.6"/>
<circle cx="129.3" cy="2014.3" r="5.3" fill="#fff" stroke="#2684cc" stroke-width="2.6"/>
<circle cx="142.5" cy="2014.3" r="5.3" fill="#fff" stroke="#2684cc" stroke-width="2.6"/>
<circle cx="89.8" cy="2028.5" r="6.6" fill="#2684cc"/>
<circle cx="103.0" cy="2028.5" r="6.6" fill="#2684cc"/>
<circle cx="116.2" cy="2028.5" r="6.6" fill="#2684cc"/>
<circle cx="129.3" cy="2028.5" r="6.6" fill="#2684cc"/>
<circle cx="142.5" cy="2028.5" r="6.6" fill="#2684cc"/>
<circle cx="89.8" cy="2043.1" r="5.3" fill="#fff" stroke="#2684cc" stroke-width="2.6"/>
<circle cx="103.0" cy="2043.1" r="5.3" fill="#fff" stroke="#2684cc" stroke-width="2.6"/>
<circle cx="116.2" cy="2043.1" r="5.3" fill="#fff" stroke="#2684cc" stroke-width="2.6"/>
<circle cx="129.3" cy="2043.1" r="5.3" fill="#fff" stroke="#2684cc" stroke-width="2.6"/>
<circle cx="142.5" cy="2043.1" r="5.3" fill="#fff" stroke="#2684cc" stroke-width="2.6"/>
<text x="432.90" y="1734.30" font-size="22" text-anchor="middle" fill="#000">Glucose</text>
<circle cx="399.8" cy="1749.2" r="6.6" fill="#2684cc"/>
<circle cx="413.3" cy="1749.2" r="6.6" fill="#2684cc"/>
<circle cx="426.5" cy="1749.2" r="6.6" fill="#2684cc"/>
<circle cx="439.7" cy="1749.2" r="6.6" fill="#2684cc"/>
<circle cx="452.8" cy="1749.2" r="6.6" fill="#2684cc"/>
<circle cx="466.0" cy="1749.2" r="6.6" fill="#2684cc"/>
<line x1="391.9" y1="1762.0" x2="391.9" y2="1782.7" stroke="#000" stroke-width="4.2"/>
<polygon points="391.9,1793.7 385.6,1781.7 398.1,1781.7" fill="#000"/>
<line x1="469.5" y1="1765.9" x2="469.5" y2="1786.5" stroke="#000" stroke-width="4.2"/>
<polygon points="469.5,1797.5 463.2,1785.5 475.8,1785.5" fill="#000"/>
<text x="384.30" y="1815.60" font-size="22" text-anchor="middle" fill="#000">R5P</text>
<circle cx="357.6" cy="1831.1" r="6.6" fill="#2684cc"/>
<circle cx="371.2" cy="1831.1" r="6.6" fill="#2684cc"/>
<circle cx="384.3" cy="1831.1" r="6.6" fill="#2684cc"/>
<circle cx="397.5" cy="1831.1" r="6.6" fill="#2684cc"/>
<circle cx="410.3" cy="1831.1" r="6.6" fill="#2684cc"/>
<text x="468.60" y="1815.60" font-size="22" text-anchor="middle" fill="#000">Serine</text>
<circle cx="453.2" cy="1829.7" r="6.6" fill="#2684cc"/>
<circle cx="466.4" cy="1829.7" r="6.6" fill="#2684cc"/>
<circle cx="479.2" cy="1829.7" r="6.6" fill="#2684cc"/>
<line x1="384.0" y1="1843.2" x2="384.0" y2="1863.1" stroke="#000" stroke-width="4.2"/>
<polygon points="384.0,1874.1 377.8,1862.1 390.2,1862.1" fill="#000"/>
<line x1="459.0" y1="1846.9" x2="428.7" y2="1870.7" stroke="#000" stroke-width="4.2"/>
<polygon points="420.0,1877.5 425.6,1865.2 433.3,1875.0" fill="#000"/>
<text x="385.80" y="1895.00" font-size="22" text-anchor="middle" fill="#000">ATP</text>
<circle cx="359.7" cy="1906.1" r="6.6" fill="#2684cc"/>
<circle cx="372.9" cy="1906.1" r="6.6" fill="#2684cc"/>
<circle cx="386.1" cy="1906.1" r="6.6" fill="#2684cc"/>
<circle cx="399.3" cy="1906.1" r="6.6" fill="#2684cc"/>
<circle cx="412.4" cy="1906.1" r="5.3" fill="#fff" stroke="#2684cc" stroke-width="2.6"/>
<circle cx="359.7" cy="1920.1" r="6.6" fill="#2684cc"/>
<circle cx="372.9" cy="1920.1" r="6.6" fill="#2684cc"/>
<circle cx="386.1" cy="1920.1" r="6.6" fill="#2684cc"/>
<circle cx="399.3" cy="1920.1" r="6.6" fill="#2684cc"/>
<circle cx="412.4" cy="1920.1" r="6.6" fill="#2684cc"/>
<line x1="384.0" y1="1936.0" x2="384.0" y2="1956.6" stroke="#000" stroke-width="4.2"/>
<polygon points="384.0,1967.6 377.8,1955.6 390.2,1955.6" fill="#000"/>
<text x="383.70" y="1996.60" font-size="22" text-anchor="middle" fill="#000">SAM</text>
<circle cx="357.1" cy="2012.9" r="6.6" fill="#2684cc"/>
<circle cx="370.3" cy="2012.9" r="6.6" fill="#2684cc"/>
<circle cx="384.0" cy="2012.9" r="6.6" fill="#2684cc"/>
<circle cx="397.2" cy="2012.9" r="6.6" fill="#2684cc"/>
<circle cx="410.3" cy="2012.9" r="5.3" fill="#fff" stroke="#2684cc" stroke-width="2.6"/>
<circle cx="357.1" cy="2027.0" r="6.6" fill="#2684cc"/>
<circle cx="370.3" cy="2027.0" r="6.6" fill="#2684cc"/>
<circle cx="384.0" cy="2027.0" r="6.6" fill="#2684cc"/>
<circle cx="397.2" cy="2027.0" r="6.6" fill="#2684cc"/>
<circle cx="410.3" cy="2027.0" r="6.6" fill="#2684cc"/>
<circle cx="357.1" cy="2042.2" r="5.3" fill="#fff" stroke="#2684cc" stroke-width="2.6"/>
<circle cx="370.3" cy="2042.2" r="5.3" fill="#fff" stroke="#2684cc" stroke-width="2.6"/>
<circle cx="384.0" cy="2042.2" r="5.3" fill="#fff" stroke="#2684cc" stroke-width="2.6"/>
<circle cx="397.2" cy="2042.2" r="5.3" fill="#fff" stroke="#2684cc" stroke-width="2.6"/>
<circle cx="410.3" cy="2042.2" r="5.3" fill="#fff" stroke="#2684cc" stroke-width="2.6"/>
<text x="544.90" y="1768.30" font-size="37.5" text-anchor="start" fill="#000">h</text>
<line x1="619.0" y1="1834.0" x2="619.0" y2="1986.5" stroke="#000" stroke-width="1.8"/>
<line x1="613.0" y1="1985.6" x2="619.0" y2="1985.6" stroke="#000" stroke-width="1.8"/>
<text x="610.70" y="1993.15" font-size="23" text-anchor="end" fill="#000">0</text>
<line x1="613.0" y1="1947.9" x2="619.0" y2="1947.9" stroke="#000" stroke-width="1.8"/>
<text x="610.70" y="1955.50" font-size="23" text-anchor="end" fill="#000">20</text>
<line x1="613.0" y1="1910.3" x2="619.0" y2="1910.3" stroke="#000" stroke-width="1.8"/>
<text x="610.70" y="1917.85" font-size="23" text-anchor="end" fill="#000">40</text>
<line x1="613.0" y1="1872.7" x2="619.0" y2="1872.7" stroke="#000" stroke-width="1.8"/>
<text x="610.70" y="1880.20" font-size="23" text-anchor="end" fill="#000">60</text>
<line x1="613.0" y1="1835.0" x2="619.0" y2="1835.0" stroke="#000" stroke-width="1.8"/>
<text x="610.70" y="1842.55" font-size="23" text-anchor="end" fill="#000">80</text>
<line x1="618.1" y1="1985.6" x2="982.5" y2="1985.6" stroke="#000" stroke-width="1.8"/>
<rect x="629.4" y="1936.2" width="17.8" height="49.4" fill="#1f5ba8" stroke="#000" stroke-width="1.7"/>
<line x1="638.3" y1="1935.3" x2="638.3" y2="1922.2" stroke="#000" stroke-width="1.1"/>
<line x1="633.9" y1="1922.2" x2="642.7" y2="1922.2" stroke="#000" stroke-width="1.1"/>
<circle cx="632.4" cy="1947.2" r="4.6" fill="#000"/>
<circle cx="638.3" cy="1932.7" r="4.6" fill="#000"/>
<circle cx="644.1" cy="1926.1" r="4.6" fill="#000"/>
<rect x="653.4" y="1932.2" width="17.8" height="53.4" fill="#d6d6d6" stroke="#000" stroke-width="1.7"/>
<line x1="662.3" y1="1931.4" x2="662.3" y2="1922.0" stroke="#000" stroke-width="1.1"/>
<line x1="657.9" y1="1922.0" x2="666.7" y2="1922.0" stroke="#000" stroke-width="1.1"/>
<circle cx="656.8" cy="1923.9" r="4.6" fill="#000"/>
<circle cx="663.3" cy="1937.0" r="4.6" fill="#000"/>
<circle cx="668.1" cy="1933.3" r="4.6" fill="#000"/>
<rect x="677.4" y="1929.8" width="17.8" height="55.8" fill="#1c7d5a" stroke="#000" stroke-width="1.7"/>
<line x1="686.3" y1="1928.9" x2="686.3" y2="1915.8" stroke="#000" stroke-width="1.1"/>
<line x1="681.9" y1="1915.8" x2="690.7" y2="1915.8" stroke="#000" stroke-width="1.1"/>
<circle cx="680.4" cy="1925.0" r="4.6" fill="#000"/>
<circle cx="685.9" cy="1917.1" r="4.6" fill="#000"/>
<circle cx="691.8" cy="1942.1" r="4.6" fill="#000"/>
<rect x="722.1" y="1937.7" width="17.8" height="47.9" fill="#1f5ba8" stroke="#000" stroke-width="1.7"/>
<line x1="731.0" y1="1936.8" x2="731.0" y2="1919.9" stroke="#000" stroke-width="1.1"/>
<line x1="726.6" y1="1919.9" x2="735.4" y2="1919.9" stroke="#000" stroke-width="1.1"/>
<circle cx="725.1" cy="1943.6" r="4.6" fill="#000"/>
<circle cx="731.0" cy="1945.3" r="4.6" fill="#000"/>
<circle cx="736.9" cy="1921.6" r="4.6" fill="#000"/>
<rect x="746.1" y="1927.5" width="17.8" height="58.1" fill="#d6d6d6" stroke="#000" stroke-width="1.7"/>
<line x1="755.0" y1="1926.7" x2="755.0" y2="1917.3" stroke="#000" stroke-width="1.1"/>
<line x1="750.6" y1="1917.3" x2="759.4" y2="1917.3" stroke="#000" stroke-width="1.1"/>
<circle cx="749.5" cy="1917.3" r="4.6" fill="#000"/>
<circle cx="756.0" cy="1929.5" r="4.6" fill="#000"/>
<circle cx="760.9" cy="1933.3" r="4.6" fill="#000"/>
<rect x="770.1" y="1928.7" width="17.8" height="56.9" fill="#1c7d5a" stroke="#000" stroke-width="1.7"/>
<line x1="779.0" y1="1927.8" x2="779.0" y2="1922.2" stroke="#000" stroke-width="1.1"/>
<line x1="774.6" y1="1922.2" x2="783.4" y2="1922.2" stroke="#000" stroke-width="1.1"/>
<circle cx="773.1" cy="1932.9" r="4.6" fill="#000"/>
<circle cx="778.6" cy="1926.7" r="4.6" fill="#000"/>
<circle cx="784.5" cy="1923.9" r="4.6" fill="#000"/>
<rect x="814.2" y="1977.6" width="17.8" height="8.0" fill="#1f5ba8" stroke="#000" stroke-width="1.7"/>
<line x1="823.1" y1="1976.8" x2="823.1" y2="1974.5" stroke="#000" stroke-width="1.1"/>
<line x1="818.7" y1="1974.5" x2="827.5" y2="1974.5" stroke="#000" stroke-width="1.1"/>
<circle cx="817.2" cy="1974.9" r="4.6" fill="#000"/>
<circle cx="823.1" cy="1978.1" r="4.6" fill="#000"/>
<circle cx="829.0" cy="1977.2" r="4.6" fill="#000"/>
<rect x="838.2" y="1891.6" width="17.8" height="94.0" fill="#d6d6d6" stroke="#000" stroke-width="1.7"/>
<line x1="847.1" y1="1890.7" x2="847.1" y2="1879.4" stroke="#000" stroke-width="1.1"/>
<line x1="842.7" y1="1879.4" x2="851.5" y2="1879.4" stroke="#000" stroke-width="1.1"/>
<circle cx="841.6" cy="1887.3" r="4.6" fill="#000"/>
<circle cx="848.1" cy="1880.6" r="4.6" fill="#000"/>
<circle cx="853.0" cy="1902.0" r="4.6" fill="#000"/>
<rect x="862.2" y="1893.1" width="17.8" height="92.5" fill="#1c7d5a" stroke="#000" stroke-width="1.7"/>
<line x1="871.1" y1="1892.2" x2="871.1" y2="1873.4" stroke="#000" stroke-width="1.1"/>
<line x1="866.7" y1="1873.4" x2="875.5" y2="1873.4" stroke="#000" stroke-width="1.1"/>
<circle cx="865.2" cy="1899.8" r="4.6" fill="#000"/>
<circle cx="870.7" cy="1901.6" r="4.6" fill="#000"/>
<circle cx="876.6" cy="1875.3" r="4.6" fill="#000"/>
<rect x="906.3" y="1980.8" width="17.8" height="4.8" fill="#1f5ba8" stroke="#000" stroke-width="1.7"/>
<line x1="915.2" y1="1980.0" x2="915.2" y2="1977.7" stroke="#000" stroke-width="1.1"/>
<line x1="910.8" y1="1977.7" x2="919.6" y2="1977.7" stroke="#000" stroke-width="1.1"/>
<circle cx="909.4" cy="1977.7" r="4.6" fill="#000"/>
<circle cx="915.2" cy="1980.6" r="4.6" fill="#000"/>
<circle cx="921.1" cy="1981.5" r="4.6" fill="#000"/>
<rect x="930.3" y="1895.7" width="17.8" height="89.9" fill="#d6d6d6" stroke="#000" stroke-width="1.7"/>
<line x1="939.2" y1="1894.9" x2="939.2" y2="1881.7" stroke="#000" stroke-width="1.1"/>
<line x1="934.8" y1="1881.7" x2="943.6" y2="1881.7" stroke="#000" stroke-width="1.1"/>
<circle cx="933.7" cy="1906.7" r="4.6" fill="#000"/>
<circle cx="940.2" cy="1892.2" r="4.6" fill="#000"/>
<circle cx="945.1" cy="1885.6" r="4.6" fill="#000"/>
<rect x="954.3" y="1870.3" width="17.8" height="115.3" fill="#1c7d5a" stroke="#000" stroke-width="1.7"/>
<line x1="963.2" y1="1869.4" x2="963.2" y2="1860.0" stroke="#000" stroke-width="1.1"/>
<line x1="958.8" y1="1860.0" x2="967.6" y2="1860.0" stroke="#000" stroke-width="1.1"/>
<circle cx="957.4" cy="1861.9" r="4.6" fill="#000"/>
<circle cx="962.8" cy="1875.1" r="4.6" fill="#000"/>
<circle cx="968.7" cy="1871.3" r="4.6" fill="#000"/>
<line x1="661.8" y1="1985.6" x2="661.8" y2="1991.6" stroke="#000" stroke-width="1.8"/>
<line x1="754.5" y1="1985.6" x2="754.5" y2="1991.6" stroke="#000" stroke-width="1.8"/>
<line x1="846.6" y1="1985.6" x2="846.6" y2="1991.6" stroke="#000" stroke-width="1.8"/>
<line x1="938.7" y1="1985.6" x2="938.7" y2="1991.6" stroke="#000" stroke-width="1.8"/>
<text x="661.80" y="2037.20" font-size="22.5" text-anchor="middle" fill="#000">0</text>
<text x="755.00" y="2037.20" font-size="22.5" text-anchor="middle" fill="#000">0.5</text>
<text x="846.60" y="2037.20" font-size="22.5" text-anchor="middle" fill="#000">1</text>
<text x="938.70" y="2037.20" font-size="22.5" text-anchor="middle" fill="#000">2</text>
<line x1="659.6" y1="1808.6" x2="965.0" y2="1808.6" stroke="#000" stroke-width="1.9"/>
<text x="800.90" y="1790.50" font-size="18.8" text-anchor="middle" fill="#000">p=0.0052</text>
<line x1="660.8" y1="1846.7" x2="876.1" y2="1846.7" stroke="#000" stroke-width="1.9"/>
<text x="770.50" y="1830.80" font-size="18.8" text-anchor="middle" fill="#000">p=0.048</text>
<text x="634.10" y="1790.50" font-size="22" text-anchor="start" fill="#000">ATP</text>
<text x="617.70" y="2022.80" font-size="20.4" text-anchor="end" fill="#000">Lactate</text>
<text x="616.70" y="2044.20" font-size="20.4" text-anchor="end" fill="#000">(mM)</text>
<text x="0" y="0" font-size="19.6" text-anchor="middle" dominant-baseline="central" transform="translate(552.2 1895.3) rotate(-90)">% of pool</text>
<line x1="1060.8" y1="1836.3" x2="1060.8" y2="1988.9" stroke="#000" stroke-width="1.8"/>
<line x1="1054.8" y1="1988.0" x2="1060.8" y2="1988.0" stroke="#000" stroke-width="1.8"/>
<text x="1052.55" y="1995.55" font-size="23" text-anchor="end" fill="#000">0</text>
<line x1="1054.8" y1="1950.3" x2="1060.8" y2="1950.3" stroke="#000" stroke-width="1.8"/>
<text x="1052.55" y="1957.88" font-size="23" text-anchor="end" fill="#000">20</text>
<line x1="1054.8" y1="1912.7" x2="1060.8" y2="1912.7" stroke="#000" stroke-width="1.8"/>
<text x="1052.55" y="1920.20" font-size="23" text-anchor="end" fill="#000">40</text>
<line x1="1054.8" y1="1875.0" x2="1060.8" y2="1875.0" stroke="#000" stroke-width="1.8"/>
<text x="1052.55" y="1882.52" font-size="23" text-anchor="end" fill="#000">60</text>
<line x1="1054.8" y1="1837.3" x2="1060.8" y2="1837.3" stroke="#000" stroke-width="1.8"/>
<text x="1052.55" y="1844.85" font-size="23" text-anchor="end" fill="#000">80</text>
<line x1="1059.9" y1="1988.0" x2="1424.4" y2="1988.0" stroke="#000" stroke-width="1.8"/>
<rect x="1071.9" y="1943.5" width="17.8" height="44.5" fill="#1f5ba8" stroke="#000" stroke-width="1.7"/>
<line x1="1080.8" y1="1942.6" x2="1080.8" y2="1927.5" stroke="#000" stroke-width="1.1"/>
<line x1="1076.4" y1="1927.5" x2="1085.2" y2="1927.5" stroke="#000" stroke-width="1.1"/>
<circle cx="1075.0" cy="1956.2" r="4.6" fill="#000"/>
<circle cx="1080.8" cy="1939.6" r="4.6" fill="#000"/>
<circle cx="1086.6" cy="1932.1" r="4.6" fill="#000"/>
<rect x="1095.9" y="1923.5" width="17.8" height="64.5" fill="#d6d6d6" stroke="#000" stroke-width="1.7"/>
<line x1="1104.8" y1="1922.6" x2="1104.8" y2="1917.0" stroke="#000" stroke-width="1.1"/>
<line x1="1100.4" y1="1917.0" x2="1109.2" y2="1917.0" stroke="#000" stroke-width="1.1"/>
<circle cx="1099.3" cy="1918.1" r="4.6" fill="#000"/>
<circle cx="1105.8" cy="1926.0" r="4.6" fill="#000"/>
<circle cx="1110.6" cy="1923.8" r="4.6" fill="#000"/>
<rect x="1119.9" y="1922.9" width="17.8" height="65.1" fill="#1c7d5a" stroke="#000" stroke-width="1.7"/>
<line x1="1128.8" y1="1922.1" x2="1128.8" y2="1916.4" stroke="#000" stroke-width="1.1"/>
<line x1="1124.4" y1="1916.4" x2="1133.2" y2="1916.4" stroke="#000" stroke-width="1.1"/>
<circle cx="1123.0" cy="1920.4" r="4.6" fill="#000"/>
<circle cx="1128.4" cy="1917.0" r="4.6" fill="#000"/>
<circle cx="1134.3" cy="1927.7" r="4.6" fill="#000"/>
<rect x="1164.0" y="1937.0" width="17.8" height="51.0" fill="#1f5ba8" stroke="#000" stroke-width="1.7"/>
<line x1="1172.9" y1="1936.2" x2="1172.9" y2="1919.2" stroke="#000" stroke-width="1.1"/>
<line x1="1168.5" y1="1919.2" x2="1177.3" y2="1919.2" stroke="#000" stroke-width="1.1"/>
<circle cx="1167.1" cy="1943.0" r="4.6" fill="#000"/>
<circle cx="1172.9" cy="1944.7" r="4.6" fill="#000"/>
<circle cx="1178.8" cy="1920.9" r="4.6" fill="#000"/>
<rect x="1188.0" y="1927.4" width="17.8" height="60.6" fill="#d6d6d6" stroke="#000" stroke-width="1.7"/>
<line x1="1196.9" y1="1926.6" x2="1196.9" y2="1920.9" stroke="#000" stroke-width="1.1"/>
<line x1="1192.5" y1="1920.9" x2="1201.3" y2="1920.9" stroke="#000" stroke-width="1.1"/>
<circle cx="1191.4" cy="1920.9" r="4.6" fill="#000"/>
<circle cx="1197.9" cy="1928.3" r="4.6" fill="#000"/>
<circle cx="1202.8" cy="1930.5" r="4.6" fill="#000"/>
<rect x="1212.0" y="1922.9" width="17.8" height="65.1" fill="#1c7d5a" stroke="#000" stroke-width="1.7"/>
<line x1="1220.9" y1="1922.1" x2="1220.9" y2="1914.5" stroke="#000" stroke-width="1.1"/>
<line x1="1216.5" y1="1914.5" x2="1225.3" y2="1914.5" stroke="#000" stroke-width="1.1"/>
<circle cx="1215.1" cy="1928.9" r="4.6" fill="#000"/>
<circle cx="1220.5" cy="1920.6" r="4.6" fill="#000"/>
<circle cx="1226.4" cy="1916.8" r="4.6" fill="#000"/>
<rect x="1256.1" y="1980.2" width="17.8" height="7.8" fill="#1f5ba8" stroke="#000" stroke-width="1.7"/>
<line x1="1265.0" y1="1979.3" x2="1265.0" y2="1977.1" stroke="#000" stroke-width="1.1"/>
<line x1="1260.6" y1="1977.1" x2="1269.4" y2="1977.1" stroke="#000" stroke-width="1.1"/>
<circle cx="1259.2" cy="1977.5" r="4.6" fill="#000"/>
<circle cx="1265.0" cy="1980.7" r="4.6" fill="#000"/>
<circle cx="1270.8" cy="1979.8" r="4.6" fill="#000"/>
<rect x="1280.1" y="1891.5" width="17.8" height="96.5" fill="#d6d6d6" stroke="#000" stroke-width="1.7"/>
<line x1="1289.0" y1="1890.6" x2="1289.0" y2="1879.3" stroke="#000" stroke-width="1.1"/>
<line x1="1284.6" y1="1879.3" x2="1293.4" y2="1879.3" stroke="#000" stroke-width="1.1"/>
<circle cx="1283.5" cy="1887.2" r="4.6" fill="#000"/>
<circle cx="1290.0" cy="1880.4" r="4.6" fill="#000"/>
<circle cx="1294.8" cy="1901.9" r="4.6" fill="#000"/>
<rect x="1304.1" y="1890.9" width="17.8" height="97.1" fill="#1c7d5a" stroke="#000" stroke-width="1.7"/>
<line x1="1313.0" y1="1890.0" x2="1313.0" y2="1882.5" stroke="#000" stroke-width="1.1"/>
<line x1="1308.6" y1="1882.5" x2="1317.4" y2="1882.5" stroke="#000" stroke-width="1.1"/>
<circle cx="1307.2" cy="1893.1" r="4.6" fill="#000"/>
<circle cx="1312.6" cy="1893.8" r="4.6" fill="#000"/>
<circle cx="1318.5" cy="1883.3" r="4.6" fill="#000"/>
<rect x="1347.6" y="1983.2" width="17.8" height="4.8" fill="#1f5ba8" stroke="#000" stroke-width="1.7"/>
<line x1="1356.5" y1="1982.3" x2="1356.5" y2="1980.1" stroke="#000" stroke-width="1.1"/>
<line x1="1352.1" y1="1980.1" x2="1360.9" y2="1980.1" stroke="#000" stroke-width="1.1"/>
<circle cx="1350.7" cy="1980.1" r="4.6" fill="#000"/>
<circle cx="1356.5" cy="1983.0" r="4.6" fill="#000"/>
<circle cx="1362.3" cy="1983.9" r="4.6" fill="#000"/>
<rect x="1371.6" y="1892.4" width="17.8" height="95.6" fill="#d6d6d6" stroke="#000" stroke-width="1.7"/>
<line x1="1380.5" y1="1891.6" x2="1380.5" y2="1884.8" stroke="#000" stroke-width="1.1"/>
<line x1="1376.1" y1="1884.8" x2="1384.9" y2="1884.8" stroke="#000" stroke-width="1.1"/>
<circle cx="1375.0" cy="1897.6" r="4.6" fill="#000"/>
<circle cx="1381.5" cy="1890.2" r="4.6" fill="#000"/>
<circle cx="1386.3" cy="1886.8" r="4.6" fill="#000"/>
<rect x="1395.6" y="1893.3" width="17.8" height="94.7" fill="#1c7d5a" stroke="#000" stroke-width="1.7"/>
<line x1="1404.5" y1="1892.5" x2="1404.5" y2="1886.8" stroke="#000" stroke-width="1.1"/>
<line x1="1400.1" y1="1886.8" x2="1408.9" y2="1886.8" stroke="#000" stroke-width="1.1"/>
<circle cx="1398.7" cy="1888.0" r="4.6" fill="#000"/>
<circle cx="1404.1" cy="1895.9" r="4.6" fill="#000"/>
<circle cx="1410.0" cy="1893.6" r="4.6" fill="#000"/>
<line x1="1104.3" y1="1988.0" x2="1104.3" y2="1994.0" stroke="#000" stroke-width="1.8"/>
<line x1="1196.4" y1="1988.0" x2="1196.4" y2="1994.0" stroke="#000" stroke-width="1.8"/>
<line x1="1288.5" y1="1988.0" x2="1288.5" y2="1994.0" stroke="#000" stroke-width="1.8"/>
<line x1="1380.0" y1="1988.0" x2="1380.0" y2="1994.0" stroke="#000" stroke-width="1.8"/>
<text x="1104.30" y="2037.70" font-size="22.5" text-anchor="middle" fill="#000">0</text>
<text x="1196.90" y="2037.70" font-size="22.5" text-anchor="middle" fill="#000">0.5</text>
<text x="1288.50" y="2037.70" font-size="22.5" text-anchor="middle" fill="#000">1</text>
<text x="1380.00" y="2037.70" font-size="22.5" text-anchor="middle" fill="#000">2</text>
<line x1="1099.6" y1="1803.4" x2="1404.4" y2="1803.4" stroke="#000" stroke-width="1.9"/>
<text x="1229.80" y="1783.70" font-size="18.8" text-anchor="middle" fill="#000">p=0.0042</text>
<line x1="1100.5" y1="1846.9" x2="1315.5" y2="1846.9" stroke="#000" stroke-width="1.9"/>
<text x="1205.10" y="1830.70" font-size="18.8" text-anchor="middle" fill="#000">p=0.0041</text>
<text x="1066.60" y="1787.80" font-size="21.4" text-anchor="start" fill="#000">SAM</text>
<rect x="1316.0" y="1707.6" width="10.5" height="10.5" fill="#1f5ba8" stroke="#222" stroke-width="1"/>
<rect x="1316.0" y="1734.8" width="10.5" height="10.5" fill="#d6d6d6" stroke="#d6d6d6" stroke-width="1"/>
<rect x="1316.0" y="1762.0" width="10.5" height="10.5" fill="#1c7d5a" stroke="#222" stroke-width="1"/>
<text x="1348.40" y="1718.50" font-size="21.3" text-anchor="start" fill="#000">M+0</text>
<text x="1348.40" y="1746.60" font-size="21.3" text-anchor="start" fill="#000">M+5</text>
<text x="1348.40" y="1775.30" font-size="21.3" text-anchor="start" fill="#000">M+6-9</text>
<text x="6.70" y="2146.50" font-size="37.5" text-anchor="start" fill="#000">i</text>
<line x1="103.9" y1="2155.5" x2="103.9" y2="2295.5" stroke="#000" stroke-width="1.8"/>
<line x1="97.9" y1="2294.6" x2="103.9" y2="2294.6" stroke="#000" stroke-width="1.8"/>
<text x="95.60" y="2301.10" font-size="20" text-anchor="end" font-weight="bold" fill="#000">0</text>
<line x1="97.9" y1="2260.1" x2="103.9" y2="2260.1" stroke="#000" stroke-width="1.8"/>
<text x="95.60" y="2266.57" font-size="20" text-anchor="end" font-weight="bold" fill="#000">1</text>
<line x1="97.9" y1="2225.6" x2="103.9" y2="2225.6" stroke="#000" stroke-width="1.8"/>
<text x="95.60" y="2232.05" font-size="20" text-anchor="end" font-weight="bold" fill="#000">2</text>
<line x1="97.9" y1="2191.0" x2="103.9" y2="2191.0" stroke="#000" stroke-width="1.8"/>
<text x="95.60" y="2197.53" font-size="20" text-anchor="end" font-weight="bold" fill="#000">3</text>
<line x1="97.9" y1="2156.5" x2="103.9" y2="2156.5" stroke="#000" stroke-width="1.8"/>
<text x="95.60" y="2163.00" font-size="20" text-anchor="end" font-weight="bold" fill="#000">4</text>
<line x1="103.0" y1="2294.6" x2="233.5" y2="2294.6" stroke="#000" stroke-width="1.8"/>
<rect x="114.4" y="2259.9" width="17.8" height="34.7" fill="#1f5ba8" stroke="#000" stroke-width="1.7"/>
<line x1="123.3" y1="2259.0" x2="123.3" y2="2258.0" stroke="#000" stroke-width="1.1"/>
<line x1="118.9" y1="2258.0" x2="127.7" y2="2258.0" stroke="#000" stroke-width="1.1"/>
<circle cx="117.5" cy="2260.0" r="4.2" fill="#000"/>
<circle cx="123.3" cy="2258.8" r="4.2" fill="#000"/>
<circle cx="129.2" cy="2258.3" r="4.2" fill="#000"/>
<rect x="144.3" y="2243.7" width="17.8" height="50.9" fill="#d6d6d6" stroke="#000" stroke-width="1.7"/>
<line x1="153.2" y1="2242.8" x2="153.2" y2="2241.1" stroke="#000" stroke-width="1.1"/>
<line x1="148.8" y1="2241.1" x2="157.6" y2="2241.1" stroke="#000" stroke-width="1.1"/>
<circle cx="147.7" cy="2241.4" r="4.2" fill="#000"/>
<circle cx="154.2" cy="2243.8" r="4.2" fill="#000"/>
<circle cx="159.0" cy="2243.2" r="4.2" fill="#000"/>
<rect x="174.6" y="2240.6" width="17.8" height="54.0" fill="#1c7d5a" stroke="#000" stroke-width="1.7"/>
<line x1="183.5" y1="2239.7" x2="183.5" y2="2236.9" stroke="#000" stroke-width="1.1"/>
<line x1="179.1" y1="2236.9" x2="187.9" y2="2236.9" stroke="#000" stroke-width="1.1"/>
<circle cx="177.7" cy="2238.9" r="4.2" fill="#000"/>
<circle cx="183.1" cy="2237.2" r="4.2" fill="#000"/>
<circle cx="189.0" cy="2242.5" r="4.2" fill="#000"/>
<rect x="204.5" y="2200.2" width="17.8" height="94.4" fill="#000" stroke="#000" stroke-width="1.7"/>
<line x1="213.4" y1="2199.3" x2="213.4" y2="2197.2" stroke="#000" stroke-width="1.1"/>
<line x1="209.0" y1="2197.2" x2="217.8" y2="2197.2" stroke="#000" stroke-width="1.1"/>
<circle cx="207.6" cy="2200.1" r="4.2" fill="#000"/>
<circle cx="213.4" cy="2200.3" r="4.2" fill="#000"/>
<circle cx="219.2" cy="2197.4" r="4.2" fill="#000"/>
<line x1="123.3" y1="2294.6" x2="123.3" y2="2300.6" stroke="#000" stroke-width="1.8"/>
<line x1="153.2" y1="2294.6" x2="153.2" y2="2300.6" stroke="#000" stroke-width="1.8"/>
<line x1="183.5" y1="2294.6" x2="183.5" y2="2300.6" stroke="#000" stroke-width="1.8"/>
<line x1="213.4" y1="2294.6" x2="213.4" y2="2300.6" stroke="#000" stroke-width="1.8"/>
<text x="0" y="0" font-size="19" text-anchor="middle" dominant-baseline="central" transform="translate(153.2 2177.6) rotate(-90)">p=0.0002</text>
<text x="0" y="0" font-size="19" text-anchor="middle" dominant-baseline="central" transform="translate(182.4 2177.6) rotate(-90)">p=0.0007</text>
<text x="0" y="0" font-size="19" text-anchor="middle" dominant-baseline="central" transform="translate(212.7 2142.1) rotate(-90)">p&lt;0.0001</text>
<text x="237.40" y="2133.00" font-size="20.7" text-anchor="start" fill="#000">ATP level</text>
<rect x="265.7" y="2171.0" width="11.0" height="11.0" fill="#1f5ba8" stroke="#222" stroke-width="1"/>
<rect x="265.7" y="2202.8" width="11.0" height="11.0" fill="#d6d6d6" stroke="#d6d6d6" stroke-width="1"/>
<rect x="265.7" y="2238.2" width="11.0" height="11.0" fill="#1c7d5a" stroke="#222" stroke-width="1"/>
<rect x="265.7" y="2275.0" width="11.0" height="11.0" fill="#000" stroke="#222" stroke-width="1"/>
<text x="294.80" y="2182.20" font-size="21.5" text-anchor="start" fill="#000">Ctrl</text>
<text x="294.80" y="2214.00" font-size="21.5" text-anchor="start" fill="#000">β-glucan</text>
<text x="294.80" y="2249.70" font-size="21.5" text-anchor="start" fill="#000">lactate</text>
<text x="294.80" y="2286.20" font-size="21.5" text-anchor="start" fill="#000">β-glucan+lactate</text>
<text x="0" y="0" font-size="20.7" text-anchor="middle" dominant-baseline="central" transform="translate(58.4 2222.3) rotate(-90)">FRET ratio (folds)</text>
<text x="537.30" y="2146.20" font-size="37.5" text-anchor="start" fill="#000">j</text>
<text x="0" y="0" font-size="22.5" text-anchor="middle" dominant-baseline="central" transform="translate(578.4 2221.4) rotate(-90)">Rel. level (folds)</text>
<line x1="642.8" y1="2149.3" x2="642.8" y2="2296.9" stroke="#000" stroke-width="1.8"/>
<line x1="636.8" y1="2296.0" x2="642.8" y2="2296.0" stroke="#000" stroke-width="1.8"/>
<text x="634.50" y="2303.20" font-size="22" text-anchor="end" fill="#000">0.0</text>
<line x1="636.8" y1="2266.9" x2="642.8" y2="2266.9" stroke="#000" stroke-width="1.8"/>
<text x="634.50" y="2274.06" font-size="22" text-anchor="end" fill="#000">0.5</text>
<line x1="636.8" y1="2237.7" x2="642.8" y2="2237.7" stroke="#000" stroke-width="1.8"/>
<text x="634.50" y="2244.92" font-size="22" text-anchor="end" fill="#000">1.0</text>
<line x1="636.8" y1="2208.6" x2="642.8" y2="2208.6" stroke="#000" stroke-width="1.8"/>
<text x="634.50" y="2215.78" font-size="22" text-anchor="end" fill="#000">1.5</text>
<line x1="636.8" y1="2179.4" x2="642.8" y2="2179.4" stroke="#000" stroke-width="1.8"/>
<text x="634.50" y="2186.64" font-size="22" text-anchor="end" fill="#000">2.0</text>
<line x1="636.8" y1="2150.3" x2="642.8" y2="2150.3" stroke="#000" stroke-width="1.8"/>
<text x="634.50" y="2157.50" font-size="22" text-anchor="end" fill="#000">2.5</text>
<line x1="641.9" y1="2296.0" x2="738.9" y2="2296.0" stroke="#000" stroke-width="1.8"/>
<rect x="653.5" y="2236.8" width="16.3" height="59.2" fill="#d6d6d6" stroke="#000" stroke-width="1.7"/>
<line x1="661.6" y1="2236.0" x2="661.6" y2="2234.2" stroke="#000" stroke-width="1.1"/>
<line x1="657.6" y1="2234.2" x2="665.6" y2="2234.2" stroke="#000" stroke-width="1.1"/>
<circle cx="656.2" cy="2237.5" r="3.2" fill="#000"/>
<circle cx="661.6" cy="2235.6" r="3.2" fill="#000"/>
<circle cx="667.0" cy="2234.7" r="3.2" fill="#000"/>
<rect x="682.6" y="2210.6" width="16.3" height="85.4" fill="#1f5ba8" stroke="#000" stroke-width="1.7"/>
<line x1="690.7" y1="2209.7" x2="690.7" y2="2201.0" stroke="#000" stroke-width="1.1"/>
<line x1="686.7" y1="2201.0" x2="694.8" y2="2201.0" stroke="#000" stroke-width="1.1"/>
<circle cx="685.7" cy="2202.8" r="3.2" fill="#000"/>
<circle cx="691.6" cy="2215.0" r="3.2" fill="#000"/>
<circle cx="696.1" cy="2211.5" r="3.2" fill="#000"/>
<rect x="711.8" y="2184.4" width="16.3" height="111.6" fill="#08721a" stroke="#000" stroke-width="1.7"/>
<line x1="719.9" y1="2183.5" x2="719.9" y2="2173.6" stroke="#000" stroke-width="1.1"/>
<line x1="715.9" y1="2173.6" x2="723.9" y2="2173.6" stroke="#000" stroke-width="1.1"/>
<circle cx="714.5" cy="2180.5" r="3.2" fill="#000"/>
<circle cx="719.5" cy="2174.6" r="3.2" fill="#000"/>
<circle cx="724.9" cy="2193.4" r="3.2" fill="#000"/>
<line x1="661.6" y1="2296.0" x2="661.6" y2="2302.0" stroke="#000" stroke-width="1.8"/>
<line x1="690.7" y1="2296.0" x2="690.7" y2="2302.0" stroke="#000" stroke-width="1.8"/>
<line x1="719.9" y1="2296.0" x2="719.9" y2="2302.0" stroke="#000" stroke-width="1.8"/>
<line x1="681.6" y1="2154.1" x2="729.8" y2="2154.1" stroke="#000" stroke-width="1.9"/>
<text x="690.20" y="2136.60" font-size="19.5" text-anchor="middle" fill="#000">p=0.0378</text>
<text x="611.90" y="2106.70" font-size="21.8" text-anchor="start" fill="#000">Acetyl-CoA</text>
<line x1="799.0" y1="2149.3" x2="799.0" y2="2296.9" stroke="#000" stroke-width="1.8"/>
<line x1="793.0" y1="2296.0" x2="799.0" y2="2296.0" stroke="#000" stroke-width="1.8"/>
<text x="790.70" y="2303.20" font-size="22" text-anchor="end" fill="#000">0.0</text>
<line x1="793.0" y1="2266.9" x2="799.0" y2="2266.9" stroke="#000" stroke-width="1.8"/>
<text x="790.70" y="2274.06" font-size="22" text-anchor="end" fill="#000">0.5</text>
<line x1="793.0" y1="2237.7" x2="799.0" y2="2237.7" stroke="#000" stroke-width="1.8"/>
<text x="790.70" y="2244.92" font-size="22" text-anchor="end" fill="#000">1.0</text>
<line x1="793.0" y1="2208.6" x2="799.0" y2="2208.6" stroke="#000" stroke-width="1.8"/>
<text x="790.70" y="2215.78" font-size="22" text-anchor="end" fill="#000">1.5</text>
<line x1="793.0" y1="2179.4" x2="799.0" y2="2179.4" stroke="#000" stroke-width="1.8"/>
<text x="790.70" y="2186.64" font-size="22" text-anchor="end" fill="#000">2.0</text>
<line x1="793.0" y1="2150.3" x2="799.0" y2="2150.3" stroke="#000" stroke-width="1.8"/>
<text x="790.70" y="2157.50" font-size="22" text-anchor="end" fill="#000">2.5</text>
<line x1="798.1" y1="2296.0" x2="895.8" y2="2296.0" stroke="#000" stroke-width="1.8"/>
<rect x="810.1" y="2237.4" width="16.3" height="58.6" fill="#d6d6d6" stroke="#000" stroke-width="1.7"/>
<line x1="818.3" y1="2236.6" x2="818.3" y2="2234.8" stroke="#000" stroke-width="1.1"/>
<line x1="814.2" y1="2234.8" x2="822.3" y2="2234.8" stroke="#000" stroke-width="1.1"/>
<circle cx="812.9" cy="2238.1" r="3.2" fill="#000"/>
<circle cx="818.3" cy="2236.2" r="3.2" fill="#000"/>
<circle cx="823.7" cy="2235.3" r="3.2" fill="#000"/>
<rect x="839.1" y="2203.6" width="16.3" height="92.4" fill="#1f5ba8" stroke="#000" stroke-width="1.7"/>
<line x1="847.3" y1="2202.8" x2="847.3" y2="2194.0" stroke="#000" stroke-width="1.1"/>
<line x1="843.2" y1="2194.0" x2="851.3" y2="2194.0" stroke="#000" stroke-width="1.1"/>
<circle cx="842.3" cy="2195.8" r="3.2" fill="#000"/>
<circle cx="848.2" cy="2208.0" r="3.2" fill="#000"/>
<circle cx="852.7" cy="2204.5" r="3.2" fill="#000"/>
<rect x="868.2" y="2183.2" width="16.3" height="112.8" fill="#08721a" stroke="#000" stroke-width="1.7"/>
<line x1="876.4" y1="2182.4" x2="876.4" y2="2172.4" stroke="#000" stroke-width="1.1"/>
<line x1="872.4" y1="2172.4" x2="880.4" y2="2172.4" stroke="#000" stroke-width="1.1"/>
<circle cx="871.0" cy="2179.4" r="3.2" fill="#000"/>
<circle cx="876.0" cy="2173.4" r="3.2" fill="#000"/>
<circle cx="881.4" cy="2192.3" r="3.2" fill="#000"/>
<line x1="818.3" y1="2296.0" x2="818.3" y2="2302.0" stroke="#000" stroke-width="1.8"/>
<line x1="847.3" y1="2296.0" x2="847.3" y2="2302.0" stroke="#000" stroke-width="1.8"/>
<line x1="876.4" y1="2296.0" x2="876.4" y2="2302.0" stroke="#000" stroke-width="1.8"/>
<line x1="833.8" y1="2154.1" x2="881.2" y2="2154.1" stroke="#000" stroke-width="1.9"/>
<text x="838.30" y="2135.90" font-size="19.5" text-anchor="middle" fill="#000">p=0.0138</text>
<text x="804.60" y="2106.70" font-size="21.8" text-anchor="start" fill="#000">Citrate</text>
<line x1="956.1" y1="2149.3" x2="956.1" y2="2296.9" stroke="#000" stroke-width="1.8"/>
<line x1="950.1" y1="2296.0" x2="956.1" y2="2296.0" stroke="#000" stroke-width="1.8"/>
<text x="947.80" y="2303.20" font-size="22" text-anchor="end" fill="#000">0.0</text>
<line x1="950.1" y1="2266.9" x2="956.1" y2="2266.9" stroke="#000" stroke-width="1.8"/>
<text x="947.80" y="2274.06" font-size="22" text-anchor="end" fill="#000">0.5</text>
<line x1="950.1" y1="2237.7" x2="956.1" y2="2237.7" stroke="#000" stroke-width="1.8"/>
<text x="947.80" y="2244.92" font-size="22" text-anchor="end" fill="#000">1.0</text>
<line x1="950.1" y1="2208.6" x2="956.1" y2="2208.6" stroke="#000" stroke-width="1.8"/>
<text x="947.80" y="2215.78" font-size="22" text-anchor="end" fill="#000">1.5</text>
<line x1="950.1" y1="2179.4" x2="956.1" y2="2179.4" stroke="#000" stroke-width="1.8"/>
<text x="947.80" y="2186.64" font-size="22" text-anchor="end" fill="#000">2.0</text>
<line x1="950.1" y1="2150.3" x2="956.1" y2="2150.3" stroke="#000" stroke-width="1.8"/>
<text x="947.80" y="2157.50" font-size="22" text-anchor="end" fill="#000">2.5</text>
<line x1="955.2" y1="2296.0" x2="1054.5" y2="2296.0" stroke="#000" stroke-width="1.8"/>
<rect x="967.2" y="2236.8" width="16.3" height="59.2" fill="#d6d6d6" stroke="#000" stroke-width="1.7"/>
<line x1="975.4" y1="2236.0" x2="975.4" y2="2234.2" stroke="#000" stroke-width="1.1"/>
<line x1="971.4" y1="2234.2" x2="979.4" y2="2234.2" stroke="#000" stroke-width="1.1"/>
<circle cx="970.0" cy="2237.5" r="3.2" fill="#000"/>
<circle cx="975.4" cy="2235.6" r="3.2" fill="#000"/>
<circle cx="980.8" cy="2234.7" r="3.2" fill="#000"/>
<rect x="996.6" y="2207.1" width="16.3" height="88.9" fill="#1f5ba8" stroke="#000" stroke-width="1.7"/>
<line x1="1004.8" y1="2206.2" x2="1004.8" y2="2197.5" stroke="#000" stroke-width="1.1"/>
<line x1="1000.8" y1="2197.5" x2="1008.8" y2="2197.5" stroke="#000" stroke-width="1.1"/>
<circle cx="999.8" cy="2199.3" r="3.2" fill="#000"/>
<circle cx="1005.7" cy="2211.5" r="3.2" fill="#000"/>
<circle cx="1010.2" cy="2208.0" r="3.2" fill="#000"/>
<rect x="1026.0" y="2186.7" width="16.3" height="109.3" fill="#08721a" stroke="#000" stroke-width="1.7"/>
<line x1="1034.2" y1="2185.9" x2="1034.2" y2="2175.9" stroke="#000" stroke-width="1.1"/>
<line x1="1030.2" y1="2175.9" x2="1038.2" y2="2175.9" stroke="#000" stroke-width="1.1"/>
<circle cx="1028.8" cy="2182.9" r="3.2" fill="#000"/>
<circle cx="1033.8" cy="2176.9" r="3.2" fill="#000"/>
<circle cx="1039.2" cy="2195.8" r="3.2" fill="#000"/>
<line x1="975.4" y1="2296.0" x2="975.4" y2="2302.0" stroke="#000" stroke-width="1.8"/>
<line x1="1004.8" y1="2296.0" x2="1004.8" y2="2302.0" stroke="#000" stroke-width="1.8"/>
<line x1="1034.2" y1="2296.0" x2="1034.2" y2="2302.0" stroke="#000" stroke-width="1.8"/>
<line x1="991.4" y1="2162.2" x2="1039.2" y2="2162.2" stroke="#000" stroke-width="1.9"/>
<text x="1004.00" y="2138.40" font-size="19.5" text-anchor="middle" fill="#000">p=0.0346</text>
<text x="959.60" y="2104.50" font-size="21.8" text-anchor="start" fill="#000">Malate</text>
<rect x="1097.5" y="2150.8" width="10.5" height="10.5" fill="#d6d6d6" stroke="#d6d6d6" stroke-width="1"/>
<rect x="1097.5" y="2182.7" width="10.5" height="10.5" fill="#1f5ba8" stroke="#222" stroke-width="1"/>
<rect x="1097.5" y="2215.3" width="10.5" height="10.5" fill="#1c7d5a" stroke="#222" stroke-width="1"/>
<text x="1128.70" y="0.00" font-size="20.5" text-anchor="start" fill="#000"></text>
<text x="1128.70" y="0.00" font-size="20.5" text-anchor="start" fill="#000"></text>
<text x="1128.70" y="0.00" font-size="20.5" text-anchor="start" fill="#000"></text>
<text x="1128.40" y="2166.50" font-size="21.5" text-anchor="start" fill="#000">Ctrl</text>
<text x="1131.60" y="2194.70" font-size="21.5" text-anchor="start" fill="#000">β-glucan</text>
<text x="1131.60" y="2224.80" font-size="21.5" text-anchor="start" fill="#000">β-glucan+lactate</text>
<text x="10.40" y="2368.40" font-size="37.5" text-anchor="start" fill="#000">k</text>
<line x1="105.1" y1="2355.2" x2="105.1" y2="2501.7" stroke="#000" stroke-width="1.8"/>
<line x1="99.1" y1="2500.8" x2="105.1" y2="2500.8" stroke="#000" stroke-width="1.8"/>
<text x="96.80" y="2507.83" font-size="21.5" text-anchor="end" fill="#000">0</text>
<line x1="99.1" y1="2452.6" x2="105.1" y2="2452.6" stroke="#000" stroke-width="1.8"/>
<text x="96.80" y="2459.62" font-size="21.5" text-anchor="end" fill="#000">40</text>
<line x1="99.1" y1="2404.4" x2="105.1" y2="2404.4" stroke="#000" stroke-width="1.8"/>
<text x="96.80" y="2411.43" font-size="21.5" text-anchor="end" fill="#000">80</text>
<line x1="99.1" y1="2356.2" x2="105.1" y2="2356.2" stroke="#000" stroke-width="1.8"/>
<text x="96.80" y="2363.22" font-size="21.5" text-anchor="end" fill="#000">120</text>
<line x1="104.2" y1="2500.8" x2="528.3" y2="2500.8" stroke="#000" stroke-width="1.8"/>
<rect x="115.4" y="2469.1" width="15.8" height="31.7" fill="#1f5ba8" stroke="#000" stroke-width="1.7"/>
<line x1="123.3" y1="2468.3" x2="123.3" y2="2456.2" stroke="#000" stroke-width="1.1"/>
<line x1="119.4" y1="2456.2" x2="127.2" y2="2456.2" stroke="#000" stroke-width="1.1"/>
<circle cx="118.0" cy="2479.1" r="3.4" fill="#000"/>
<circle cx="123.3" cy="2465.9" r="3.4" fill="#000"/>
<circle cx="128.6" cy="2459.8" r="3.4" fill="#000"/>
<rect x="137.3" y="2498.0" width="15.8" height="2.8" fill="#d6d6d6" stroke="#000" stroke-width="1.7"/>
<line x1="145.2" y1="2497.2" x2="145.2" y2="2495.7" stroke="#000" stroke-width="1.1"/>
<line x1="141.3" y1="2495.7" x2="149.1" y2="2495.7" stroke="#000" stroke-width="1.1"/>
<circle cx="140.3" cy="2496.0" r="3.4" fill="#000"/>
<circle cx="146.1" cy="2498.1" r="3.4" fill="#000"/>
<circle cx="150.4" cy="2497.5" r="3.4" fill="#000"/>
<rect x="159.2" y="2413.9" width="15.8" height="86.9" fill="#08721a" stroke="#000" stroke-width="1.7"/>
<line x1="167.1" y1="2413.1" x2="167.1" y2="2398.6" stroke="#000" stroke-width="1.1"/>
<line x1="163.2" y1="2398.6" x2="171.0" y2="2398.6" stroke="#000" stroke-width="1.1"/>
<circle cx="161.8" cy="2408.7" r="3.4" fill="#000"/>
<circle cx="166.8" cy="2400.1" r="3.4" fill="#000"/>
<circle cx="172.0" cy="2427.5" r="3.4" fill="#000"/>
<rect x="181.1" y="2495.6" width="15.8" height="5.2" fill="#000" stroke="#000" stroke-width="1.7"/>
<line x1="189.0" y1="2494.8" x2="189.0" y2="2493.3" stroke="#000" stroke-width="1.1"/>
<line x1="185.1" y1="2493.3" x2="192.9" y2="2493.3" stroke="#000" stroke-width="1.1"/>
<circle cx="183.8" cy="2495.4" r="3.4" fill="#000"/>
<circle cx="189.0" cy="2495.5" r="3.4" fill="#000"/>
<circle cx="194.2" cy="2493.5" r="3.4" fill="#000"/>
<rect x="221.9" y="2448.4" width="15.8" height="52.4" fill="#1f5ba8" stroke="#000" stroke-width="1.7"/>
<line x1="229.8" y1="2447.5" x2="229.8" y2="2443.8" stroke="#000" stroke-width="1.1"/>
<line x1="225.9" y1="2443.8" x2="233.7" y2="2443.8" stroke="#000" stroke-width="1.1"/>
<circle cx="224.9" cy="2443.8" r="3.4" fill="#000"/>
<circle cx="230.7" cy="2448.7" r="3.4" fill="#000"/>
<circle cx="235.1" cy="2450.1" r="3.4" fill="#000"/>
<rect x="243.8" y="2498.0" width="15.8" height="2.8" fill="#d6d6d6" stroke="#000" stroke-width="1.7"/>
<line x1="251.7" y1="2497.2" x2="251.7" y2="2495.7" stroke="#000" stroke-width="1.1"/>
<line x1="247.8" y1="2495.7" x2="255.6" y2="2495.7" stroke="#000" stroke-width="1.1"/>
<circle cx="246.4" cy="2498.5" r="3.4" fill="#000"/>
<circle cx="251.3" cy="2496.9" r="3.4" fill="#000"/>
<circle cx="256.6" cy="2496.2" r="3.4" fill="#000"/>
<rect x="265.7" y="2444.1" width="15.8" height="56.7" fill="#08721a" stroke="#000" stroke-width="1.7"/>
<line x1="273.6" y1="2443.2" x2="273.6" y2="2431.2" stroke="#000" stroke-width="1.1"/>
<line x1="269.7" y1="2431.2" x2="277.5" y2="2431.2" stroke="#000" stroke-width="1.1"/>
<circle cx="268.4" cy="2433.6" r="3.4" fill="#000"/>
<circle cx="273.6" cy="2450.4" r="3.4" fill="#000"/>
<circle cx="278.9" cy="2445.6" r="3.4" fill="#000"/>
<rect x="286.9" y="2496.8" width="15.8" height="4.0" fill="#000" stroke="#000" stroke-width="1.7"/>
<line x1="294.8" y1="2496.0" x2="294.8" y2="2494.5" stroke="#000" stroke-width="1.1"/>
<line x1="290.9" y1="2494.5" x2="298.7" y2="2494.5" stroke="#000" stroke-width="1.1"/>
<circle cx="289.9" cy="2495.5" r="3.4" fill="#000"/>
<circle cx="295.7" cy="2494.7" r="3.4" fill="#000"/>
<circle cx="300.1" cy="2497.4" r="3.4" fill="#000"/>
<rect x="327.7" y="2441.5" width="15.8" height="59.3" fill="#1f5ba8" stroke="#000" stroke-width="1.7"/>
<line x1="335.6" y1="2440.7" x2="335.6" y2="2436.5" stroke="#000" stroke-width="1.1"/>
<line x1="331.7" y1="2436.5" x2="339.5" y2="2436.5" stroke="#000" stroke-width="1.1"/>
<circle cx="330.4" cy="2442.4" r="3.4" fill="#000"/>
<circle cx="335.2" cy="2442.8" r="3.4" fill="#000"/>
<circle cx="340.5" cy="2436.9" r="3.4" fill="#000"/>
<rect x="349.6" y="2495.6" width="15.8" height="5.2" fill="#d6d6d6" stroke="#000" stroke-width="1.7"/>
<line x1="357.5" y1="2494.8" x2="357.5" y2="2493.3" stroke="#000" stroke-width="1.1"/>
<line x1="353.6" y1="2493.3" x2="361.4" y2="2493.3" stroke="#000" stroke-width="1.1"/>
<circle cx="352.2" cy="2493.3" r="3.4" fill="#000"/>
<circle cx="357.5" cy="2495.2" r="3.4" fill="#000"/>
<circle cx="362.8" cy="2495.8" r="3.4" fill="#000"/>
<rect x="371.5" y="2447.1" width="15.8" height="53.7" fill="#08721a" stroke="#000" stroke-width="1.7"/>
<line x1="379.4" y1="2446.2" x2="379.4" y2="2434.2" stroke="#000" stroke-width="1.1"/>
<line x1="375.5" y1="2434.2" x2="383.3" y2="2434.2" stroke="#000" stroke-width="1.1"/>
<circle cx="374.5" cy="2457.1" r="3.4" fill="#000"/>
<circle cx="380.3" cy="2443.8" r="3.4" fill="#000"/>
<circle cx="384.6" cy="2437.8" r="3.4" fill="#000"/>
<rect x="393.4" y="2496.8" width="15.8" height="4.0" fill="#000" stroke="#000" stroke-width="1.7"/>
<line x1="401.3" y1="2496.0" x2="401.3" y2="2494.5" stroke="#000" stroke-width="1.1"/>
<line x1="397.4" y1="2494.5" x2="405.2" y2="2494.5" stroke="#000" stroke-width="1.1"/>
<circle cx="396.1" cy="2494.8" r="3.4" fill="#000"/>
<circle cx="400.9" cy="2496.8" r="3.4" fill="#000"/>
<circle cx="406.2" cy="2496.3" r="3.4" fill="#000"/>
<rect x="434.3" y="2396.3" width="15.8" height="104.5" fill="#1f5ba8" stroke="#000" stroke-width="1.7"/>
<line x1="442.2" y1="2395.5" x2="442.2" y2="2388.1" stroke="#000" stroke-width="1.1"/>
<line x1="438.3" y1="2388.1" x2="446.1" y2="2388.1" stroke="#000" stroke-width="1.1"/>
<circle cx="436.9" cy="2393.3" r="3.4" fill="#000"/>
<circle cx="442.2" cy="2388.8" r="3.4" fill="#000"/>
<circle cx="447.4" cy="2402.9" r="3.4" fill="#000"/>
<rect x="456.2" y="2498.0" width="15.8" height="2.8" fill="#d6d6d6" stroke="#000" stroke-width="1.7"/>
<line x1="464.1" y1="2497.2" x2="464.1" y2="2495.7" stroke="#000" stroke-width="1.1"/>
<line x1="460.2" y1="2495.7" x2="468.0" y2="2495.7" stroke="#000" stroke-width="1.1"/>
<circle cx="459.2" cy="2497.8" r="3.4" fill="#000"/>
<circle cx="465.0" cy="2497.9" r="3.4" fill="#000"/>
<circle cx="469.4" cy="2495.9" r="3.4" fill="#000"/>
<rect x="478.1" y="2493.2" width="15.8" height="7.6" fill="#08721a" stroke="#000" stroke-width="1.7"/>
<line x1="486.0" y1="2492.4" x2="486.0" y2="2490.9" stroke="#000" stroke-width="1.1"/>
<line x1="482.1" y1="2490.9" x2="489.9" y2="2490.9" stroke="#000" stroke-width="1.1"/>
<circle cx="480.8" cy="2490.9" r="3.4" fill="#000"/>
<circle cx="485.6" cy="2492.8" r="3.4" fill="#000"/>
<circle cx="490.9" cy="2493.4" r="3.4" fill="#000"/>
<rect x="500.3" y="2494.4" width="15.8" height="6.4" fill="#000" stroke="#000" stroke-width="1.7"/>
<line x1="508.2" y1="2493.6" x2="508.2" y2="2492.1" stroke="#000" stroke-width="1.1"/>
<line x1="504.3" y1="2492.1" x2="512.1" y2="2492.1" stroke="#000" stroke-width="1.1"/>
<circle cx="502.9" cy="2494.9" r="3.4" fill="#000"/>
<circle cx="508.2" cy="2493.3" r="3.4" fill="#000"/>
<circle cx="513.5" cy="2492.6" r="3.4" fill="#000"/>
<line x1="123.3" y1="2500.8" x2="123.3" y2="2506.8" stroke="#000" stroke-width="1.8"/>
<line x1="145.2" y1="2500.8" x2="145.2" y2="2506.8" stroke="#000" stroke-width="1.8"/>
<line x1="167.1" y1="2500.8" x2="167.1" y2="2506.8" stroke="#000" stroke-width="1.8"/>
<line x1="189.0" y1="2500.8" x2="189.0" y2="2506.8" stroke="#000" stroke-width="1.8"/>
<line x1="229.8" y1="2500.8" x2="229.8" y2="2506.8" stroke="#000" stroke-width="1.8"/>
<line x1="251.7" y1="2500.8" x2="251.7" y2="2506.8" stroke="#000" stroke-width="1.8"/>
<line x1="273.6" y1="2500.8" x2="273.6" y2="2506.8" stroke="#000" stroke-width="1.8"/>
<line x1="294.8" y1="2500.8" x2="294.8" y2="2506.8" stroke="#000" stroke-width="1.8"/>
<line x1="335.6" y1="2500.8" x2="335.6" y2="2506.8" stroke="#000" stroke-width="1.8"/>
<line x1="357.5" y1="2500.8" x2="357.5" y2="2506.8" stroke="#000" stroke-width="1.8"/>
<line x1="379.4" y1="2500.8" x2="379.4" y2="2506.8" stroke="#000" stroke-width="1.8"/>
<line x1="401.3" y1="2500.8" x2="401.3" y2="2506.8" stroke="#000" stroke-width="1.8"/>
<line x1="442.2" y1="2500.8" x2="442.2" y2="2506.8" stroke="#000" stroke-width="1.8"/>
<line x1="464.1" y1="2500.8" x2="464.1" y2="2506.8" stroke="#000" stroke-width="1.8"/>
<line x1="486.0" y1="2500.8" x2="486.0" y2="2506.8" stroke="#000" stroke-width="1.8"/>
<line x1="508.2" y1="2500.8" x2="508.2" y2="2506.8" stroke="#000" stroke-width="1.8"/>
<text x="156.10" y="2545.30" font-size="22.5" text-anchor="middle" fill="#000">1</text>
<text x="259.00" y="2545.30" font-size="22.5" text-anchor="middle" fill="#000">5</text>
<text x="367.40" y="2545.30" font-size="22.5" text-anchor="middle" fill="#000">10</text>
<text x="474.30" y="2545.30" font-size="22.5" text-anchor="middle" fill="#000">25</text>
<text x="123.40" y="2355.60" font-size="20" text-anchor="start" fill="#000">Citrate</text>
<line x1="583.9" y1="2355.1" x2="583.9" y2="2501.4" stroke="#000" stroke-width="1.8"/>
<line x1="577.9" y1="2500.5" x2="583.9" y2="2500.5" stroke="#000" stroke-width="1.8"/>
<text x="575.55" y="2507.53" font-size="21.5" text-anchor="end" fill="#000">0</text>
<line x1="577.9" y1="2452.4" x2="583.9" y2="2452.4" stroke="#000" stroke-width="1.8"/>
<text x="575.55" y="2459.39" font-size="21.5" text-anchor="end" fill="#000">40</text>
<line x1="577.9" y1="2404.2" x2="583.9" y2="2404.2" stroke="#000" stroke-width="1.8"/>
<text x="575.55" y="2411.26" font-size="21.5" text-anchor="end" fill="#000">80</text>
<line x1="577.9" y1="2356.1" x2="583.9" y2="2356.1" stroke="#000" stroke-width="1.8"/>
<text x="575.55" y="2363.12" font-size="21.5" text-anchor="end" fill="#000">120</text>
<line x1="583.0" y1="2500.5" x2="1006.5" y2="2500.5" stroke="#000" stroke-width="1.8"/>
<rect x="594.2" y="2474.2" width="15.8" height="26.3" fill="#1f5ba8" stroke="#000" stroke-width="1.7"/>
<line x1="602.1" y1="2473.3" x2="602.1" y2="2471.4" stroke="#000" stroke-width="1.1"/>
<line x1="598.2" y1="2471.4" x2="606.0" y2="2471.4" stroke="#000" stroke-width="1.1"/>
<circle cx="596.9" cy="2475.0" r="3.4" fill="#000"/>
<circle cx="602.1" cy="2472.9" r="3.4" fill="#000"/>
<circle cx="607.4" cy="2472.0" r="3.4" fill="#000"/>
<rect x="615.8" y="2495.3" width="15.8" height="5.2" fill="#d6d6d6" stroke="#000" stroke-width="1.7"/>
<line x1="623.7" y1="2494.5" x2="623.7" y2="2493.0" stroke="#000" stroke-width="1.1"/>
<line x1="619.8" y1="2493.0" x2="627.6" y2="2493.0" stroke="#000" stroke-width="1.1"/>
<circle cx="618.8" cy="2493.3" r="3.4" fill="#000"/>
<circle cx="624.6" cy="2495.3" r="3.4" fill="#000"/>
<circle cx="629.0" cy="2494.8" r="3.4" fill="#000"/>
<rect x="638.1" y="2408.7" width="15.8" height="91.8" fill="#08721a" stroke="#000" stroke-width="1.7"/>
<line x1="646.0" y1="2407.8" x2="646.0" y2="2401.4" stroke="#000" stroke-width="1.1"/>
<line x1="642.1" y1="2401.4" x2="649.9" y2="2401.4" stroke="#000" stroke-width="1.1"/>
<circle cx="640.8" cy="2405.9" r="3.4" fill="#000"/>
<circle cx="645.6" cy="2402.0" r="3.4" fill="#000"/>
<circle cx="650.9" cy="2414.3" r="3.4" fill="#000"/>
<rect x="659.7" y="2495.3" width="15.8" height="5.2" fill="#000" stroke="#000" stroke-width="1.7"/>
<line x1="667.6" y1="2494.5" x2="667.6" y2="2493.0" stroke="#000" stroke-width="1.1"/>
<line x1="663.7" y1="2493.0" x2="671.5" y2="2493.0" stroke="#000" stroke-width="1.1"/>
<circle cx="662.4" cy="2495.1" r="3.4" fill="#000"/>
<circle cx="667.6" cy="2495.2" r="3.4" fill="#000"/>
<circle cx="672.9" cy="2493.2" r="3.4" fill="#000"/>
<rect x="700.3" y="2476.1" width="15.8" height="24.4" fill="#1f5ba8" stroke="#000" stroke-width="1.7"/>
<line x1="708.2" y1="2475.2" x2="708.2" y2="2473.5" stroke="#000" stroke-width="1.1"/>
<line x1="704.3" y1="2473.5" x2="712.1" y2="2473.5" stroke="#000" stroke-width="1.1"/>
<circle cx="703.3" cy="2473.5" r="3.4" fill="#000"/>
<circle cx="709.1" cy="2475.8" r="3.4" fill="#000"/>
<circle cx="713.5" cy="2476.5" r="3.4" fill="#000"/>
<rect x="722.2" y="2492.9" width="15.8" height="7.6" fill="#d6d6d6" stroke="#000" stroke-width="1.7"/>
<line x1="730.1" y1="2492.1" x2="730.1" y2="2483.7" stroke="#000" stroke-width="1.1"/>
<line x1="726.2" y1="2483.7" x2="734.0" y2="2483.7" stroke="#000" stroke-width="1.1"/>
<circle cx="724.9" cy="2499.5" r="3.4" fill="#000"/>
<circle cx="729.8" cy="2490.4" r="3.4" fill="#000"/>
<circle cx="735.0" cy="2486.2" r="3.4" fill="#000"/>
<rect x="744.5" y="2426.3" width="15.8" height="74.2" fill="#08721a" stroke="#000" stroke-width="1.7"/>
<line x1="752.4" y1="2425.4" x2="752.4" y2="2415.8" stroke="#000" stroke-width="1.1"/>
<line x1="748.5" y1="2415.8" x2="756.3" y2="2415.8" stroke="#000" stroke-width="1.1"/>
<circle cx="747.1" cy="2417.7" r="3.4" fill="#000"/>
<circle cx="752.4" cy="2431.2" r="3.4" fill="#000"/>
<circle cx="757.6" cy="2427.3" r="3.4" fill="#000"/>
<rect x="766.2" y="2494.1" width="15.8" height="6.4" fill="#000" stroke="#000" stroke-width="1.7"/>
<line x1="774.1" y1="2493.3" x2="774.1" y2="2491.8" stroke="#000" stroke-width="1.1"/>
<line x1="770.2" y1="2491.8" x2="778.0" y2="2491.8" stroke="#000" stroke-width="1.1"/>
<circle cx="769.2" cy="2492.8" r="3.4" fill="#000"/>
<circle cx="775.0" cy="2492.0" r="3.4" fill="#000"/>
<circle cx="779.4" cy="2494.7" r="3.4" fill="#000"/>
<rect x="807.0" y="2450.1" width="15.8" height="50.4" fill="#1f5ba8" stroke="#000" stroke-width="1.7"/>
<line x1="814.9" y1="2449.2" x2="814.9" y2="2445.6" stroke="#000" stroke-width="1.1"/>
<line x1="811.0" y1="2445.6" x2="818.8" y2="2445.6" stroke="#000" stroke-width="1.1"/>
<circle cx="809.6" cy="2450.7" r="3.4" fill="#000"/>
<circle cx="814.5" cy="2451.0" r="3.4" fill="#000"/>
<circle cx="819.8" cy="2446.0" r="3.4" fill="#000"/>
<rect x="828.7" y="2492.9" width="15.8" height="7.6" fill="#d6d6d6" stroke="#000" stroke-width="1.7"/>
<line x1="836.6" y1="2492.1" x2="836.6" y2="2482.4" stroke="#000" stroke-width="1.1"/>
<line x1="832.7" y1="2482.4" x2="840.5" y2="2482.4" stroke="#000" stroke-width="1.1"/>
<circle cx="831.4" cy="2482.4" r="3.4" fill="#000"/>
<circle cx="836.6" cy="2495.0" r="3.4" fill="#000"/>
<circle cx="841.9" cy="2498.8" r="3.4" fill="#000"/>
<rect x="851.0" y="2448.6" width="15.8" height="51.9" fill="#08721a" stroke="#000" stroke-width="1.7"/>
<line x1="858.9" y1="2447.8" x2="858.9" y2="2444.1" stroke="#000" stroke-width="1.1"/>
<line x1="855.0" y1="2444.1" x2="862.8" y2="2444.1" stroke="#000" stroke-width="1.1"/>
<circle cx="854.0" cy="2451.1" r="3.4" fill="#000"/>
<circle cx="859.8" cy="2447.1" r="3.4" fill="#000"/>
<circle cx="864.1" cy="2445.2" r="3.4" fill="#000"/>
<rect x="872.9" y="2496.5" width="15.8" height="4.0" fill="#000" stroke="#000" stroke-width="1.7"/>
<line x1="880.8" y1="2495.7" x2="880.8" y2="2494.2" stroke="#000" stroke-width="1.1"/>
<line x1="876.9" y1="2494.2" x2="884.7" y2="2494.2" stroke="#000" stroke-width="1.1"/>
<circle cx="875.5" cy="2494.5" r="3.4" fill="#000"/>
<circle cx="880.4" cy="2496.6" r="3.4" fill="#000"/>
<circle cx="885.7" cy="2496.0" r="3.4" fill="#000"/>
<rect x="913.5" y="2401.8" width="15.8" height="98.7" fill="#1f5ba8" stroke="#000" stroke-width="1.7"/>
<line x1="921.4" y1="2401.0" x2="921.4" y2="2390.2" stroke="#000" stroke-width="1.1"/>
<line x1="917.5" y1="2390.2" x2="925.3" y2="2390.2" stroke="#000" stroke-width="1.1"/>
<circle cx="916.1" cy="2397.7" r="3.4" fill="#000"/>
<circle cx="921.4" cy="2391.2" r="3.4" fill="#000"/>
<circle cx="926.6" cy="2411.8" r="3.4" fill="#000"/>
<rect x="935.4" y="2497.7" width="15.8" height="2.8" fill="#d6d6d6" stroke="#000" stroke-width="1.7"/>
<line x1="943.3" y1="2496.9" x2="943.3" y2="2495.4" stroke="#000" stroke-width="1.1"/>
<line x1="939.4" y1="2495.4" x2="947.2" y2="2495.4" stroke="#000" stroke-width="1.1"/>
<circle cx="938.4" cy="2497.5" r="3.4" fill="#000"/>
<circle cx="944.2" cy="2497.6" r="3.4" fill="#000"/>
<circle cx="948.5" cy="2495.6" r="3.4" fill="#000"/>
<rect x="957.4" y="2490.5" width="15.8" height="10.0" fill="#08721a" stroke="#000" stroke-width="1.7"/>
<line x1="965.3" y1="2489.7" x2="965.3" y2="2488.2" stroke="#000" stroke-width="1.1"/>
<line x1="961.4" y1="2488.2" x2="969.2" y2="2488.2" stroke="#000" stroke-width="1.1"/>
<circle cx="960.0" cy="2488.2" r="3.4" fill="#000"/>
<circle cx="964.9" cy="2490.1" r="3.4" fill="#000"/>
<circle cx="970.2" cy="2490.7" r="3.4" fill="#000"/>
<rect x="979.3" y="2496.5" width="15.8" height="4.0" fill="#000" stroke="#000" stroke-width="1.7"/>
<line x1="987.2" y1="2495.7" x2="987.2" y2="2494.2" stroke="#000" stroke-width="1.1"/>
<line x1="983.3" y1="2494.2" x2="991.1" y2="2494.2" stroke="#000" stroke-width="1.1"/>
<circle cx="982.0" cy="2497.0" r="3.4" fill="#000"/>
<circle cx="987.2" cy="2495.4" r="3.4" fill="#000"/>
<circle cx="992.5" cy="2494.7" r="3.4" fill="#000"/>
<line x1="602.1" y1="2500.5" x2="602.1" y2="2506.5" stroke="#000" stroke-width="1.8"/>
<line x1="623.7" y1="2500.5" x2="623.7" y2="2506.5" stroke="#000" stroke-width="1.8"/>
<line x1="646.0" y1="2500.5" x2="646.0" y2="2506.5" stroke="#000" stroke-width="1.8"/>
<line x1="667.6" y1="2500.5" x2="667.6" y2="2506.5" stroke="#000" stroke-width="1.8"/>
<line x1="708.2" y1="2500.5" x2="708.2" y2="2506.5" stroke="#000" stroke-width="1.8"/>
<line x1="730.1" y1="2500.5" x2="730.1" y2="2506.5" stroke="#000" stroke-width="1.8"/>
<line x1="752.4" y1="2500.5" x2="752.4" y2="2506.5" stroke="#000" stroke-width="1.8"/>
<line x1="774.1" y1="2500.5" x2="774.1" y2="2506.5" stroke="#000" stroke-width="1.8"/>
<line x1="814.9" y1="2500.5" x2="814.9" y2="2506.5" stroke="#000" stroke-width="1.8"/>
<line x1="836.6" y1="2500.5" x2="836.6" y2="2506.5" stroke="#000" stroke-width="1.8"/>
<line x1="858.9" y1="2500.5" x2="858.9" y2="2506.5" stroke="#000" stroke-width="1.8"/>
<line x1="880.8" y1="2500.5" x2="880.8" y2="2506.5" stroke="#000" stroke-width="1.8"/>
<line x1="921.4" y1="2500.5" x2="921.4" y2="2506.5" stroke="#000" stroke-width="1.8"/>
<line x1="943.3" y1="2500.5" x2="943.3" y2="2506.5" stroke="#000" stroke-width="1.8"/>
<line x1="965.3" y1="2500.5" x2="965.3" y2="2506.5" stroke="#000" stroke-width="1.8"/>
<line x1="987.2" y1="2500.5" x2="987.2" y2="2506.5" stroke="#000" stroke-width="1.8"/>
<text x="633.90" y="2544.80" font-size="22.5" text-anchor="middle" fill="#000">1</text>
<text x="737.20" y="2544.80" font-size="22.5" text-anchor="middle" fill="#000">5</text>
<text x="845.30" y="2544.80" font-size="22.5" text-anchor="middle" fill="#000">10</text>
<text x="952.40" y="2544.80" font-size="22.5" text-anchor="middle" fill="#000">25</text>
<text x="609.90" y="2355.60" font-size="20" text-anchor="start" fill="#000">Succinate</text>
<line x1="1060.0" y1="2353.2" x2="1060.0" y2="2499.3" stroke="#000" stroke-width="1.8"/>
<line x1="1054.0" y1="2498.4" x2="1060.0" y2="2498.4" stroke="#000" stroke-width="1.8"/>
<text x="1051.65" y="2505.43" font-size="21.5" text-anchor="end" fill="#000">0</text>
<line x1="1054.0" y1="2450.3" x2="1060.0" y2="2450.3" stroke="#000" stroke-width="1.8"/>
<text x="1051.65" y="2457.36" font-size="21.5" text-anchor="end" fill="#000">40</text>
<line x1="1054.0" y1="2402.3" x2="1060.0" y2="2402.3" stroke="#000" stroke-width="1.8"/>
<text x="1051.65" y="2409.29" font-size="21.5" text-anchor="end" fill="#000">80</text>
<line x1="1054.0" y1="2354.2" x2="1060.0" y2="2354.2" stroke="#000" stroke-width="1.8"/>
<text x="1051.65" y="2361.22" font-size="21.5" text-anchor="end" fill="#000">120</text>
<line x1="1059.0" y1="2498.4" x2="1482.8" y2="2498.4" stroke="#000" stroke-width="1.8"/>
<rect x="1069.5" y="2492.0" width="15.8" height="6.4" fill="#1f5ba8" stroke="#000" stroke-width="1.7"/>
<line x1="1077.4" y1="2491.2" x2="1077.4" y2="2489.7" stroke="#000" stroke-width="1.1"/>
<line x1="1073.5" y1="2489.7" x2="1081.3" y2="2489.7" stroke="#000" stroke-width="1.1"/>
<circle cx="1072.2" cy="2492.5" r="3.4" fill="#000"/>
<circle cx="1077.4" cy="2490.9" r="3.4" fill="#000"/>
<circle cx="1082.7" cy="2490.2" r="3.4" fill="#000"/>
<rect x="1092.0" y="2489.6" width="15.8" height="8.8" fill="#d6d6d6" stroke="#000" stroke-width="1.7"/>
<line x1="1099.9" y1="2488.8" x2="1099.9" y2="2487.3" stroke="#000" stroke-width="1.1"/>
<line x1="1096.0" y1="2487.3" x2="1103.8" y2="2487.3" stroke="#000" stroke-width="1.1"/>
<circle cx="1095.0" cy="2487.6" r="3.4" fill="#000"/>
<circle cx="1100.8" cy="2489.7" r="3.4" fill="#000"/>
<circle cx="1105.2" cy="2489.1" r="3.4" fill="#000"/>
<rect x="1114.2" y="2413.8" width="15.8" height="84.6" fill="#08721a" stroke="#000" stroke-width="1.7"/>
<line x1="1122.1" y1="2413.0" x2="1122.1" y2="2407.0" stroke="#000" stroke-width="1.1"/>
<line x1="1118.2" y1="2407.0" x2="1126.0" y2="2407.0" stroke="#000" stroke-width="1.1"/>
<circle cx="1116.8" cy="2411.2" r="3.4" fill="#000"/>
<circle cx="1121.8" cy="2407.6" r="3.4" fill="#000"/>
<circle cx="1127.0" cy="2418.9" r="3.4" fill="#000"/>
<rect x="1136.1" y="2476.4" width="15.8" height="22.0" fill="#000" stroke="#000" stroke-width="1.7"/>
<line x1="1144.0" y1="2475.6" x2="1144.0" y2="2474.0" stroke="#000" stroke-width="1.1"/>
<line x1="1140.1" y1="2474.0" x2="1147.9" y2="2474.0" stroke="#000" stroke-width="1.1"/>
<circle cx="1138.8" cy="2476.2" r="3.4" fill="#000"/>
<circle cx="1144.0" cy="2476.4" r="3.4" fill="#000"/>
<circle cx="1149.2" cy="2474.1" r="3.4" fill="#000"/>
<rect x="1176.5" y="2470.4" width="15.8" height="28.0" fill="#1f5ba8" stroke="#000" stroke-width="1.7"/>
<line x1="1184.4" y1="2469.6" x2="1184.4" y2="2467.5" stroke="#000" stroke-width="1.1"/>
<line x1="1180.5" y1="2467.5" x2="1188.3" y2="2467.5" stroke="#000" stroke-width="1.1"/>
<circle cx="1179.5" cy="2467.5" r="3.4" fill="#000"/>
<circle cx="1185.3" cy="2470.2" r="3.4" fill="#000"/>
<circle cx="1189.7" cy="2471.0" r="3.4" fill="#000"/>
<rect x="1198.4" y="2488.4" width="15.8" height="10.0" fill="#d6d6d6" stroke="#000" stroke-width="1.7"/>
<line x1="1206.3" y1="2487.6" x2="1206.3" y2="2486.1" stroke="#000" stroke-width="1.1"/>
<line x1="1202.4" y1="2486.1" x2="1210.2" y2="2486.1" stroke="#000" stroke-width="1.1"/>
<circle cx="1201.0" cy="2488.9" r="3.4" fill="#000"/>
<circle cx="1206.0" cy="2487.3" r="3.4" fill="#000"/>
<circle cx="1211.2" cy="2486.6" r="3.4" fill="#000"/>
<rect x="1220.2" y="2419.9" width="15.8" height="78.5" fill="#08721a" stroke="#000" stroke-width="1.7"/>
<line x1="1228.1" y1="2419.1" x2="1228.1" y2="2413.5" stroke="#000" stroke-width="1.1"/>
<line x1="1224.2" y1="2413.5" x2="1232.0" y2="2413.5" stroke="#000" stroke-width="1.1"/>
<circle cx="1222.8" cy="2414.6" r="3.4" fill="#000"/>
<circle cx="1228.1" cy="2422.4" r="3.4" fill="#000"/>
<circle cx="1233.3" cy="2420.2" r="3.4" fill="#000"/>
<rect x="1242.8" y="2489.6" width="15.8" height="8.8" fill="#000" stroke="#000" stroke-width="1.7"/>
<line x1="1250.7" y1="2488.8" x2="1250.7" y2="2487.3" stroke="#000" stroke-width="1.1"/>
<line x1="1246.8" y1="2487.3" x2="1254.6" y2="2487.3" stroke="#000" stroke-width="1.1"/>
<circle cx="1245.8" cy="2488.4" r="3.4" fill="#000"/>
<circle cx="1251.6" cy="2487.5" r="3.4" fill="#000"/>
<circle cx="1256.0" cy="2490.2" r="3.4" fill="#000"/>
<rect x="1283.1" y="2424.3" width="15.8" height="74.1" fill="#1f5ba8" stroke="#000" stroke-width="1.7"/>
<line x1="1291.0" y1="2423.4" x2="1291.0" y2="2413.8" stroke="#000" stroke-width="1.1"/>
<line x1="1287.1" y1="2413.8" x2="1294.9" y2="2413.8" stroke="#000" stroke-width="1.1"/>
<circle cx="1285.8" cy="2427.3" r="3.4" fill="#000"/>
<circle cx="1290.7" cy="2428.2" r="3.4" fill="#000"/>
<circle cx="1295.9" cy="2414.8" r="3.4" fill="#000"/>
<rect x="1305.0" y="2495.6" width="15.8" height="2.8" fill="#d6d6d6" stroke="#000" stroke-width="1.7"/>
<line x1="1312.9" y1="2494.8" x2="1312.9" y2="2493.4" stroke="#000" stroke-width="1.1"/>
<line x1="1309.0" y1="2493.4" x2="1316.8" y2="2493.4" stroke="#000" stroke-width="1.1"/>
<circle cx="1307.7" cy="2493.4" r="3.4" fill="#000"/>
<circle cx="1312.9" cy="2495.2" r="3.4" fill="#000"/>
<circle cx="1318.2" cy="2495.8" r="3.4" fill="#000"/>
<rect x="1327.6" y="2455.4" width="15.8" height="43.0" fill="#08721a" stroke="#000" stroke-width="1.7"/>
<line x1="1335.5" y1="2454.5" x2="1335.5" y2="2451.5" stroke="#000" stroke-width="1.1"/>
<line x1="1331.6" y1="2451.5" x2="1339.4" y2="2451.5" stroke="#000" stroke-width="1.1"/>
<circle cx="1330.6" cy="2457.3" r="3.4" fill="#000"/>
<circle cx="1336.4" cy="2453.9" r="3.4" fill="#000"/>
<circle cx="1340.8" cy="2452.4" r="3.4" fill="#000"/>
<rect x="1349.4" y="2490.8" width="15.8" height="7.6" fill="#000" stroke="#000" stroke-width="1.7"/>
<line x1="1357.3" y1="2490.0" x2="1357.3" y2="2488.5" stroke="#000" stroke-width="1.1"/>
<line x1="1353.4" y1="2488.5" x2="1361.2" y2="2488.5" stroke="#000" stroke-width="1.1"/>
<circle cx="1352.0" cy="2488.8" r="3.4" fill="#000"/>
<circle cx="1357.0" cy="2490.9" r="3.4" fill="#000"/>
<circle cx="1362.2" cy="2490.3" r="3.4" fill="#000"/>
<rect x="1389.1" y="2406.4" width="15.8" height="92.0" fill="#1f5ba8" stroke="#000" stroke-width="1.7"/>
<line x1="1397.0" y1="2405.5" x2="1397.0" y2="2399.0" stroke="#000" stroke-width="1.1"/>
<line x1="1393.1" y1="2399.0" x2="1400.9" y2="2399.0" stroke="#000" stroke-width="1.1"/>
<circle cx="1391.8" cy="2403.6" r="3.4" fill="#000"/>
<circle cx="1397.0" cy="2399.7" r="3.4" fill="#000"/>
<circle cx="1402.2" cy="2412.0" r="3.4" fill="#000"/>
<rect x="1411.0" y="2489.6" width="15.8" height="8.8" fill="#d6d6d6" stroke="#000" stroke-width="1.7"/>
<line x1="1418.9" y1="2488.8" x2="1418.9" y2="2487.3" stroke="#000" stroke-width="1.1"/>
<line x1="1415.0" y1="2487.3" x2="1422.8" y2="2487.3" stroke="#000" stroke-width="1.1"/>
<circle cx="1414.0" cy="2489.4" r="3.4" fill="#000"/>
<circle cx="1419.8" cy="2489.5" r="3.4" fill="#000"/>
<circle cx="1424.2" cy="2487.5" r="3.4" fill="#000"/>
<rect x="1432.9" y="2489.6" width="15.8" height="8.8" fill="#08721a" stroke="#000" stroke-width="1.7"/>
<line x1="1440.8" y1="2488.8" x2="1440.8" y2="2487.3" stroke="#000" stroke-width="1.1"/>
<line x1="1436.9" y1="2487.3" x2="1444.7" y2="2487.3" stroke="#000" stroke-width="1.1"/>
<circle cx="1435.5" cy="2487.3" r="3.4" fill="#000"/>
<circle cx="1440.5" cy="2489.2" r="3.4" fill="#000"/>
<circle cx="1445.7" cy="2489.8" r="3.4" fill="#000"/>
<rect x="1455.4" y="2490.8" width="15.8" height="7.6" fill="#000" stroke="#000" stroke-width="1.7"/>
<line x1="1463.3" y1="2490.0" x2="1463.3" y2="2488.5" stroke="#000" stroke-width="1.1"/>
<line x1="1459.4" y1="2488.5" x2="1467.2" y2="2488.5" stroke="#000" stroke-width="1.1"/>
<circle cx="1458.0" cy="2491.3" r="3.4" fill="#000"/>
<circle cx="1463.3" cy="2489.7" r="3.4" fill="#000"/>
<circle cx="1468.5" cy="2489.0" r="3.4" fill="#000"/>
<line x1="1077.4" y1="2498.4" x2="1077.4" y2="2504.4" stroke="#000" stroke-width="1.8"/>
<line x1="1099.9" y1="2498.4" x2="1099.9" y2="2504.4" stroke="#000" stroke-width="1.8"/>
<line x1="1122.1" y1="2498.4" x2="1122.1" y2="2504.4" stroke="#000" stroke-width="1.8"/>
<line x1="1144.0" y1="2498.4" x2="1144.0" y2="2504.4" stroke="#000" stroke-width="1.8"/>
<line x1="1184.4" y1="2498.4" x2="1184.4" y2="2504.4" stroke="#000" stroke-width="1.8"/>
<line x1="1206.3" y1="2498.4" x2="1206.3" y2="2504.4" stroke="#000" stroke-width="1.8"/>
<line x1="1228.1" y1="2498.4" x2="1228.1" y2="2504.4" stroke="#000" stroke-width="1.8"/>
<line x1="1250.7" y1="2498.4" x2="1250.7" y2="2504.4" stroke="#000" stroke-width="1.8"/>
<line x1="1291.0" y1="2498.4" x2="1291.0" y2="2504.4" stroke="#000" stroke-width="1.8"/>
<line x1="1312.9" y1="2498.4" x2="1312.9" y2="2504.4" stroke="#000" stroke-width="1.8"/>
<line x1="1335.5" y1="2498.4" x2="1335.5" y2="2504.4" stroke="#000" stroke-width="1.8"/>
<line x1="1357.3" y1="2498.4" x2="1357.3" y2="2504.4" stroke="#000" stroke-width="1.8"/>
<line x1="1397.0" y1="2498.4" x2="1397.0" y2="2504.4" stroke="#000" stroke-width="1.8"/>
<line x1="1418.9" y1="2498.4" x2="1418.9" y2="2504.4" stroke="#000" stroke-width="1.8"/>
<line x1="1440.8" y1="2498.4" x2="1440.8" y2="2504.4" stroke="#000" stroke-width="1.8"/>
<line x1="1463.3" y1="2498.4" x2="1463.3" y2="2504.4" stroke="#000" stroke-width="1.8"/>
<text x="1111.00" y="2543.90" font-size="22.5" text-anchor="middle" fill="#000">1</text>
<text x="1215.30" y="2543.90" font-size="22.5" text-anchor="middle" fill="#000">5</text>
<text x="1322.30" y="2543.90" font-size="22.5" text-anchor="middle" fill="#000">10</text>
<text x="1430.70" y="2543.90" font-size="22.5" text-anchor="middle" fill="#000">25</text>
<text x="1081.80" y="2353.70" font-size="20" text-anchor="start" fill="#000">Malate</text>
<text x="1.95" y="2516.30" font-size="21.3" text-anchor="start" fill="#000">glucose</text>
<text x="65.70" y="2542.20" font-size="21.3" text-anchor="end" fill="#000">(mM)</text>
<text x="0" y="0" font-size="19.3" text-anchor="middle" dominant-baseline="central" transform="translate(38.3 2430.4) rotate(-90)">% of pool</text>
<rect x="1379.5" y="2273.5" width="10.5" height="10.5" fill="#1f5ba8" stroke="#222" stroke-width="1"/>
<rect x="1379.5" y="2296.4" width="10.5" height="10.5" fill="#d6d6d6" stroke="#d6d6d6" stroke-width="1"/>
<rect x="1379.5" y="2319.9" width="10.5" height="10.5" fill="#1c7d5a" stroke="#222" stroke-width="1"/>
<rect x="1379.5" y="2344.1" width="10.5" height="10.5" fill="#000" stroke="#222" stroke-width="1"/>
<text x="1407.70" y="2285.50" font-size="19.5" text-anchor="start" fill="#000">M+0</text>
<text x="1407.70" y="2308.50" font-size="19.5" text-anchor="start" fill="#000">M+1</text>
<text x="1407.70" y="2331.90" font-size="19.5" text-anchor="start" fill="#000">M+2</text>
<text x="1407.70" y="2355.40" font-size="19.5" text-anchor="start" fill="#000">M+3</text>
</svg></body></html>
